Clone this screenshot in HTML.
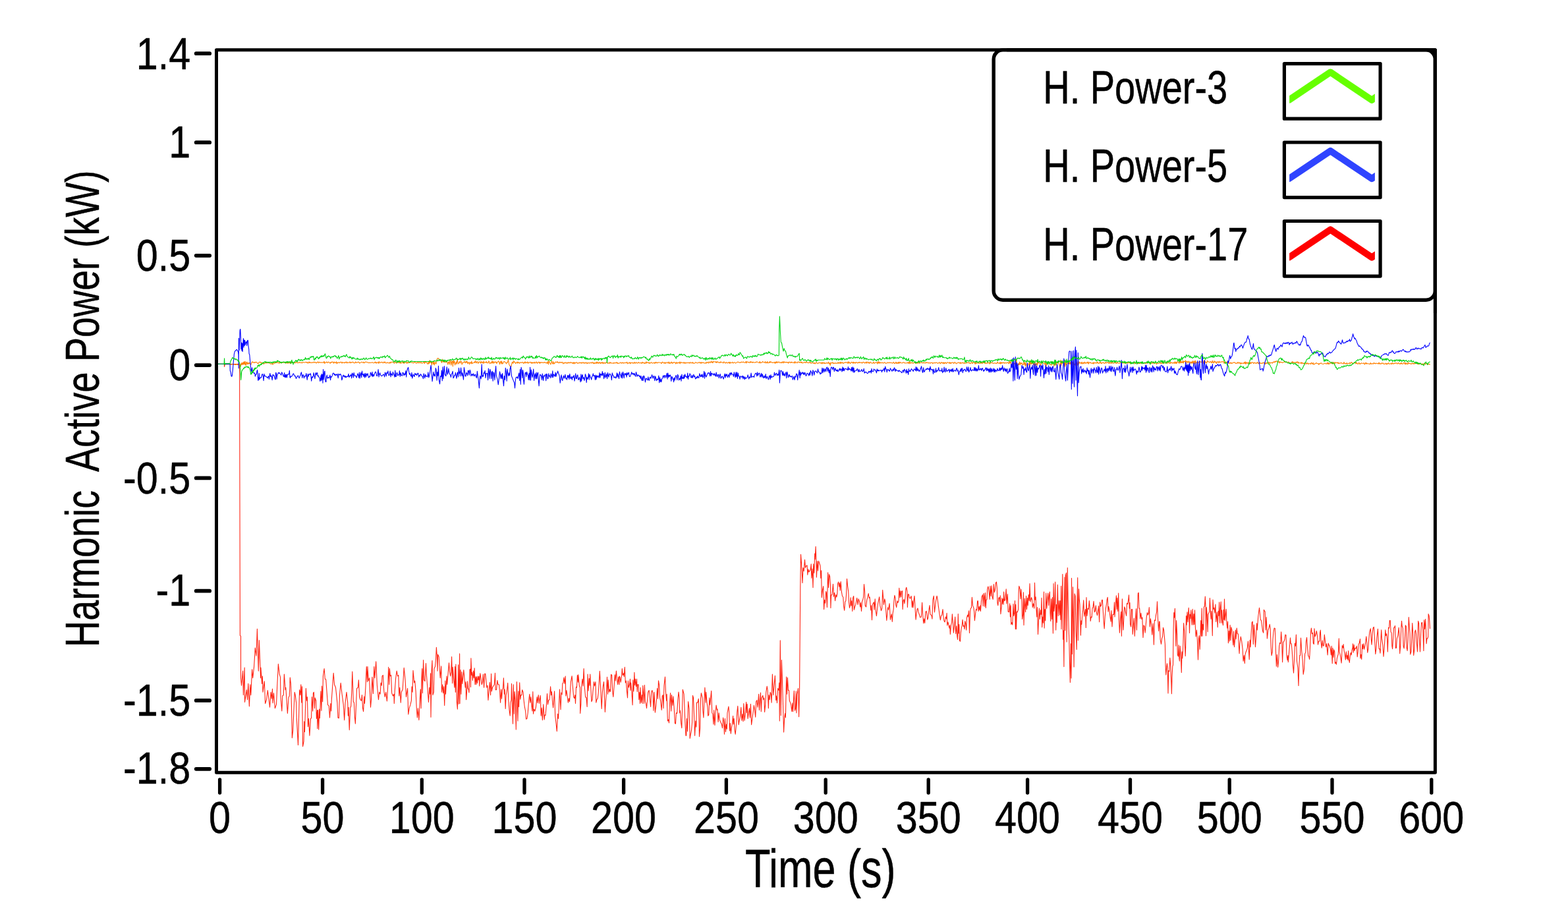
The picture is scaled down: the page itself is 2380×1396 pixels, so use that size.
<!DOCTYPE html>
<html lang="en"><head><meta charset="utf-8"><title>Harmonic Active Power</title>
<style>html,body{margin:0;padding:0;background:#fff;}body{width:2380px;height:1396px;overflow:hidden;}svg{display:block;}text{font-family:"Liberation Sans", sans-serif;fill:#000;white-space:pre;stroke:#000;stroke-width:0.50px;stroke-linejoin:round;}</style></head><body>
<svg width="2380" height="1396" viewBox="0 0 2380 1396">
<rect x="0" y="0" width="2380" height="1396" fill="#ffffff"/>
<g fill="none" stroke-linejoin="round" stroke-linecap="round">
<path d="M340.3 552.6 L340.6 556.5 L341.2 552.6 L363.6 552.6 L364.4 964.4 L365.5 965.1 L365.5 1028.8 L366.5 1040.3 L368.6 1018.1 L369.4 1054.6 L371.2 1013.1 L371.5 1065.4 L374.4 1046.7 L375.5 1061.8 L376.8 1037.4 L378.4 1071.8 L379.8 1038.8 L380.8 1054.6 L382.6 1015.9 L383.7 1028.8 L385.6 1011.6 L387.3 983.0 L389.0 995.2 L390.4 954.3 L392.3 1018.1 L393.4 971.5 L395.6 1028.8 L395.9 1013.1 L397.6 1037.4 L398.4 1026.0 L399.0 1050.3 L401.3 1033.8 L402.6 1067.5 L404.5 1061.8 L406.3 1047.5 L408.1 1061.1 L409.5 1073.2 L411.2 1050.3 L412.4 1060.3 L413.5 1045.3 L414.1 1066.8 L415.5 1051.8 L417.4 1074.7 L419.5 1068.9 L420.7 1041.7 L422.4 1007.6 L424.2 1023.1 L425.5 1027.4 L426.0 1057.5 L427.8 1079.0 L428.8 1056.0 L430.3 1054.6 L431.4 1023.1 L433.1 1046.7 L433.8 1043.2 L436.4 1082.5 L438.1 1058.2 L439.3 1056.0 L440.3 1028.1 L441.4 1037.4 L442.4 1068.9 L443.4 1119.8 L444.6 1109.0 L447.2 1050.3 L448.2 1054.6 L449.6 1066.1 L450.3 1090.4 L452.5 1130.5 L453.5 1090.4 L454.6 1046.7 L455.8 1054.6 L456.8 1038.8 L457.8 1066.1 L458.5 1041.7 L459.6 1132.7 L461.1 1124.8 L461.8 1094.7 L462.5 1110.5 L464.4 1044.6 L465.4 1063.2 L466.4 1057.5 L467.5 1102.6 L468.5 1090.4 L469.9 1116.2 L471.5 1090.4 L472.5 1089.7 L473.5 1057.5 L474.7 1079.0 L475.4 1051.8 L476.4 1050.3 L477.5 1074.7 L478.2 1058.9 L479.7 1063.2 L480.4 1090.4 L481.6 1077.5 L481.8 1105.5 L482.6 1077.5 L483.7 1106.9 L484.7 1076.1 L485.4 1089.7 L486.9 1048.9 L487.9 1078.2 L488.6 1041.0 L489.7 1064.6 L490.4 1026.0 L492.1 1014.5 L493.3 1030.3 L494.7 1031.0 L496.2 1051.8 L497.6 1069.7 L499.3 1071.1 L500.5 1089.0 L501.9 1067.5 L502.6 1079.0 L503.3 1061.8 L504.8 1040.3 L506.2 1021.4 L507.6 1038.8 L509.5 1043.2 L511.9 1066.1 L512.9 1089.0 L514.4 1089.7 L515.5 1054.6 L517.2 1036.3 L519.1 1053.2 L521.2 1068.9 L522.7 1092.6 L524.1 1066.1 L526.0 1050.3 L527.7 1066.1 L528.4 1086.1 L529.1 1073.2 L530.3 1107.6 L531.7 1074.0 L532.7 1071.8 L533.7 1051.8 L534.8 1019.1 L536.3 1064.6 L537.4 1066.1 L538.4 1087.6 L539.4 1098.3 L540.6 1068.2 L541.6 1044.6 L543.4 1043.2 L544.4 1031.7 L545.6 1057.5 L547.0 1061.8 L548.5 1063.2 L549.5 1054.6 L550.6 1074.7 L551.6 1079.7 L552.8 1056.8 L553.5 1067.5 L554.9 1043.2 L556.3 1011.6 L557.5 1034.6 L558.0 1011.6 L559.2 1033.1 L560.6 1028.8 L562.5 1073.2 L563.5 1061.8 L564.9 1027.4 L566.4 1052.5 L567.8 1011.6 L568.9 1028.8 L570.7 1003.8 L572.4 1040.3 L574.5 1061.8 L575.7 1050.3 L577.1 1053.2 L578.1 1036.0 L579.3 1040.3 L580.0 1026.0 L581.4 1024.5 L582.8 1048.9 L584.3 1057.5 L585.7 1050.3 L587.4 1063.9 L588.6 1043.2 L589.7 1012.4 L590.7 1038.8 L591.4 1014.5 L592.4 1026.0 L593.6 1024.5 L594.7 1051.8 L596.5 1056.0 L597.9 1053.2 L598.3 1067.5 L599.3 1047.5 L600.7 1028.8 L602.2 1018.1 L603.6 1026.0 L604.8 1024.5 L605.8 1056.0 L606.8 1043.2 L608.3 1066.1 L609.3 1050.3 L611.2 1046.0 L613.2 1013.4 L615.1 1031.7 L616.5 1057.5 L618.6 1044.6 L619.8 1084.0 L621.2 1074.7 L623.0 1068.9 L624.4 1063.2 L625.1 1041.7 L626.1 1050.3 L627.0 1017.4 L628.7 1036.0 L629.7 1033.1 L631.1 1048.9 L632.3 1074.7 L633.4 1089.0 L634.4 1074.7 L635.9 1092.6 L637.3 1061.8 L638.3 1046.0 L639.1 1074.7 L640.0 1028.8 L640.0 1028.8 L640.7 1014.5 L641.4 1051.8 L642.6 1001.6 L643.6 1031.7 L645.0 1033.8 L646.5 1006.6 L647.2 1021.7 L648.6 1040.3 L649.3 1048.9 L650.5 1065.4 L651.8 1043.2 L652.6 1053.2 L653.6 1021.7 L654.0 1088.3 L655.0 1020.2 L656.0 1002.3 L656.9 1054.6 L658.3 1050.3 L659.0 1014.5 L660.5 1011.6 L661.5 1000.2 L662.4 982.3 L663.4 997.3 L664.1 1018.1 L664.6 993.0 L666.2 996.6 L667.2 1013.1 L668.2 1028.8 L669.7 1010.9 L670.5 1050.3 L671.8 1038.8 L672.7 1051.8 L673.7 1041.7 L674.7 1070.4 L675.8 1033.1 L676.5 1053.2 L678.0 1026.0 L678.7 1038.8 L680.5 1017.4 L681.5 1005.9 L682.5 1019.5 L683.7 1026.0 L684.7 1020.2 L685.6 996.6 L686.6 1036.7 L687.3 1012.4 L688.7 1031.7 L689.9 1043.2 L690.6 1011.6 L691.3 1050.3 L691.9 1008.0 L692.6 1040.3 L693.4 1064.6 L694.4 1076.1 L695.2 1040.3 L695.6 1008.8 L696.3 1068.2 L697.6 991.9 L698.0 1067.5 L699.0 1016.6 L699.9 1053.2 L700.9 1019.5 L701.9 1037.4 L703.8 1016.6 L705.2 1031.7 L706.2 1043.2 L707.0 1034.6 L707.6 1061.8 L708.5 1050.3 L709.5 1033.8 L710.2 1044.6 L711.2 1046.0 L711.9 1051.0 L713.1 1015.9 L714.1 1015.2 L714.5 1042.4 L714.9 998.7 L715.9 1024.5 L716.6 1020.2 L717.4 1032.4 L718.5 1018.1 L719.2 1028.8 L720.2 1013.8 L721.0 1038.8 L722.0 1026.7 L722.8 1038.8 L723.5 1026.7 L724.5 1036.7 L725.5 1026.0 L726.4 1031.7 L727.1 1026.0 L727.7 1041.0 L728.8 1021.7 L730.3 1031.7 L731.3 1038.8 L732.4 1034.6 L733.4 1023.1 L734.6 1043.2 L735.7 1022.4 L736.7 1022.4 L737.9 1033.1 L738.9 1043.2 L739.9 1040.3 L741.0 1062.5 L742.0 1050.3 L743.4 1035.3 L744.6 1054.6 L745.6 1022.4 L746.3 1048.9 L747.5 1043.2 L748.9 1041.0 L750.3 1038.8 L751.5 1021.4 L752.2 1046.7 L753.6 1046.7 L754.9 1032.4 L756.0 1038.8 L757.5 1038.8 L758.5 1048.9 L759.6 1066.1 L760.6 1046.0 L761.5 1060.3 L762.5 1046.7 L763.5 1044.6 L764.4 1028.8 L765.4 1053.2 L766.1 1046.0 L767.2 1075.4 L768.2 1054.6 L769.7 1046.0 L770.7 1036.3 L771.8 1061.8 L773.0 1077.5 L774.2 1086.1 L775.0 1066.1 L776.1 1061.8 L776.5 1037.4 L777.5 1068.9 L778.5 1098.3 L779.3 1038.8 L780.4 1083.3 L781.1 1049.6 L782.3 1063.2 L783.3 1106.9 L784.4 1034.6 L785.9 1094.0 L786.9 1048.9 L787.6 1072.5 L788.7 1035.7 L789.7 1061.1 L790.7 1054.6 L791.9 1054.6 L792.6 1046.7 L794.0 1050.3 L795.0 1061.8 L796.2 1071.8 L797.6 1079.0 L798.6 1091.2 L800.0 1090.4 L801.2 1081.8 L802.6 1063.9 L803.8 1053.2 L804.8 1066.1 L805.9 1057.5 L806.9 1070.4 L807.9 1079.0 L808.8 1049.6 L809.5 1083.3 L810.5 1076.1 L811.9 1079.0 L813.4 1073.2 L815.1 1057.5 L815.9 1066.8 L817.2 1054.6 L818.4 1067.5 L819.1 1061.8 L820.2 1055.3 L821.2 1086.1 L822.2 1074.0 L823.4 1092.6 L824.8 1068.9 L826.2 1091.9 L827.0 1084.7 L828.0 1085.4 L829.4 1069.7 L830.5 1052.5 L831.5 1068.9 L832.7 1062.5 L834.1 1061.8 L835.6 1041.7 L836.6 1054.6 L837.4 1049.6 L838.4 1062.5 L839.6 1074.0 L840.6 1061.8 L841.6 1048.9 L842.7 1086.1 L844.1 1098.3 L845.3 1109.8 L846.6 1083.3 L847.5 1090.4 L848.5 1067.5 L849.5 1046.0 L850.3 1063.2 L851.0 1076.8 L852.0 1051.0 L853.0 1053.9 L853.8 1037.4 L854.9 1036.0 L855.9 1028.1 L857.0 1037.4 L858.2 1026.0 L858.8 1056.0 L859.9 1047.5 L861.4 1058.9 L862.4 1066.1 L863.5 1059.6 L864.5 1064.6 L865.2 1053.9 L866.4 1034.6 L868.1 1025.7 L869.2 1040.3 L870.7 1057.5 L871.8 1059.6 L872.8 1054.6 L873.5 1067.5 L874.5 1042.4 L875.4 1043.2 L876.4 1024.5 L877.4 1035.3 L877.8 1023.8 L879.3 1040.3 L880.4 1043.2 L880.7 1082.5 L881.8 1068.9 L882.8 1040.3 L884.0 1030.3 L885.0 1041.0 L886.1 1014.5 L887.1 1040.3 L888.6 1057.5 L890.0 1058.9 L891.1 1072.5 L892.1 1023.1 L893.1 1048.2 L894.3 1029.5 L895.0 1040.3 L895.7 1023.1 L896.7 1043.2 L897.9 1064.6 L899.0 1061.8 L900.0 1048.9 L901.5 1034.6 L902.5 1041.0 L903.9 1034.6 L904.8 1066.1 L905.8 1061.8 L907.2 1059.6 L908.2 1051.8 L909.3 1036.0 L910.3 1018.4 L911.5 1040.3 L913.2 1075.4 L914.4 1050.3 L915.4 1041.0 L916.5 1034.6 L917.5 1058.9 L918.4 1080.4 L919.4 1064.6 L920.4 1051.8 L921.5 1027.4 L922.5 1053.2 L923.2 1031.7 L924.4 1050.3 L925.5 1046.0 L926.5 1049.6 L927.5 1023.5 L928.7 1024.5 L929.7 1048.9 L930.8 1057.5 L932.3 1038.8 L933.3 1023.8 L934.1 1033.1 L935.4 1018.1 L936.6 1031.7 L937.7 1038.8 L938.7 1027.4 L940.0 1038.8 L940.0 1026.0 L941.1 1027.4 L942.1 1035.3 L943.6 1026.0 L944.3 1014.5 L945.3 1024.5 L946.5 1021.7 L947.2 1026.7 L948.3 1012.4 L949.3 1036.0 L950.3 1033.1 L951.5 1048.9 L952.5 1058.9 L953.3 1033.1 L954.3 1043.2 L955.5 1038.8 L956.5 1030.3 L956.9 1047.5 L957.6 1036.0 L958.9 1050.3 L960.1 1069.7 L960.8 1031.7 L961.8 1048.9 L962.9 1020.2 L963.6 1039.6 L964.4 1030.3 L965.5 1041.7 L966.5 1030.3 L967.2 1049.6 L967.9 1038.8 L969.1 1038.8 L969.8 1061.8 L970.8 1050.3 L971.5 1067.5 L972.2 1043.2 L973.2 1066.1 L974.4 1054.6 L975.1 1067.5 L975.8 1040.3 L977.0 1057.5 L977.5 1067.5 L978.4 1039.6 L979.4 1064.6 L980.5 1067.5 L981.5 1074.7 L982.5 1063.2 L983.7 1050.3 L985.1 1047.5 L986.1 1056.0 L987.6 1072.5 L988.7 1050.3 L989.9 1047.5 L990.9 1051.8 L991.9 1078.2 L993.0 1050.3 L994.4 1081.1 L995.6 1071.8 L996.6 1060.3 L997.6 1044.6 L998.5 1060.3 L999.5 1032.8 L1000.5 1038.8 L1001.6 1058.9 L1002.6 1063.2 L1004.2 1077.5 L1005.2 1056.0 L1006.2 1054.6 L1007.0 1074.7 L1008.0 1040.3 L1009.5 1027.1 L1010.5 1050.3 L1011.6 1063.2 L1012.1 1053.2 L1013.4 1094.0 L1014.5 1091.9 L1015.5 1096.9 L1016.6 1066.1 L1017.6 1051.5 L1018.8 1079.0 L1019.5 1054.6 L1021.0 1070.4 L1022.0 1056.8 L1023.1 1073.2 L1024.5 1097.6 L1025.5 1098.3 L1026.4 1081.8 L1027.7 1082.5 L1028.8 1063.2 L1030.0 1050.0 L1031.0 1058.9 L1031.7 1081.8 L1032.4 1078.2 L1033.8 1097.6 L1034.8 1104.8 L1036.3 1046.3 L1038.1 1053.2 L1038.8 1068.9 L1039.9 1096.2 L1041.0 1116.2 L1041.7 1116.2 L1042.4 1090.4 L1043.4 1109.8 L1044.6 1064.6 L1046.0 1075.4 L1047.2 1120.5 L1048.2 1114.8 L1049.6 1107.6 L1050.6 1096.2 L1051.5 1055.3 L1052.5 1058.9 L1053.5 1083.3 L1054.6 1116.2 L1055.8 1094.0 L1056.8 1103.3 L1057.5 1066.1 L1058.9 1066.1 L1060.3 1060.3 L1061.5 1117.7 L1062.5 1106.2 L1063.5 1060.3 L1064.4 1051.5 L1066.1 1058.9 L1066.8 1077.5 L1067.9 1089.0 L1068.9 1063.2 L1069.9 1043.4 L1071.1 1066.1 L1071.8 1050.3 L1073.0 1066.1 L1074.0 1073.2 L1074.7 1086.1 L1075.8 1084.7 L1076.8 1058.9 L1077.8 1069.7 L1078.7 1058.9 L1079.7 1048.2 L1080.8 1081.8 L1081.8 1083.3 L1083.0 1099.0 L1083.7 1077.5 L1085.0 1100.5 L1086.1 1081.8 L1087.1 1070.1 L1088.3 1077.5 L1089.0 1076.1 L1090.1 1095.4 L1091.2 1081.8 L1092.2 1091.9 L1094.0 1096.2 L1095.4 1099.0 L1096.5 1104.8 L1097.6 1089.0 L1098.6 1094.0 L1099.5 1114.1 L1100.5 1090.4 L1101.5 1110.5 L1102.6 1099.0 L1103.3 1106.2 L1104.0 1081.8 L1104.8 1077.5 L1105.9 1072.1 L1106.9 1083.3 L1107.6 1109.0 L1108.3 1097.6 L1109.3 1113.3 L1110.5 1103.3 L1111.5 1097.6 L1112.6 1086.4 L1113.3 1099.0 L1114.1 1090.4 L1115.1 1107.6 L1116.2 1114.1 L1117.7 1098.3 L1118.8 1080.4 L1119.8 1071.4 L1121.2 1099.7 L1122.2 1093.3 L1123.4 1087.6 L1124.8 1073.2 L1125.8 1093.3 L1127.0 1083.3 L1128.0 1094.7 L1128.8 1067.5 L1130.1 1093.3 L1131.3 1083.3 L1132.7 1065.4 L1133.4 1081.8 L1134.1 1068.2 L1135.1 1090.4 L1136.3 1081.8 L1137.4 1074.7 L1138.4 1089.0 L1139.4 1068.2 L1140.6 1099.7 L1142.0 1089.0 L1143.4 1079.0 L1144.4 1070.4 L1145.6 1077.5 L1146.7 1088.3 L1147.7 1064.6 L1148.9 1062.5 L1149.9 1073.2 L1150.6 1066.8 L1151.6 1053.2 L1152.5 1077.5 L1153.5 1063.2 L1154.5 1051.0 L1155.3 1079.7 L1156.3 1058.9 L1157.8 1055.3 L1158.9 1061.8 L1159.9 1058.9 L1160.6 1080.4 L1161.8 1068.9 L1162.8 1050.3 L1164.2 1041.4 L1165.2 1047.5 L1166.4 1074.7 L1167.1 1054.6 L1168.1 1061.8 L1169.2 1050.3 L1170.2 1053.2 L1171.1 1066.1 L1172.4 1023.1 L1173.1 1040.3 L1173.8 1054.6 L1175.0 1040.3 L1176.4 1025.2 L1177.8 1062.5 L1178.5 1056.0 L1179.5 1066.8 L1180.7 1044.6 L1182.1 1047.5 L1182.8 1036.0 L1183.3 1094.0 L1184.3 971.8 L1185.3 1085.4 L1186.4 1001.6 L1187.8 1043.2 L1189.6 1110.9 L1190.7 1089.0 L1191.7 1082.5 L1192.4 1089.0 L1193.6 1027.1 L1194.6 1053.2 L1195.4 1028.4 L1196.5 1047.5 L1197.5 1047.5 L1198.3 1063.2 L1199.6 1066.1 L1200.7 1069.7 L1201.8 1079.7 L1202.9 1066.8 L1203.6 1079.7 L1204.3 1066.8 L1205.3 1048.2 L1206.5 1078.2 L1207.5 1075.4 L1208.3 1048.9 L1209.0 1081.8 L1209.8 1053.9 L1210.8 1048.9 L1211.5 1044.6 L1212.6 1087.6 L1213.6 1043.2 L1214.8 891.6 L1215.5 841.2 L1216.5 854.4 L1217.2 867.3 L1218.0 884.5 L1219.0 861.5 L1220.1 866.6 L1221.5 849.4 L1222.5 861.5 L1223.6 858.7 L1225.1 858.0 L1225.8 872.3 L1226.8 863.7 L1227.9 868.0 L1229.4 865.9 L1230.4 863.0 L1231.2 855.8 L1231.8 877.3 L1233.0 863.0 L1234.0 891.6 L1234.7 855.8 L1235.8 869.4 L1236.7 840.1 L1237.2 848.6 L1238.1 829.3 L1239.0 852.2 L1239.4 875.9 L1240.5 851.5 L1241.5 865.9 L1242.5 851.2 L1243.7 854.4 L1245.1 858.7 L1245.8 877.3 L1246.6 865.9 L1247.3 906.7 L1248.4 895.9 L1249.7 889.5 L1250.6 924.6 L1251.6 910.3 L1252.6 915.3 L1253.7 897.4 L1254.4 899.5 L1255.4 921.4 L1256.6 868.7 L1257.6 891.6 L1258.5 871.6 L1259.5 874.4 L1260.5 888.0 L1260.9 922.4 L1261.6 903.1 L1263.0 902.4 L1264.5 886.3 L1265.6 905.2 L1266.6 899.5 L1267.6 911.7 L1268.8 902.4 L1269.9 906.0 L1270.9 900.2 L1271.6 885.9 L1272.6 883.0 L1273.8 890.2 L1274.5 884.5 L1275.2 895.9 L1276.2 882.6 L1277.4 898.1 L1278.5 904.5 L1279.8 906.0 L1280.5 918.9 L1281.7 926.3 L1282.8 913.1 L1283.8 911.7 L1284.5 903.1 L1285.5 878.3 L1286.7 890.2 L1287.7 897.4 L1288.5 913.8 L1289.5 922.4 L1290.5 918.1 L1291.3 906.7 L1292.1 918.9 L1292.8 911.7 L1293.8 927.5 L1294.6 907.4 L1295.7 904.5 L1296.4 925.3 L1297.7 920.3 L1298.8 917.4 L1299.9 911.7 L1300.7 907.4 L1302.0 917.4 L1303.2 908.8 L1304.6 913.1 L1305.7 921.0 L1306.5 914.6 L1307.5 927.5 L1308.5 913.1 L1309.6 910.3 L1310.6 906.0 L1311.5 886.6 L1312.5 896.6 L1313.2 918.9 L1314.6 921.0 L1315.8 910.3 L1316.8 906.7 L1318.2 900.5 L1319.2 907.4 L1320.1 906.0 L1321.1 917.4 L1321.8 926.0 L1322.5 918.9 L1323.5 940.8 L1324.4 917.4 L1325.4 915.3 L1326.4 913.8 L1327.1 925.3 L1328.2 908.8 L1329.2 926.0 L1330.4 934.6 L1331.4 926.0 L1332.5 916.7 L1333.5 911.7 L1334.7 905.7 L1335.8 918.9 L1336.8 923.1 L1337.5 926.7 L1338.7 923.1 L1339.7 895.2 L1340.7 908.1 L1341.4 917.4 L1342.8 908.8 L1343.7 913.1 L1344.7 926.0 L1345.8 941.5 L1346.8 931.8 L1347.6 921.7 L1348.6 925.3 L1349.3 920.3 L1350.1 915.7 L1351.4 940.3 L1352.3 936.0 L1353.3 931.8 L1354.3 943.5 L1355.2 930.3 L1356.2 924.6 L1356.9 912.4 L1357.9 903.4 L1359.0 907.4 L1359.7 917.4 L1360.7 921.7 L1361.9 911.7 L1362.9 914.6 L1364.0 911.7 L1364.8 892.4 L1365.8 906.7 L1366.5 896.6 L1367.6 906.0 L1368.3 897.4 L1369.5 896.6 L1370.1 924.6 L1370.9 911.7 L1371.9 909.5 L1372.9 916.0 L1374.1 906.0 L1374.8 894.5 L1375.8 891.2 L1376.9 897.4 L1377.4 921.4 L1378.4 901.7 L1379.4 901.7 L1380.5 907.4 L1381.7 908.1 L1383.1 904.5 L1383.8 911.7 L1384.4 921.4 L1385.2 911.7 L1386.0 922.0 L1387.0 911.0 L1388.0 904.2 L1389.1 923.1 L1390.1 940.1 L1391.0 931.8 L1392.0 924.6 L1393.0 922.9 L1394.1 928.9 L1395.6 933.2 L1396.6 936.8 L1398.4 936.0 L1399.6 914.3 L1400.6 931.8 L1401.7 945.8 L1402.7 938.9 L1403.7 945.4 L1404.9 928.9 L1406.0 927.2 L1406.7 930.3 L1407.7 940.3 L1408.7 937.5 L1409.9 926.0 L1411.0 918.6 L1412.0 931.8 L1413.2 933.2 L1414.2 934.6 L1414.9 939.2 L1415.9 910.3 L1417.3 904.2 L1418.5 928.9 L1419.5 920.3 L1420.6 911.7 L1422.1 904.2 L1423.2 910.3 L1424.2 918.9 L1425.2 926.0 L1426.4 934.6 L1427.4 940.8 L1428.5 934.6 L1429.7 933.2 L1431.0 924.6 L1431.7 933.2 L1432.8 941.8 L1434.2 943.9 L1435.4 936.0 L1436.4 938.9 L1437.1 930.3 L1437.8 948.9 L1439.0 943.9 L1440.0 948.9 L1441.0 953.2 L1441.7 948.9 L1442.4 962.5 L1443.5 948.9 L1444.6 944.6 L1445.4 931.8 L1446.4 944.6 L1447.4 960.1 L1448.6 948.9 L1449.7 936.0 L1450.7 961.8 L1451.7 949.7 L1452.9 966.1 L1453.6 970.4 L1454.3 931.5 L1455.0 961.1 L1455.7 947.5 L1456.5 971.9 L1457.5 973.3 L1458.3 960.4 L1459.3 953.2 L1460.3 948.9 L1461.0 940.3 L1462.2 950.4 L1462.9 948.9 L1464.0 954.7 L1464.8 942.5 L1465.8 946.1 L1466.8 956.1 L1467.5 937.5 L1468.6 933.2 L1469.3 936.0 L1470.5 926.7 L1471.5 960.4 L1472.5 928.9 L1473.3 923.1 L1474.4 922.4 L1475.4 906.4 L1476.5 918.9 L1477.9 922.4 L1478.7 928.9 L1479.4 941.8 L1480.5 931.8 L1481.5 924.6 L1482.5 926.0 L1483.7 911.7 L1484.4 911.7 L1485.1 927.5 L1486.1 920.3 L1487.0 926.0 L1488.0 918.9 L1488.4 927.5 L1489.4 913.1 L1490.1 906.0 L1491.5 902.4 L1492.3 919.6 L1493.3 900.2 L1494.0 904.5 L1494.7 920.3 L1495.6 899.5 L1496.3 922.4 L1497.0 910.3 L1498.0 909.5 L1498.7 894.5 L1499.7 890.2 L1500.0 890.1 L1501.2 898.7 L1502.2 909.5 L1502.9 889.4 L1504.0 904.4 L1505.0 888.7 L1506.0 905.2 L1507.2 909.5 L1508.3 886.5 L1509.3 898.7 L1510.3 895.9 L1511.5 884.4 L1512.5 883.0 L1513.3 891.5 L1514.0 915.2 L1514.8 918.8 L1515.8 907.3 L1516.9 906.6 L1517.6 913.0 L1518.3 903.7 L1518.9 931.7 L1520.1 920.9 L1520.8 907.3 L1521.2 916.6 L1522.2 908.7 L1523.2 917.3 L1523.6 898.0 L1524.6 911.6 L1525.8 910.2 L1527.2 893.7 L1527.9 915.9 L1528.7 907.3 L1529.4 901.6 L1530.1 928.1 L1531.5 928.8 L1532.7 915.9 L1533.4 936.0 L1534.1 918.8 L1534.8 947.4 L1535.8 944.6 L1536.8 948.1 L1538.0 916.6 L1538.7 934.5 L1539.8 930.2 L1540.5 911.6 L1541.3 954.6 L1541.8 917.3 L1542.5 954.6 L1543.4 928.1 L1544.4 928.8 L1545.6 924.5 L1546.1 899.4 L1546.8 889.4 L1548.0 893.0 L1549.0 908.7 L1549.9 894.4 L1550.9 913.0 L1551.6 939.5 L1552.7 932.4 L1553.4 898.7 L1554.0 948.6 L1555.2 908.0 L1555.9 917.3 L1556.6 928.8 L1557.6 904.4 L1558.5 924.5 L1559.5 907.3 L1560.2 918.8 L1561.3 902.3 L1562.3 911.6 L1563.0 885.5 L1564.0 913.0 L1565.6 906.6 L1566.6 910.2 L1567.3 921.6 L1568.5 915.9 L1569.8 923.1 L1570.5 884.4 L1571.2 910.2 L1572.1 905.9 L1572.8 921.6 L1573.8 936.0 L1574.5 921.6 L1575.5 962.5 L1576.7 936.0 L1577.4 923.1 L1578.4 939.5 L1579.5 925.9 L1580.2 932.4 L1581.0 907.3 L1581.7 951.7 L1582.7 936.0 L1583.5 945.3 L1584.5 898.0 L1585.2 953.1 L1586.0 924.5 L1586.7 941.7 L1587.7 900.1 L1588.8 923.1 L1590.0 907.3 L1590.7 900.1 L1591.7 918.8 L1592.4 904.4 L1593.4 898.0 L1594.1 930.2 L1594.8 942.4 L1595.7 908.7 L1596.7 939.5 L1597.4 906.6 L1598.4 961.0 L1599.1 885.5 L1599.9 927.4 L1600.7 918.8 L1601.7 883.0 L1602.7 956.0 L1603.4 917.3 L1604.2 944.6 L1605.3 887.2 L1606.3 934.5 L1607.5 911.6 L1608.5 933.1 L1609.2 911.6 L1610.0 940.3 L1610.6 889.4 L1611.0 954.6 L1611.8 921.6 L1612.8 871.2 L1613.6 970.3 L1614.3 956.7 L1614.9 1011.6 L1615.8 875.8 L1616.8 956.7 L1617.5 872.9 L1618.5 869.3 L1619.2 973.9 L1620.3 861.5 L1621.1 906.6 L1622.1 952.4 L1622.8 970.3 L1623.5 1004.7 L1624.4 1035.5 L1625.4 976.8 L1626.1 1029.1 L1626.5 877.2 L1627.5 992.5 L1628.5 890.8 L1629.4 938.8 L1630.1 1011.9 L1631.1 900.9 L1632.1 904.4 L1633.0 956.7 L1634.2 985.4 L1635.0 910.2 L1635.7 876.5 L1636.4 971.8 L1637.5 893.7 L1638.2 908.7 L1639.0 917.3 L1639.7 941.7 L1640.4 963.9 L1641.1 941.7 L1641.8 947.4 L1642.8 931.7 L1643.7 925.9 L1644.7 910.9 L1645.7 935.2 L1646.8 929.5 L1647.6 924.5 L1648.3 952.4 L1649.0 906.6 L1650.0 934.5 L1651.2 923.1 L1652.3 924.5 L1653.3 911.6 L1654.3 923.1 L1655.2 942.4 L1656.2 936.0 L1657.2 936.7 L1658.0 923.1 L1659.0 921.6 L1660.0 912.3 L1661.2 928.8 L1662.2 927.4 L1663.3 918.8 L1664.3 928.8 L1665.5 933.8 L1666.5 927.4 L1667.6 919.5 L1668.6 943.8 L1669.5 913.8 L1670.5 920.2 L1671.5 918.8 L1672.6 910.2 L1673.3 910.2 L1674.4 928.8 L1675.2 941.7 L1676.2 953.9 L1677.2 936.0 L1678.4 923.1 L1679.4 917.3 L1680.2 910.2 L1681.2 906.2 L1682.0 928.1 L1682.7 920.2 L1683.8 925.9 L1684.8 934.5 L1686.0 943.1 L1687.0 926.6 L1688.0 951.0 L1689.1 932.4 L1690.5 932.4 L1691.5 913.8 L1692.0 936.0 L1693.0 921.6 L1694.4 903.7 L1695.1 924.5 L1695.8 907.3 L1696.7 927.4 L1697.7 900.1 L1698.4 938.8 L1699.4 960.3 L1700.6 938.8 L1701.7 928.1 L1702.4 965.3 L1703.4 908.7 L1704.2 943.1 L1704.9 956.0 L1705.9 936.7 L1706.7 920.9 L1707.7 923.1 L1708.7 930.2 L1709.6 934.5 L1710.6 915.2 L1711.6 916.6 L1712.5 911.6 L1713.5 902.7 L1714.2 923.1 L1714.9 914.5 L1715.6 947.4 L1716.6 951.0 L1717.5 924.5 L1718.5 924.5 L1719.2 962.5 L1720.2 950.3 L1721.3 938.1 L1722.3 965.3 L1723.5 940.3 L1724.5 923.8 L1725.4 956.0 L1726.4 924.5 L1727.4 900.1 L1728.2 899.4 L1728.9 923.1 L1729.7 923.1 L1730.7 938.8 L1731.8 930.2 L1732.8 939.5 L1733.8 936.7 L1735.0 967.5 L1736.0 948.9 L1737.1 950.3 L1738.1 960.3 L1739.3 947.4 L1740.3 936.0 L1741.4 929.5 L1742.4 933.1 L1743.5 930.2 L1744.3 921.6 L1745.3 951.0 L1746.4 938.8 L1747.6 948.1 L1748.8 963.2 L1750.0 946.0 L1750.7 956.7 L1751.4 978.2 L1752.4 941.0 L1753.6 941.7 L1754.6 933.1 L1755.7 928.1 L1756.5 912.8 L1757.5 938.8 L1758.6 957.5 L1759.6 943.1 L1760.1 943.1 L1761.2 970.3 L1762.5 977.5 L1763.6 968.9 L1764.6 966.0 L1765.5 952.4 L1766.5 956.0 L1767.5 967.4 L1768.4 977.5 L1769.1 1010.4 L1769.8 1024.0 L1770.8 1011.8 L1771.5 1006.8 L1772.2 1013.3 L1773.0 1052.0 L1773.7 1017.6 L1774.8 1019.0 L1775.8 998.2 L1776.8 1011.1 L1778.0 1039.0 L1778.4 1052.7 L1779.0 1027.6 L1779.8 1011.1 L1780.5 1009.0 L1781.1 956.0 L1781.8 929.5 L1782.5 937.3 L1783.4 923.3 L1784.1 950.2 L1784.8 980.3 L1785.6 941.6 L1786.6 963.1 L1787.3 993.2 L1788.4 996.1 L1789.1 978.9 L1789.9 999.7 L1790.4 1003.2 L1791.2 980.3 L1791.9 990.3 L1792.6 1001.8 L1793.3 1020.4 L1794.0 988.9 L1794.7 998.9 L1795.4 988.9 L1795.9 975.3 L1796.6 945.6 L1797.6 957.4 L1798.5 980.3 L1799.2 995.4 L1799.7 981.8 L1800.5 934.5 L1801.2 948.1 L1802.0 928.7 L1803.0 943.8 L1804.2 922.3 L1804.9 933.0 L1805.5 960.5 L1806.2 932.3 L1806.9 938.8 L1807.8 925.9 L1808.5 937.3 L1809.2 948.1 L1810.2 924.4 L1811.2 948.1 L1812.1 931.6 L1812.8 947.4 L1813.5 925.9 L1814.2 948.1 L1815.2 966.0 L1816.4 956.0 L1817.4 971.0 L1818.5 1001.1 L1819.5 968.9 L1820.2 964.6 L1821.2 985.3 L1822.0 965.3 L1822.7 941.6 L1823.5 965.3 L1824.2 923.0 L1825.0 965.3 L1825.7 947.4 L1826.7 956.0 L1827.4 920.9 L1828.4 920.1 L1829.3 905.1 L1830.0 920.1 L1830.5 964.8 L1831.3 921.6 L1832.1 932.3 L1833.1 958.8 L1833.8 932.3 L1834.8 930.2 L1835.7 928.0 L1836.4 907.5 L1837.4 927.3 L1838.1 939.5 L1838.8 927.3 L1839.6 940.2 L1840.3 964.6 L1841.0 910.1 L1842.0 924.4 L1842.9 922.3 L1843.9 930.2 L1844.9 917.0 L1845.7 943.4 L1846.5 935.9 L1847.2 928.7 L1848.2 951.7 L1849.2 927.3 L1849.9 934.5 L1850.6 913.7 L1851.5 945.2 L1852.2 924.4 L1853.2 913.0 L1853.9 945.2 L1854.6 925.9 L1855.6 944.5 L1856.5 948.8 L1857.2 925.2 L1857.9 940.2 L1858.5 909.0 L1859.2 941.6 L1860.1 933.8 L1861.1 924.4 L1861.8 943.1 L1862.8 953.1 L1863.6 943.1 L1864.4 975.7 L1865.4 957.4 L1866.1 973.1 L1867.1 948.5 L1867.9 971.4 L1868.9 951.7 L1869.9 956.0 L1870.8 967.4 L1871.8 978.9 L1872.5 958.1 L1873.5 981.8 L1874.7 968.9 L1875.4 956.0 L1876.1 969.6 L1877.2 953.1 L1878.2 961.7 L1879.3 961.7 L1880.1 975.3 L1881.1 991.8 L1881.8 976.7 L1883.3 966.0 L1884.7 973.1 L1886.1 984.6 L1887.1 1003.2 L1888.3 994.6 L1889.3 1006.8 L1890.0 993.2 L1891.2 988.9 L1892.3 986.8 L1893.3 983.2 L1894.4 973.1 L1895.4 986.0 L1896.2 1000.7 L1897.2 971.0 L1898.0 981.8 L1899.0 963.1 L1900.2 944.5 L1901.2 943.1 L1902.3 977.5 L1903.3 948.1 L1904.3 960.3 L1905.5 981.8 L1906.5 967.4 L1907.6 945.9 L1908.3 956.0 L1909.0 945.9 L1909.8 935.2 L1910.8 927.3 L1911.5 922.3 L1912.3 930.2 L1913.3 940.2 L1914.4 941.6 L1915.5 949.5 L1916.5 957.4 L1917.7 960.3 L1918.4 925.2 L1919.4 927.3 L1920.2 928.0 L1921.2 956.0 L1922.2 936.6 L1923.4 968.9 L1924.8 956.0 L1926.0 953.1 L1927.2 947.4 L1928.1 953.1 L1929.1 980.3 L1930.1 994.6 L1931.3 988.9 L1932.0 970.3 L1933.0 958.8 L1934.1 953.1 L1935.3 953.4 L1936.3 984.6 L1937.4 1011.1 L1938.4 993.2 L1939.6 1012.5 L1940.6 1003.2 L1941.7 980.3 L1942.7 975.3 L1943.7 976.7 L1944.6 958.8 L1945.6 973.1 L1946.6 1004.7 L1947.7 974.6 L1948.9 973.1 L1949.9 970.3 L1950.9 963.1 L1952.0 963.8 L1953.0 994.6 L1954.2 1001.8 L1954.9 994.6 L1955.3 1004.7 L1956.3 993.2 L1957.5 980.3 L1958.5 967.7 L1959.2 976.7 L1960.2 976.7 L1961.3 988.9 L1962.3 1007.5 L1963.5 1021.1 L1964.5 1001.8 L1965.4 976.0 L1966.4 980.3 L1967.4 963.1 L1968.5 1003.2 L1969.9 1013.3 L1971.0 1040.5 L1971.8 1010.4 L1972.8 994.6 L1973.5 994.6 L1974.5 968.1 L1975.7 987.5 L1977.1 1001.1 L1978.2 1023.3 L1979.5 1015.4 L1980.7 991.8 L1981.7 990.3 L1982.5 973.1 L1983.5 967.4 L1984.6 983.2 L1985.7 995.4 L1986.7 996.1 L1987.6 1000.4 L1988.6 980.3 L1989.6 958.8 L1990.4 953.1 L1991.4 961.7 L1992.4 960.3 L1993.3 976.0 L1994.3 977.5 L1995.0 953.8 L1996.0 966.0 L1997.2 963.1 L1998.3 957.4 L1999.3 963.1 L2000.5 978.2 L2001.5 973.1 L2002.9 972.9 L2003.6 959.5 L2004.3 956.0 L2005.0 973.1 L2006.2 983.2 L2007.2 971.7 L2008.2 980.3 L2009.3 979.6 L2010.3 963.1 L2011.5 973.1 L2012.6 981.8 L2013.6 976.7 L2015.1 993.9 L2016.2 976.0 L2017.2 978.9 L2018.2 980.3 L2019.4 984.6 L2020.4 993.9 L2021.2 980.3 L2022.2 1006.8 L2023.0 983.2 L2024.0 997.5 L2024.8 985.8 L2025.8 988.9 L2026.5 1006.8 L2027.5 1004.7 L2028.4 1008.2 L2029.4 998.9 L2031.3 992.5 L2032.3 968.9 L2033.0 988.9 L2034.1 993.2 L2035.1 998.9 L2036.1 1006.1 L2037.3 979.6 L2038.4 983.2 L2039.1 977.5 L2040.1 987.5 L2041.3 993.2 L2042.3 1001.1 L2043.3 988.9 L2044.4 999.7 L2045.2 994.6 L2045.9 1001.8 L2046.6 987.5 L2047.3 1000.4 L2048.3 1005.4 L2049.2 996.1 L2050.2 990.3 L2051.2 993.9 L2052.0 986.8 L2053.0 983.2 L2053.5 976.7 L2054.2 990.3 L2055.2 978.2 L2055.9 987.5 L2057.1 983.2 L2058.1 983.9 L2059.2 980.3 L2060.2 996.8 L2061.2 988.9 L2062.1 977.5 L2063.1 976.0 L2064.5 969.6 L2064.9 998.9 L2065.9 993.2 L2066.7 1000.4 L2067.7 977.5 L2068.5 984.6 L2069.5 976.7 L2070.5 985.3 L2071.4 981.8 L2072.4 976.7 L2073.8 965.7 L2074.8 976.0 L2075.7 990.3 L2076.7 984.6 L2077.7 970.3 L2078.8 958.8 L2080.3 953.8 L2081.3 970.3 L2082.0 978.2 L2083.1 961.7 L2084.1 953.1 L2085.3 951.4 L2086.3 964.6 L2087.1 980.3 L2087.8 992.5 L2088.8 984.6 L2089.9 967.4 L2090.7 960.3 L2091.4 954.2 L2092.2 973.1 L2093.2 984.6 L2094.2 984.6 L2095.0 991.1 L2096.0 968.9 L2096.7 955.7 L2097.4 968.9 L2098.9 978.9 L2100.0 996.1 L2101.0 984.6 L2102.0 970.3 L2102.8 955.7 L2103.6 964.6 L2104.6 961.7 L2105.6 970.3 L2106.3 988.9 L2107.5 952.4 L2108.5 953.1 L2109.3 941.6 L2110.1 941.4 L2111.1 958.8 L2112.1 960.3 L2112.9 980.3 L2113.6 984.6 L2114.6 968.9 L2115.6 952.4 L2116.8 951.7 L2117.5 949.5 L2118.5 983.5 L2119.4 983.2 L2120.4 968.9 L2121.8 964.6 L2123.2 952.4 L2124.2 970.3 L2124.7 991.8 L2125.8 978.9 L2126.8 952.4 L2127.5 942.4 L2128.2 950.2 L2129.3 953.1 L2130.1 980.3 L2131.1 983.9 L2132.3 970.3 L2133.3 948.8 L2134.3 950.2 L2135.1 982.5 L2136.1 987.5 L2137.1 970.3 L2138.3 936.6 L2139.0 947.4 L2140.0 961.7 L2140.7 992.9 L2141.9 988.9 L2142.9 967.4 L2143.7 945.5 L2144.7 961.7 L2145.7 994.4 L2146.9 984.6 L2147.6 958.8 L2148.6 956.0 L2149.5 961.7 L2150.5 977.5 L2151.5 988.9 L2152.6 942.4 L2153.6 945.9 L2154.5 970.3 L2155.5 988.9 L2156.6 963.1 L2157.6 945.2 L2158.6 944.5 L2159.8 954.5 L2160.9 987.5 L2161.6 940.9 L2162.6 954.5 L2163.6 939.5 L2164.4 956.0 L2165.1 976.7 L2165.9 968.9 L2166.9 968.9 L2167.7 966.0 L2168.1 931.6 L2169.1 934.5 L2169.8 941.6 L2170.5 953.8" stroke="#ff2211" stroke-width="1.08"/>
<path d="M331.0 552.4 L349.0 552.4 L349.3 552.7 L350.6 553.2 L352.4 552.3 L354.1 553.2 L355.8 552.7 L357.5 553.4 L359.2 552.7 L360.9 553.4 L362.7 552.7 L364.4 554.0 L365.2 556.2 L365.9 551.9 L366.5 553.2 L367.1 550.2 L367.8 553.6 L368.4 550.6 L369.1 552.7 L369.7 549.3 L370.2 553.2 L370.8 548.9 L371.4 552.7 L372.1 548.4 L372.7 553.6 L373.4 554.5 L374.0 549.3 L374.5 551.9 L375.1 549.3 L375.7 552.7 L376.4 551.0 L377.1 552.3 L377.7 550.2 L378.3 551.5 L379.0 550.6 L379.9 551.9 L380.7 553.6 L381.6 551.5 L382.4 549.3 L383.3 548.9 L384.1 550.2 L385.0 549.7 L385.9 550.6 L386.7 549.7 L387.6 550.2 L388.4 549.3 L389.3 549.7 L390.2 550.2 L391.0 551.5 L391.9 551.9 L392.7 550.2 L393.6 549.3 L394.5 549.7 L395.3 549.3 L396.2 550.6 L397.0 550.2 L397.9 551.0 L398.8 550.6 L399.6 551.9 L400.5 552.3 L401.3 551.5 L402.2 551.0 L403.1 550.2 L403.9 551.0 L404.8 550.6 L405.6 551.0 L406.5 550.2 L407.4 550.6 L408.2 551.0 L409.1 550.6 L409.9 551.5 L410.8 552.3 L411.6 551.9 L412.5 552.3 L413.4 551.5 L414.2 553.2 L415.1 551.0 L415.9 550.2 L416.9 551.3 L417.9 549.2 L418.7 550.8 L419.5 550.3 L420.3 549.4 L421.2 550.6 L422.1 550.0 L423.1 550.7 L423.9 551.3 L424.9 549.7 L425.8 550.1 L426.6 550.9 L427.4 550.5 L428.2 549.9 L429.0 549.7 L429.7 550.2 L430.6 550.1 L431.4 550.0 L432.3 550.0 L433.2 550.9 L434.0 550.2 L434.9 551.2 L435.9 549.0 L436.6 551.3 L437.6 550.6 L438.4 551.0 L439.2 550.8 L440.0 549.0 L440.8 551.5 L441.6 549.1 L442.3 550.6 L443.1 550.0 L443.9 550.0 L444.9 551.1 L445.7 550.3 L446.6 549.5 L447.4 551.0 L448.3 550.6 L449.1 549.6 L450.1 549.8 L450.8 550.5 L451.6 550.2 L452.4 550.8 L453.3 550.5 L454.2 549.3 L455.0 550.3 L455.7 550.6 L456.6 550.0 L457.5 549.7 L458.2 551.0 L459.1 550.4 L459.9 549.4 L460.8 549.8 L461.6 550.0 L462.5 550.1 L463.3 549.6 L464.1 549.8 L464.9 549.4 L465.7 550.5 L466.6 549.5 L467.4 551.2 L468.1 550.3 L468.9 549.0 L469.7 550.8 L470.6 549.4 L471.5 550.5 L472.5 550.7 L473.2 549.9 L474.1 549.8 L475.0 550.6 L475.9 550.0 L476.6 549.0 L477.4 550.1 L478.3 550.1 L479.1 549.6 L480.1 550.9 L481.0 550.6 L481.8 549.3 L482.7 549.1 L483.6 550.8 L484.4 549.4 L485.2 549.9 L486.1 549.8 L486.9 550.3 L487.6 550.4 L488.6 549.7 L489.4 550.1 L490.4 550.2 L491.1 550.5 L491.9 548.2 L492.8 551.5 L493.7 549.9 L494.4 550.1 L495.3 549.8 L496.1 549.0 L496.8 550.6 L497.7 550.3 L498.6 549.1 L499.5 549.7 L500.4 550.2 L501.2 551.4 L502.1 549.5 L502.9 550.3 L503.8 549.0 L504.7 549.4 L505.5 549.4 L506.4 551.2 L507.2 549.1 L508.2 550.4 L509.0 550.3 L509.7 550.4 L510.5 548.8 L511.3 551.9 L512.2 549.9 L513.1 550.4 L513.8 550.3 L514.7 549.8 L515.5 550.7 L516.3 550.0 L517.2 549.2 L518.2 549.5 L519.0 551.2 L519.9 549.6 L520.7 550.0 L521.7 550.6 L522.5 550.0 L523.4 550.8 L524.1 549.6 L524.9 550.0 L525.8 549.1 L526.7 551.1 L527.4 549.8 L528.2 550.1 L529.1 550.4 L529.9 550.1 L530.8 549.0 L531.6 550.9 L532.5 549.5 L533.3 550.1 L534.1 550.4 L535.1 549.2 L536.0 549.3 L536.9 550.8 L537.9 550.5 L538.8 550.8 L539.8 548.9 L540.6 550.4 L541.5 550.3 L542.5 549.7 L543.4 549.9 L544.1 549.1 L544.9 549.6 L545.7 551.3 L546.6 550.4 L547.4 550.0 L548.4 549.8 L549.1 549.3 L550.0 549.9 L551.0 550.6 L552.0 549.2 L552.9 550.8 L553.8 550.0 L554.5 549.7 L555.4 548.9 L556.2 549.7 L557.1 550.0 L558.0 549.8 L558.9 550.1 L559.8 550.8 L560.7 550.3 L561.6 550.4 L562.5 550.5 L563.4 550.2 L564.2 550.3 L565.1 549.7 L566.1 550.4 L566.8 550.7 L567.6 550.8 L568.5 550.3 L569.4 549.1 L570.2 550.9 L571.0 549.4 L571.8 551.1 L572.5 550.4 L573.3 550.1 L574.1 549.1 L574.9 551.7 L575.7 548.9 L576.5 550.0 L577.2 550.0 L578.0 550.4 L579.0 549.5 L579.7 549.4 L580.5 549.8 L581.2 551.0 L582.1 549.8 L582.8 549.1 L583.5 550.4 L584.5 549.0 L585.3 550.7 L586.2 550.9 L587.1 550.4 L588.0 549.8 L588.9 550.8 L589.7 550.8 L590.5 550.3 L591.3 551.2 L592.3 549.3 L593.2 551.0 L593.9 549.8 L594.8 549.2 L595.6 549.4 L596.4 549.6 L597.4 549.4 L598.2 551.2 L599.1 550.7 L599.8 549.4 L600.8 549.5 L601.7 551.3 L602.4 550.5 L603.2 549.9 L604.0 549.8 L604.9 550.4 L605.8 549.4 L606.8 551.0 L607.6 549.0 L608.5 551.4 L609.3 550.3 L610.3 550.3 L611.2 549.0 L612.1 551.4 L612.8 548.8 L613.8 551.2 L614.5 550.1 L615.4 549.8 L616.3 549.8 L617.2 551.3 L618.0 549.4 L618.8 551.1 L619.7 549.8 L620.6 550.5 L621.4 550.0 L622.3 550.1 L623.1 549.3 L624.0 549.8 L624.7 550.2 L625.5 550.3 L626.4 550.1 L627.2 551.0 L628.0 550.5 L629.0 549.4 L629.8 550.0 L630.7 549.8 L631.4 551.0 L632.1 551.1 L633.0 550.6 L633.8 549.6 L634.5 550.8 L635.3 550.8 L636.1 549.4 L637.1 550.6 L638.0 550.7 L639.0 549.4 L639.9 551.1 L640.9 550.9 L641.6 550.7 L642.6 550.1 L643.5 548.8 L644.3 551.8 L645.2 549.0 L646.2 550.0 L647.0 549.9 L647.9 550.8 L648.7 550.5 L649.6 552.8 L650.5 549.5 L651.3 551.6 L652.0 546.9 L652.8 550.6 L653.6 548.7 L654.5 549.8 L655.3 553.8 L656.0 548.9 L656.9 549.6 L657.8 552.9 L658.5 547.5 L659.4 553.9 L660.3 550.1 L661.2 550.3 L662.0 552.2 L662.4 548.5 L663.7 544.1 L665.0 543.5 L666.9 545.4 L668.7 546.6 L670.6 550.4 L671.5 545.1 L672.3 549.0 L673.1 548.2 L673.9 549.8 L674.7 548.0 L675.7 549.7 L676.5 549.3 L677.3 549.4 L678.1 549.0 L679.0 549.9 L679.8 553.1 L680.7 549.0 L681.5 549.7 L682.4 553.0 L683.2 545.8 L684.0 548.8 L684.8 554.1 L685.8 548.1 L686.6 547.8 L687.4 556.0 L688.2 546.7 L689.0 551.0 L689.8 547.8 L690.5 554.0 L691.5 551.6 L692.4 549.1 L693.2 552.7 L694.0 544.6 L695.0 551.0 L696.0 552.1 L696.8 549.5 L697.6 548.7 L698.5 551.1 L699.4 547.9 L700.2 548.7 L701.2 553.2 L702.1 550.2 L703.0 550.1 L704.0 550.1 L704.9 548.4 L705.7 549.6 L706.5 550.8 L707.5 548.1 L708.2 550.2 L709.1 548.3 L709.9 552.0 L710.9 550.3 L711.7 549.7 L712.6 552.9 L713.4 549.8 L714.3 550.0 L715.1 551.9 L715.9 548.0 L716.6 551.7 L717.4 551.1 L718.2 550.7 L719.1 550.3 L719.9 549.2 L720.7 550.5 L721.5 547.3 L722.3 549.8 L723.2 550.9 L724.0 548.3 L724.9 549.4 L725.8 551.6 L726.7 549.3 L727.6 548.9 L728.5 549.4 L729.5 551.2 L730.3 548.1 L731.1 550.6 L732.0 549.8 L732.8 550.8 L733.5 547.9 L734.3 551.4 L735.1 549.9 L735.9 549.2 L736.8 549.5 L737.7 550.7 L738.6 548.5 L739.5 550.6 L740.3 550.9 L741.0 550.8 L741.8 547.9 L742.6 549.0 L743.4 551.9 L744.2 551.1 L745.1 550.0 L746.0 551.2 L746.8 547.8 L747.7 551.0 L748.6 548.2 L749.5 551.3 L750.4 549.9 L751.3 548.8 L752.2 550.0 L753.1 549.1 L754.0 551.7 L754.9 549.4 L755.7 549.3 L756.6 547.9 L757.5 549.2 L758.4 552.8 L759.2 549.6 L760.0 548.1 L760.9 552.1 L761.6 548.1 L762.6 552.1 L763.4 551.6 L764.2 549.6 L765.1 548.4 L765.9 549.0 L766.7 549.5 L767.6 550.1 L768.5 552.0 L769.3 550.1 L770.2 550.4 L771.5 546.0 L772.7 552.9 L774.0 555.5 L775.9 556.1 L777.1 550.4 L778.0 549.1 L778.8 551.7 L779.7 547.8 L780.7 549.5 L781.5 549.3 L782.3 551.5 L783.2 550.6 L784.1 550.7 L784.9 549.1 L785.9 551.3 L786.7 549.6 L787.6 549.8 L788.5 551.4 L789.4 550.0 L790.3 549.9 L791.2 550.7 L792.0 550.0 L792.8 549.6 L793.5 549.7 L794.4 551.4 L795.3 550.2 L796.2 551.0 L797.0 548.8 L797.8 550.9 L798.7 550.1 L799.6 550.6 L800.5 549.0 L801.5 551.4 L802.4 549.8 L803.3 550.2 L804.1 550.1 L804.9 549.3 L805.7 549.9 L806.6 551.4 L807.5 549.6 L808.4 551.2 L809.1 550.2 L810.1 550.9 L810.9 549.3 L811.8 550.9 L812.6 550.9 L813.5 549.4 L814.5 549.3 L815.4 551.6 L816.3 549.9 L817.2 549.6 L818.0 549.4 L818.7 551.4 L819.6 549.5 L820.5 551.0 L821.2 549.8 L822.2 550.4 L823.1 549.8 L823.9 550.4 L824.7 550.7 L825.5 549.6 L826.4 550.3 L827.2 549.6 L828.0 550.4 L829.0 550.9 L829.9 550.0 L830.7 551.4 L831.6 548.5 L832.4 552.9 L833.2 547.5 L834.1 549.4 L834.9 551.2 L835.9 553.0 L836.8 550.4 L837.7 547.7 L838.6 551.5 L839.5 552.2 L840.3 548.7 L841.1 552.2 L842.0 551.2 L842.8 550.1 L843.6 548.9 L844.6 549.8 L845.4 549.9 L846.3 548.7 L847.1 550.6 L848.0 550.0 L848.7 550.8 L849.6 549.3 L850.5 550.3 L851.4 549.7 L852.2 550.5 L853.0 549.6 L853.8 549.5 L854.7 552.0 L855.6 551.1 L856.3 550.1 L857.2 551.2 L858.0 550.4 L858.8 549.8 L859.5 551.1 L860.3 551.1 L861.1 550.2 L861.8 551.2 L862.6 549.8 L863.5 550.7 L864.4 550.0 L865.2 551.0 L866.2 549.6 L867.1 550.1 L867.9 550.9 L868.7 550.4 L869.5 551.6 L870.3 549.8 L871.3 552.1 L872.1 549.8 L873.0 551.3 L874.0 550.5 L874.9 549.7 L875.7 550.2 L876.5 551.5 L877.4 550.5 L878.2 551.2 L879.1 550.7 L879.9 549.9 L880.7 551.0 L881.6 550.5 L882.4 550.1 L883.1 551.5 L884.1 550.2 L885.0 549.6 L885.8 550.9 L886.7 551.1 L887.5 550.2 L888.3 551.3 L889.1 550.0 L890.0 550.0 L890.8 551.9 L891.5 550.6 L892.4 551.1 L893.3 550.4 L894.3 550.7 L895.2 551.2 L896.1 550.1 L897.0 550.3 L898.0 551.2 L898.8 549.5 L899.8 550.2 L900.7 551.8 L901.4 550.1 L902.3 551.8 L903.1 550.6 L904.1 551.4 L905.0 549.3 L905.9 551.5 L906.9 549.3 L907.6 550.8 L908.4 551.5 L909.2 549.6 L910.0 551.0 L911.0 550.0 L911.7 551.7 L912.6 550.1 L913.4 550.8 L914.3 549.5 L915.2 551.9 L916.1 550.1 L917.0 551.2 L917.8 550.3 L918.7 551.4 L919.6 550.5 L920.3 549.5 L921.2 550.0 L922.1 551.4 L922.9 550.6 L923.8 550.9 L924.6 551.5 L925.4 549.8 L926.2 551.1 L927.1 549.8 L927.8 550.9 L928.7 551.2 L929.5 551.0 L930.3 550.8 L931.3 551.5 L932.2 550.1 L933.0 551.0 L933.8 551.1 L934.7 550.2 L935.5 549.7 L936.3 551.2 L937.2 550.0 L938.1 551.7 L939.0 551.3 L939.9 550.9 L940.7 551.0 L941.5 550.0 L942.3 550.0 L943.2 551.4 L944.1 550.4 L944.9 549.9 L945.8 551.3 L946.6 550.6 L947.5 550.5 L948.5 550.8 L949.3 550.3 L950.0 550.6 L950.9 550.4 L951.7 549.3 L952.4 551.9 L953.4 550.9 L954.4 550.8 L955.3 550.9 L956.2 549.6 L956.9 551.9 L957.9 550.6 L958.7 550.4 L959.7 550.0 L960.5 551.3 L961.3 550.7 L962.0 551.2 L962.9 549.4 L963.7 551.1 L964.5 551.2 L965.5 549.6 L966.4 550.6 L967.2 551.2 L968.1 550.7 L968.9 549.6 L969.8 550.6 L970.7 550.6 L971.5 550.7 L972.3 550.4 L973.1 550.6 L974.1 551.5 L974.9 549.3 L975.8 550.7 L976.5 550.6 L977.3 550.1 L978.1 551.8 L979.0 550.5 L979.9 551.4 L980.7 548.8 L981.6 551.0 L982.5 549.9 L983.4 550.1 L984.2 550.0 L984.9 551.3 L985.8 550.1 L986.6 551.5 L987.4 550.6 L988.3 549.9 L989.0 549.8 L989.9 551.2 L990.8 551.0 L991.7 550.6 L992.5 550.3 L993.4 551.3 L994.2 549.7 L995.1 551.1 L995.8 549.5 L996.7 550.2 L997.6 551.0 L998.5 549.9 L999.3 550.3 L1000.1 550.0 L1000.9 550.0 L1001.8 550.2 L1002.6 550.4 L1003.4 550.7 L1004.2 551.7 L1005.1 549.2 L1006.1 550.0 L1007.1 549.9 L1007.8 551.2 L1008.6 551.3 L1009.3 549.6 L1010.2 551.5 L1011.2 550.6 L1012.0 549.9 L1013.0 549.9 L1013.7 550.9 L1014.5 551.0 L1015.3 549.0 L1016.1 551.6 L1016.8 550.6 L1017.6 551.4 L1018.4 549.5 L1019.2 549.2 L1020.1 551.5 L1021.0 550.1 L1021.8 551.0 L1022.8 549.5 L1023.6 550.0 L1024.3 550.0 L1025.1 550.8 L1025.8 552.1 L1026.6 549.5 L1027.4 551.1 L1028.3 551.3 L1029.1 549.8 L1030.0 550.6 L1030.9 551.1 L1031.7 549.0 L1032.4 551.9 L1033.3 549.6 L1034.3 549.8 L1035.1 550.8 L1035.9 550.7 L1036.9 549.8 L1037.6 550.1 L1038.5 551.6 L1039.3 549.7 L1040.1 550.3 L1040.8 551.5 L1041.7 550.6 L1042.6 550.1 L1043.5 550.4 L1044.5 551.0 L1045.2 550.1 L1046.2 550.1 L1047.1 551.4 L1048.0 549.8 L1048.7 549.8 L1049.7 550.9 L1050.5 551.0 L1051.3 549.5 L1052.1 551.2 L1053.1 550.9 L1054.0 551.2 L1054.8 551.0 L1055.7 549.8 L1056.5 549.8 L1057.3 550.7 L1058.3 550.8 L1059.2 550.9 L1060.0 550.0 L1060.9 550.2 L1061.6 549.6 L1062.6 551.0 L1063.4 549.8 L1064.3 551.4 L1065.2 549.6 L1066.0 550.3 L1066.7 550.8 L1067.6 549.8 L1068.5 550.6 L1069.4 551.2 L1070.3 550.8 L1071.1 550.3 L1071.9 551.3 L1072.8 549.4 L1073.5 550.3 L1074.5 549.8 L1075.4 551.1 L1076.1 549.0 L1076.9 549.3 L1077.7 550.6 L1078.5 550.1 L1079.4 548.1 L1080.4 550.2 L1081.2 548.8 L1082.0 550.7 L1082.9 548.3 L1083.7 548.7 L1084.6 549.0 L1085.3 548.8 L1086.3 550.0 L1087.1 548.6 L1087.8 550.5 L1088.6 549.3 L1089.5 548.7 L1090.4 550.2 L1091.3 550.2 L1092.1 549.6 L1092.9 550.7 L1093.9 548.8 L1094.7 549.8 L1095.6 549.9 L1096.4 550.0 L1097.2 550.1 L1097.9 551.0 L1098.7 548.9 L1099.5 549.6 L1100.2 550.2 L1101.0 551.1 L1101.9 550.2 L1102.8 549.6 L1103.7 551.0 L1104.5 550.7 L1105.5 550.3 L1106.3 549.5 L1107.2 551.4 L1108.2 549.2 L1109.0 551.1 L1109.8 550.5 L1110.7 550.2 L1111.6 549.3 L1112.5 551.1 L1113.4 550.5 L1114.4 549.9 L1115.1 550.0 L1115.8 550.3 L1116.6 551.1 L1117.4 550.6 L1118.3 549.8 L1119.1 549.8 L1119.9 549.2 L1120.8 549.4 L1121.7 550.0 L1122.6 550.4 L1123.5 549.7 L1124.3 550.4 L1125.3 549.3 L1126.0 549.1 L1126.9 549.9 L1127.9 549.5 L1128.7 549.0 L1129.5 550.3 L1130.3 550.3 L1131.2 550.3 L1132.1 548.4 L1132.9 551.0 L1133.8 548.6 L1134.6 549.1 L1135.5 549.9 L1136.4 549.4 L1137.3 550.3 L1138.1 550.5 L1138.9 548.4 L1139.8 550.1 L1140.6 549.0 L1141.4 549.7 L1142.2 550.5 L1143.0 549.2 L1143.8 549.7 L1144.8 550.2 L1145.7 549.9 L1146.5 549.8 L1147.3 550.0 L1148.3 549.0 L1149.2 549.1 L1150.0 549.6 L1150.8 549.9 L1151.7 550.2 L1152.4 550.6 L1153.2 548.5 L1154.0 551.0 L1154.8 549.9 L1155.7 550.3 L1156.7 550.1 L1157.5 548.5 L1158.3 549.3 L1159.2 549.6 L1159.9 550.1 L1160.7 550.3 L1161.7 548.6 L1162.5 551.0 L1163.3 549.9 L1164.1 550.6 L1164.8 548.5 L1165.6 550.9 L1166.3 550.5 L1167.3 550.2 L1168.0 548.6 L1168.8 550.6 L1169.6 548.7 L1170.5 549.1 L1171.3 550.2 L1172.2 550.4 L1173.0 550.1 L1173.9 550.0 L1174.7 550.3 L1175.7 549.4 L1176.5 551.5 L1177.3 549.1 L1178.3 550.7 L1179.3 548.5 L1180.1 550.5 L1181.0 550.2 L1181.8 549.0 L1182.6 549.1 L1183.5 550.5 L1184.3 550.7 L1185.1 550.0 L1185.9 549.3 L1186.6 550.9 L1187.5 550.0 L1188.4 548.6 L1189.2 550.9 L1190.2 548.7 L1191.1 549.8 L1191.8 550.2 L1192.8 549.3 L1193.5 549.9 L1194.3 549.5 L1195.1 550.3 L1196.0 549.7 L1196.8 551.2 L1197.6 549.2 L1198.4 549.4 L1199.1 549.9 L1199.9 550.7 L1200.7 549.2 L1201.5 550.2 L1202.2 549.3 L1203.1 550.2 L1204.0 550.5 L1204.8 550.5 L1205.7 548.7 L1206.6 551.2 L1207.5 549.0 L1208.4 549.6 L1209.4 550.6 L1210.1 550.7 L1211.0 549.0 L1211.9 549.4 L1212.7 549.5 L1213.7 550.4 L1214.4 549.0 L1215.2 549.3 L1216.0 550.6 L1217.0 549.1 L1217.9 551.0 L1218.8 550.7 L1219.7 550.2 L1220.6 549.5 L1221.5 549.8 L1222.4 550.6 L1223.3 549.0 L1224.2 550.3 L1224.9 549.8 L1225.9 550.0 L1226.8 550.8 L1227.6 550.4 L1228.6 550.3 L1229.4 549.2 L1230.3 551.1 L1231.2 550.1 L1232.0 551.1 L1232.9 550.7 L1233.7 550.3 L1234.6 550.8 L1235.3 551.6 L1236.1 550.4 L1237.1 551.9 L1238.0 551.4 L1238.8 549.7 L1239.7 550.3 L1240.6 551.1 L1241.5 551.8 L1242.3 550.5 L1243.2 550.5 L1244.0 550.8 L1244.9 550.3 L1245.6 550.5 L1246.6 551.8 L1247.5 549.8 L1248.5 551.9 L1249.3 550.0 L1250.0 550.2 L1250.8 551.7 L1251.6 550.3 L1252.5 551.5 L1253.2 551.0 L1254.0 551.1 L1254.8 550.3 L1255.8 551.1 L1256.8 551.2 L1257.5 549.2 L1258.3 551.6 L1259.1 552.1 L1259.3 550.7 L1260.2 554.5 L1260.9 550.0 L1261.8 551.1 L1262.7 550.7 L1263.7 549.7 L1264.5 551.9 L1265.4 550.9 L1266.2 550.7 L1267.0 551.6 L1267.8 551.3 L1268.7 550.5 L1269.6 551.3 L1270.4 551.5 L1271.2 551.2 L1272.0 549.6 L1273.0 551.6 L1273.8 550.9 L1274.7 549.6 L1275.5 551.8 L1276.4 549.3 L1277.3 551.2 L1278.2 550.4 L1278.9 549.7 L1279.7 551.6 L1280.7 550.8 L1281.5 550.8 L1282.3 549.7 L1283.2 550.4 L1284.0 549.7 L1284.8 550.3 L1285.6 550.0 L1286.5 551.2 L1287.4 548.8 L1288.2 551.4 L1289.0 549.3 L1289.8 550.4 L1290.8 551.7 L1291.7 550.2 L1292.6 549.4 L1293.3 550.2 L1294.1 549.7 L1294.9 551.4 L1295.7 549.2 L1296.7 550.9 L1297.5 550.1 L1298.3 551.2 L1299.2 549.5 L1300.0 550.3 L1300.8 550.1 L1301.7 551.0 L1302.6 549.9 L1303.6 550.6 L1304.3 549.4 L1305.1 550.5 L1305.9 550.1 L1306.8 550.3 L1307.7 549.9 L1308.5 551.2 L1309.3 550.0 L1310.1 549.4 L1310.8 549.9 L1311.8 549.9 L1312.7 551.1 L1313.5 550.4 L1314.4 549.4 L1315.2 551.3 L1316.2 549.1 L1317.1 550.4 L1318.0 551.0 L1318.8 549.3 L1319.7 551.4 L1320.6 550.5 L1321.5 549.2 L1322.5 550.6 L1323.2 551.2 L1324.1 551.1 L1324.9 550.9 L1325.8 549.2 L1326.7 551.2 L1327.5 551.1 L1328.4 550.0 L1329.3 550.5 L1330.2 550.1 L1331.2 549.8 L1331.9 552.1 L1332.9 548.5 L1333.8 551.3 L1334.6 549.2 L1335.5 551.2 L1336.3 549.9 L1337.2 550.6 L1338.1 550.7 L1338.8 550.3 L1339.6 550.1 L1340.5 551.1 L1341.2 550.7 L1342.1 550.2 L1343.0 549.7 L1343.9 551.1 L1344.9 551.2 L1345.7 550.9 L1346.5 550.9 L1347.4 549.9 L1348.2 550.2 L1349.0 550.9 L1349.8 550.1 L1350.7 550.0 L1351.4 550.7 L1352.3 550.2 L1353.3 550.3 L1354.1 551.2 L1355.1 551.0 L1355.9 549.6 L1356.7 549.8 L1357.5 551.8 L1358.3 551.0 L1359.2 551.0 L1359.9 549.2 L1360.7 551.7 L1361.7 550.3 L1362.6 551.4 L1363.5 549.5 L1364.2 551.7 L1365.0 549.3 L1365.9 550.9 L1366.6 549.7 L1367.4 550.4 L1368.4 550.8 L1369.2 551.0 L1370.2 550.1 L1370.9 550.1 L1371.7 549.8 L1372.7 550.8 L1373.5 550.4 L1374.3 551.0 L1375.3 551.0 L1376.1 551.0 L1376.9 550.1 L1377.6 550.1 L1378.5 551.3 L1379.4 549.3 L1380.3 551.9 L1381.2 548.6 L1382.1 551.4 L1383.0 550.7 L1383.9 549.9 L1384.7 550.7 L1385.7 551.4 L1386.4 550.5 L1387.3 550.6 L1388.0 550.1 L1389.0 549.6 L1389.9 551.5 L1390.8 551.4 L1391.6 550.6 L1392.4 550.1 L1393.3 551.6 L1394.2 549.4 L1395.0 550.1 L1395.9 551.3 L1396.8 550.4 L1397.8 549.8 L1398.6 550.1 L1399.5 550.7 L1400.4 550.3 L1401.4 551.0 L1402.2 549.9 L1403.1 550.4 L1404.0 550.9 L1404.7 551.0 L1405.6 549.6 L1406.5 550.6 L1407.4 549.9 L1408.3 550.2 L1409.3 551.0 L1410.1 550.3 L1410.9 550.8 L1411.8 551.3 L1412.5 550.4 L1413.3 550.6 L1414.2 550.3 L1414.9 550.0 L1415.7 551.9 L1416.6 550.9 L1417.5 550.4 L1418.3 550.4 L1419.2 551.1 L1420.2 550.1 L1421.0 550.1 L1421.7 550.5 L1422.7 550.7 L1423.6 551.5 L1424.5 550.9 L1425.5 549.9 L1426.2 549.9 L1427.1 551.9 L1428.0 551.0 L1428.8 549.6 L1429.5 550.6 L1430.3 551.1 L1431.2 549.9 L1432.0 551.9 L1432.9 549.9 L1433.8 551.7 L1434.8 550.1 L1435.5 550.1 L1436.5 551.7 L1437.5 550.5 L1438.3 549.8 L1439.2 550.1 L1440.0 550.5 L1440.8 551.4 L1441.7 549.5 L1442.6 551.7 L1443.3 550.6 L1444.3 550.9 L1445.2 549.9 L1446.1 550.2 L1447.0 550.3 L1447.8 551.7 L1448.6 549.9 L1449.5 549.7 L1450.4 550.4 L1451.3 552.0 L1452.2 551.1 L1453.0 550.6 L1454.0 550.7 L1454.7 550.1 L1455.6 550.0 L1456.5 550.5 L1457.3 551.8 L1458.2 549.7 L1459.0 551.2 L1459.8 550.9 L1460.6 551.0 L1461.3 549.8 L1462.3 550.8 L1463.1 551.7 L1464.0 550.2 L1464.8 551.3 L1465.7 551.3 L1466.6 550.5 L1467.4 550.7 L1468.3 550.0 L1469.1 550.6 L1470.0 550.1 L1470.8 550.7 L1471.7 550.3 L1472.5 551.9 L1473.4 551.0 L1474.3 550.4 L1475.1 549.7 L1475.9 551.7 L1476.8 550.1 L1477.6 550.2 L1478.4 550.2 L1479.4 550.2 L1480.2 552.6 L1481.1 549.3 L1481.8 551.4 L1482.7 551.0 L1483.5 551.1 L1484.4 550.2 L1485.2 550.4 L1486.1 551.8 L1487.0 550.4 L1487.8 549.9 L1488.7 551.7 L1489.5 549.5 L1490.2 550.7 L1491.0 551.7 L1491.8 549.7 L1492.7 550.4 L1493.7 550.6 L1494.4 550.0 L1495.3 551.8 L1496.2 550.4 L1497.2 551.4 L1498.1 551.3 L1498.8 550.0 L1499.7 551.0 L1500.5 550.5 L1501.4 550.2 L1502.3 552.3 L1503.1 550.1 L1504.0 550.9 L1504.8 550.5 L1505.6 549.7 L1506.4 550.8 L1507.2 551.4 L1508.0 551.1 L1508.9 551.2 L1509.8 550.7 L1510.6 550.8 L1511.4 551.6 L1512.3 551.2 L1513.2 551.4 L1514.0 549.3 L1514.9 550.7 L1515.6 551.3 L1516.4 551.2 L1517.4 550.1 L1518.2 552.3 L1519.0 549.3 L1519.8 551.6 L1520.7 550.2 L1521.7 551.0 L1522.5 549.9 L1523.4 550.3 L1524.3 551.3 L1525.3 550.2 L1526.1 550.5 L1526.9 551.2 L1527.8 550.8 L1528.8 550.0 L1529.6 550.5 L1530.5 550.3 L1531.4 551.9 L1532.2 548.1 L1533.1 551.1 L1534.0 548.1 L1534.9 552.5 L1535.7 553.6 L1536.7 553.1 L1537.6 551.5 L1538.3 551.7 L1539.3 551.5 L1540.2 552.5 L1541.0 550.7 L1541.9 554.9 L1542.7 545.1 L1543.5 555.5 L1544.3 553.6 L1545.1 554.5 L1545.9 551.8 L1546.6 553.4 L1547.6 549.0 L1548.3 553.9 L1549.2 550.4 L1550.2 552.2 L1551.1 550.6 L1551.9 553.0 L1552.6 553.7 L1553.5 552.9 L1554.4 547.3 L1555.2 554.0 L1556.2 550.1 L1557.0 556.2 L1557.9 551.9 L1558.6 552.1 L1559.3 551.8 L1560.2 554.6 L1561.2 552.9 L1562.1 550.2 L1562.9 556.2 L1563.8 546.9 L1564.5 552.0 L1565.3 552.5 L1566.1 549.3 L1567.0 552.1 L1567.9 548.4 L1568.7 553.1 L1569.6 552.1 L1570.3 554.8 L1571.1 548.8 L1571.9 554.2 L1572.8 553.6 L1573.7 550.9 L1574.5 554.5 L1575.4 549.1 L1576.2 551.0 L1577.1 549.5 L1578.1 551.4 L1579.0 553.9 L1579.8 554.5 L1580.5 550.6 L1581.5 548.4 L1582.5 550.6 L1583.4 550.4 L1584.4 550.9 L1585.2 552.1 L1586.2 553.0 L1587.0 548.4 L1587.8 556.0 L1588.8 552.0 L1589.7 550.8 L1590.5 553.2 L1591.2 550.7 L1591.9 550.6 L1592.9 550.5 L1593.8 553.7 L1594.6 553.3 L1595.5 553.6 L1596.4 554.0 L1597.3 550.8 L1598.2 548.8 L1599.1 550.4 L1599.8 555.6 L1600.7 551.4 L1601.5 550.6 L1602.3 548.4 L1603.2 554.3 L1604.1 549.5 L1604.8 550.2 L1605.7 548.9 L1606.5 549.8 L1607.4 552.4 L1608.1 553.9 L1609.0 557.5 L1609.9 546.4 L1610.8 554.6 L1611.8 547.5 L1612.5 551.6 L1613.5 549.3 L1614.3 548.9 L1615.1 555.6 L1616.0 548.8 L1616.8 556.1 L1617.6 548.7 L1618.5 553.1 L1619.3 554.5 L1620.1 550.0 L1620.9 551.5 L1621.6 552.8 L1622.5 550.1 L1623.4 552.4 L1624.1 549.2 L1625.0 552.8 L1625.9 550.6 L1626.9 548.9 L1627.8 555.4 L1628.6 549.4 L1629.5 550.5 L1630.3 553.2 L1631.0 552.1 L1632.0 554.5 L1632.7 550.7 L1633.6 551.2 L1634.4 550.0 L1635.3 554.3 L1636.2 548.2 L1637.0 553.4 L1637.9 548.7 L1638.7 551.3 L1639.5 550.1 L1640.3 550.7 L1641.2 551.8 L1642.1 549.2 L1643.0 552.2 L1643.8 551.2 L1644.6 549.9 L1645.5 551.9 L1646.4 549.2 L1647.4 550.6 L1648.2 551.6 L1649.1 550.1 L1649.9 549.6 L1650.7 551.1 L1651.5 549.1 L1652.2 552.3 L1653.1 549.9 L1654.1 550.0 L1654.9 550.8 L1655.8 550.0 L1656.5 550.9 L1657.5 551.7 L1658.4 551.4 L1659.1 549.8 L1660.1 552.3 L1661.0 550.0 L1661.9 550.6 L1662.7 550.6 L1663.6 551.0 L1664.4 550.2 L1665.2 551.0 L1666.0 549.0 L1667.0 551.2 L1667.9 551.6 L1668.6 550.8 L1669.5 549.3 L1670.3 550.9 L1671.1 549.8 L1671.8 551.8 L1672.8 551.0 L1673.6 550.2 L1674.3 549.6 L1675.2 550.6 L1676.1 551.6 L1677.0 550.8 L1677.9 549.6 L1678.6 551.1 L1679.5 550.2 L1680.5 550.5 L1681.2 549.7 L1682.1 550.0 L1682.9 551.5 L1683.7 549.8 L1684.6 551.2 L1685.5 550.9 L1686.4 549.7 L1687.2 551.6 L1688.0 549.5 L1688.9 550.7 L1689.7 551.2 L1690.5 551.2 L1691.4 549.3 L1692.1 550.3 L1693.0 551.1 L1693.8 549.7 L1694.8 551.6 L1695.7 550.1 L1696.5 550.2 L1697.4 551.0 L1698.1 551.3 L1699.0 551.3 L1699.9 550.5 L1700.7 550.2 L1701.6 550.9 L1702.6 550.3 L1703.5 550.9 L1704.3 550.7 L1705.2 551.0 L1706.0 550.7 L1706.8 549.6 L1707.7 552.0 L1708.7 550.8 L1709.6 550.2 L1710.6 550.7 L1711.3 551.5 L1712.2 550.1 L1713.1 550.4 L1714.0 550.7 L1714.8 549.7 L1715.7 551.8 L1716.5 550.0 L1717.4 551.5 L1718.2 550.9 L1719.0 550.0 L1719.8 550.7 L1720.8 550.8 L1721.5 549.5 L1722.4 552.1 L1723.2 551.1 L1724.1 551.2 L1724.9 550.2 L1725.9 551.6 L1726.8 550.7 L1727.6 551.5 L1728.5 551.5 L1729.5 550.8 L1730.4 551.6 L1731.3 551.0 L1732.1 551.2 L1732.9 550.8 L1733.7 551.3 L1734.5 549.9 L1735.3 551.5 L1736.1 551.6 L1736.9 550.5 L1737.6 550.3 L1738.5 551.6 L1739.3 550.3 L1740.2 551.3 L1741.2 550.7 L1742.0 550.2 L1742.8 550.4 L1743.7 550.4 L1744.4 550.1 L1745.2 552.3 L1746.0 549.5 L1746.8 551.0 L1747.6 550.9 L1748.5 551.7 L1749.3 550.6 L1750.1 550.6 L1750.9 551.0 L1751.8 551.8 L1752.8 550.4 L1753.7 550.4 L1754.5 551.7 L1755.4 552.5 L1756.3 551.8 L1757.2 550.2 L1758.0 551.1 L1758.8 551.5 L1759.6 551.0 L1760.4 550.7 L1761.4 550.2 L1762.2 551.9 L1763.1 550.9 L1763.8 549.9 L1764.6 551.4 L1765.5 551.2 L1766.3 551.0 L1767.2 551.2 L1768.1 550.0 L1769.0 550.0 L1769.9 550.9 L1770.8 550.9 L1771.6 551.5 L1772.5 549.7 L1773.5 550.2 L1774.2 551.0 L1775.1 550.9 L1776.0 551.7 L1776.8 549.5 L1777.7 550.9 L1778.5 550.2 L1779.3 550.5 L1780.1 551.4 L1781.1 550.0 L1781.8 550.5 L1782.6 551.3 L1783.5 548.8 L1784.3 551.5 L1785.3 549.4 L1786.0 551.8 L1786.9 549.0 L1787.8 548.9 L1788.8 550.0 L1789.6 551.3 L1790.4 547.4 L1791.3 551.0 L1792.1 546.2 L1792.9 550.8 L1793.8 548.9 L1794.7 550.6 L1795.5 547.2 L1796.4 551.0 L1797.2 548.2 L1797.9 548.3 L1798.7 548.9 L1799.5 546.7 L1800.3 551.8 L1801.0 548.5 L1802.0 548.0 L1802.9 550.7 L1803.7 549.0 L1804.6 547.9 L1805.4 551.4 L1806.2 549.4 L1807.0 549.1 L1807.8 551.5 L1808.6 549.1 L1809.5 551.0 L1810.2 547.5 L1811.1 551.8 L1812.0 548.4 L1812.7 547.6 L1813.7 552.2 L1814.5 547.0 L1815.4 550.8 L1816.4 550.3 L1817.2 549.1 L1818.0 551.1 L1819.0 550.0 L1819.9 549.2 L1820.7 548.3 L1821.5 548.8 L1822.4 549.2 L1823.2 549.9 L1824.2 548.5 L1825.1 548.2 L1825.8 551.8 L1826.6 549.9 L1827.4 547.1 L1828.2 551.4 L1829.0 547.4 L1829.9 550.7 L1830.8 549.8 L1831.6 551.0 L1832.5 547.4 L1833.3 548.7 L1834.3 548.7 L1835.1 549.7 L1836.0 550.0 L1836.8 548.9 L1837.7 548.6 L1838.7 550.7 L1839.5 550.0 L1840.3 547.2 L1841.2 550.5 L1842.2 550.7 L1843.0 547.6 L1843.8 549.5 L1844.8 549.6 L1845.5 548.7 L1846.3 551.7 L1847.1 549.9 L1848.1 548.7 L1848.8 549.5 L1849.7 550.3 L1850.5 548.1 L1851.2 549.9 L1852.1 549.4 L1852.9 549.5 L1853.9 548.9 L1854.7 549.1 L1855.6 549.1 L1856.4 548.3 L1857.2 548.7 L1858.1 551.5 L1859.0 549.0 L1859.8 549.3 L1860.5 549.5 L1861.3 549.4 L1862.2 550.4 L1863.0 549.0 L1863.8 550.1 L1864.5 549.5 L1865.4 551.4 L1866.4 551.1 L1867.3 550.0 L1868.3 551.6 L1869.2 550.4 L1870.1 551.5 L1871.1 550.6 L1871.9 550.3 L1872.6 549.9 L1873.5 550.1 L1874.3 550.0 L1875.1 550.8 L1875.8 551.7 L1876.6 551.2 L1877.5 550.7 L1878.2 551.3 L1879.0 549.5 L1879.8 550.2 L1880.6 551.5 L1881.5 550.1 L1882.2 550.3 L1883.2 552.6 L1884.1 550.6 L1884.9 551.4 L1885.9 551.0 L1886.8 551.3 L1887.6 551.6 L1888.5 549.8 L1889.3 551.7 L1890.1 548.8 L1891.0 552.5 L1891.9 549.6 L1892.8 551.0 L1893.8 551.6 L1894.7 549.6 L1895.6 552.2 L1896.4 550.5 L1897.2 551.8 L1898.0 549.8 L1898.8 551.8 L1899.7 550.4 L1900.5 549.8 L1901.3 550.0 L1902.0 550.5 L1902.8 551.7 L1903.7 550.1 L1904.5 550.6 L1905.4 551.1 L1906.1 550.9 L1907.0 551.1 L1907.8 551.3 L1908.5 549.5 L1909.5 550.7 L1910.4 551.9 L1911.4 550.4 L1912.2 549.8 L1913.0 551.5 L1914.0 551.3 L1914.9 551.5 L1915.8 550.8 L1916.7 551.2 L1917.6 550.2 L1918.4 551.0 L1919.2 550.2 L1920.2 552.8 L1921.1 550.3 L1922.1 551.9 L1922.9 550.9 L1923.8 550.0 L1924.7 551.9 L1925.6 549.6 L1926.5 549.8 L1927.3 551.9 L1928.1 550.2 L1928.8 550.3 L1929.8 550.8 L1930.7 550.2 L1931.6 551.2 L1932.6 549.0 L1933.5 549.2 L1934.4 550.0 L1935.1 548.1 L1936.0 549.4 L1936.8 548.4 L1937.7 547.6 L1938.6 548.8 L1939.6 549.8 L1940.5 549.0 L1941.4 548.4 L1942.1 551.0 L1943.1 548.9 L1944.0 549.8 L1944.9 549.5 L1945.7 550.2 L1946.5 550.4 L1947.3 550.2 L1948.2 549.6 L1948.9 549.3 L1949.9 548.9 L1950.7 549.6 L1951.6 549.5 L1952.3 548.9 L1953.3 549.9 L1954.2 550.4 L1955.1 550.0 L1955.8 549.0 L1956.6 550.2 L1957.5 551.3 L1958.2 551.2 L1959.1 551.7 L1959.8 550.5 L1960.6 550.2 L1961.4 548.6 L1962.2 550.7 L1963.0 549.2 L1963.8 550.6 L1964.6 550.4 L1965.6 549.7 L1966.3 550.3 L1967.2 550.6 L1968.0 549.1 L1968.8 550.1 L1969.8 548.9 L1970.5 551.4 L1971.2 549.9 L1972.0 550.6 L1972.9 551.0 L1973.9 551.2 L1974.8 549.7 L1975.6 551.9 L1976.6 550.1 L1977.5 551.5 L1978.3 551.8 L1979.1 550.9 L1980.1 552.3 L1981.0 552.5 L1981.8 551.6 L1982.6 550.9 L1983.5 552.4 L1984.3 550.9 L1985.3 551.1 L1986.1 552.7 L1986.9 551.7 L1987.8 551.8 L1988.6 551.5 L1989.5 552.6 L1990.4 550.1 L1991.3 551.7 L1992.2 552.4 L1993.1 550.2 L1993.8 552.9 L1994.7 553.1 L1995.5 551.7 L1996.4 551.9 L1997.3 551.2 L1998.2 550.5 L1999.1 551.6 L2000.0 551.8 L2001.0 551.4 L2001.8 553.5 L2002.6 551.6 L2003.3 551.6 L2004.2 551.6 L2005.2 550.7 L2006.0 551.6 L2006.8 552.3 L2007.8 552.3 L2008.6 552.3 L2009.5 552.2 L2010.4 551.3 L2011.2 551.3 L2012.2 551.6 L2012.9 552.5 L2013.8 551.7 L2014.7 550.2 L2015.5 552.6 L2016.3 550.2 L2017.1 552.7 L2017.8 551.6 L2018.8 551.4 L2019.7 550.9 L2020.5 550.7 L2021.3 551.7 L2022.2 549.3 L2023.1 552.3 L2024.0 549.9 L2025.0 549.9 L2026.0 552.2 L2026.7 549.8 L2027.6 550.2 L2028.5 550.4 L2029.2 550.7 L2030.2 549.9 L2031.2 551.7 L2032.0 550.2 L2032.7 551.6 L2033.5 551.3 L2034.2 550.9 L2035.0 550.9 L2035.7 550.3 L2036.5 551.1 L2037.4 551.3 L2038.3 551.8 L2039.1 552.1 L2040.0 549.4 L2040.7 551.4 L2041.6 551.9 L2042.5 551.5 L2043.3 552.2 L2044.3 550.6 L2045.0 551.9 L2045.8 551.9 L2046.7 551.7 L2047.6 551.2 L2048.5 550.3 L2049.2 552.0 L2050.1 551.1 L2050.9 549.5 L2051.8 550.1 L2052.6 551.3 L2053.5 551.1 L2054.3 551.5 L2055.3 550.7 L2056.1 549.8 L2056.9 550.1 L2057.9 552.0 L2058.9 549.7 L2059.7 551.8 L2060.6 551.9 L2061.5 552.4 L2062.3 550.4 L2063.2 550.8 L2064.1 552.8 L2064.9 551.5 L2065.8 551.8 L2066.6 550.7 L2067.5 551.2 L2068.3 551.5 L2069.2 551.3 L2070.1 550.7 L2071.1 553.0 L2071.8 552.3 L2072.7 550.3 L2073.5 552.1 L2074.3 550.8 L2075.1 552.1 L2075.9 551.7 L2076.8 551.7 L2077.7 552.0 L2078.5 552.6 L2079.4 552.2 L2080.2 550.5 L2080.9 552.4 L2081.7 552.2 L2082.6 551.5 L2083.5 552.0 L2084.4 552.3 L2085.3 550.4 L2086.2 551.7 L2087.1 551.1 L2088.0 552.0 L2088.8 551.2 L2089.7 551.3 L2090.6 551.7 L2091.4 551.5 L2092.2 552.2 L2093.1 550.0 L2094.0 552.3 L2094.8 551.5 L2095.6 552.1 L2096.4 552.2 L2097.3 550.7 L2098.2 551.6 L2099.1 550.9 L2099.9 551.3 L2100.7 552.7 L2101.6 552.2 L2102.5 551.6 L2103.2 551.1 L2104.1 552.9 L2104.9 551.4 L2105.7 552.5 L2106.6 552.0 L2107.3 550.4 L2108.1 552.0 L2109.0 552.1 L2109.8 552.2 L2110.6 551.7 L2111.6 551.2 L2112.4 552.7 L2113.3 550.5 L2114.1 551.3 L2114.9 552.3 L2115.7 551.8 L2116.4 551.0 L2117.3 551.8 L2118.3 551.0 L2119.2 550.6 L2120.1 551.7 L2120.9 552.2 L2121.7 551.1 L2122.4 550.3 L2123.3 551.9 L2124.2 551.7 L2125.1 552.3 L2125.9 550.9 L2126.6 552.1 L2127.4 550.6 L2128.3 552.1 L2129.0 552.2 L2129.9 551.9 L2130.8 550.2 L2131.7 550.4 L2132.6 552.7 L2133.3 550.3 L2134.2 552.7 L2135.2 551.1 L2136.0 551.7 L2136.7 552.9 L2137.5 549.8 L2138.5 551.8 L2139.4 551.5 L2140.2 551.3 L2140.9 552.3 L2141.7 551.9 L2142.5 552.4 L2143.3 551.1 L2144.1 551.4 L2144.8 552.1 L2145.7 551.2 L2146.6 552.3 L2147.5 550.7 L2148.3 551.2 L2149.0 552.0 L2149.9 550.8 L2150.7 551.2 L2151.6 551.8 L2152.3 552.8 L2153.2 551.6 L2154.1 552.5 L2155.0 551.0 L2155.8 551.5 L2156.5 551.5 L2157.4 553.0 L2158.3 552.0 L2159.1 551.9 L2160.1 552.8 L2160.9 552.3 L2161.7 552.1 L2162.6 551.7 L2163.3 552.9 L2164.3 551.0 L2165.1 551.9 L2165.9 552.1 L2166.8 553.1 L2167.7 551.8 L2168.6 552.6 L2169.5 552.6 L2170.4 553.0" stroke="#ff8000" stroke-width="1.1"/>
<path d="M331.0 552.4 L349.0 552.4 L349.1 552.3 L349.3 562.2 L350.2 564.8 L351.1 570.8 L351.9 571.2 L352.5 569.1 L353.4 560.5 L354.2 550.2 L354.9 543.3 L355.4 537.3 L356.2 533.8 L357.3 532.1 L358.4 531.2 L359.4 530.4 L360.5 532.1 L361.4 533.4 L362.0 538.1 L362.2 558.8 L362.5 513.2 L363.1 531.2 L363.7 514.1 L364.2 501.2 L364.8 499.4 L365.4 511.5 L365.9 529.5 L366.5 520.1 L367.0 532.1 L367.6 520.9 L368.2 533.4 L368.7 523.5 L369.4 513.6 L370.0 527.0 L370.6 515.8 L371.1 524.4 L371.7 516.6 L372.1 523.5 L372.8 520.9 L373.4 519.2 L374.0 518.4 L374.7 524.4 L375.4 517.5 L376.0 516.2 L376.4 516.6 L377.1 526.1 L377.7 529.5 L378.1 536.8 L378.8 538.1 L379.4 545.0 L380.0 551.9 L380.7 558.8 L381.3 563.9 L382.0 561.3 L382.6 557.9 L383.3 565.6 L384.1 565.2 L385.0 565.6 L385.9 566.5 L386.7 566.1 L387.4 571.2 L388.3 568.2 L389.3 567.8 L390.0 563.1 L390.6 561.3 L391.2 567.4 L391.7 577.2 L392.3 572.5 L392.9 576.8 L393.4 566.5 L394.0 575.1 L394.9 573.8 L395.8 572.5 L396.6 572.9 L397.5 569.1 L398.3 567.4 L399.2 569.9 L400.1 577.7 L400.9 567.4 L401.8 570.8 L402.6 570.4 L403.5 571.2 L404.3 571.6 L405.2 572.5 L406.1 573.8 L406.9 571.6 L407.8 570.8 L408.4 575.5 L409.1 569.9 L409.9 566.5 L410.6 571.6 L411.2 569.9 L412.1 570.4 L412.7 573.8 L413.2 576.8 L413.8 569.9 L414.4 568.2 L415.1 569.9 L415.9 569.5 L416.8 572.5 L417.5 575.1 L418.1 576.0 L418.7 565.2 L419.4 566.5 L420.1 575.1 L420.7 569.1 L421.3 568.6 L422.0 566.5 L422.6 565.2 L423.5 566.5 L424.4 565.6 L425.2 567.4 L426.1 568.2 L426.9 569.1 L427.6 564.8 L428.4 566.1 L429.3 568.2 L430.1 570.8 L431.0 571.6 L431.7 565.6 L432.3 571.6 L433.0 572.9 L433.6 568.2 L434.2 572.1 L434.9 568.2 L435.5 572.9 L436.1 569.1 L437.0 567.8 L437.9 568.2 L438.7 567.4 L439.4 562.2 L440.0 572.5 L440.7 573.4 L441.3 570.8 L442.2 571.2 L443.0 570.8 L443.9 569.9 L444.7 567.4 L445.6 566.9 L446.5 569.1 L447.3 570.8 L448.2 570.4 L449.0 573.8 L449.9 574.2 L450.8 571.6 L451.6 570.8 L452.5 569.9 L453.3 572.5 L454.2 573.8 L455.1 570.8 L455.9 569.9 L456.8 566.5 L457.5 564.8 L458.1 569.1 L458.8 573.4 L459.4 569.1 L460.2 568.6 L461.1 571.6 L461.5 573.8 L462.2 570.8 L463.1 570.4 L463.9 571.2 L464.8 566.5 L465.4 569.9 L466.2 576.4 L466.8 571.6 L467.5 567.4 L468.2 571.2 L468.8 569.1 L469.7 567.4 L470.5 568.2 L471.4 566.9 L472.0 570.8 L472.7 578.1 L473.4 572.5 L474.0 571.6 L474.8 572.9 L475.5 569.9 L476.1 565.6 L476.8 569.9 L477.4 571.6 L478.0 574.7 L478.7 567.4 L479.6 565.6 L480.2 569.1 L480.8 566.5 L481.7 565.6 L482.3 570.8 L483.0 569.9 L483.7 571.6 L484.5 572.9 L485.1 573.4 L485.7 578.5 L486.4 576.0 L487.1 569.9 L487.7 577.7 L488.1 567.4 L488.8 576.0 L489.4 568.2 L490.0 581.1 L490.6 560.5 L491.1 576.0 L491.8 569.9 L492.4 563.9 L493.0 563.1 L493.6 576.0 L494.2 579.4 L494.9 579.4 L495.4 572.5 L496.3 569.1 L496.9 574.2 L497.6 573.4 L498.5 572.5 L499.3 573.8 L500.2 571.6 L501.0 569.1 L501.6 576.8 L502.3 571.6 L503.2 572.1 L504.0 570.8 L504.9 567.4 L505.8 566.1 L506.6 566.5 L507.5 569.1 L508.3 567.4 L509.2 569.9 L510.1 568.2 L510.9 569.1 L511.8 567.4 L512.6 570.4 L513.3 573.8 L513.9 567.4 L514.8 568.2 L515.6 569.1 L516.5 567.4 L517.4 568.6 L518.2 570.4 L518.8 576.8 L519.5 575.1 L520.4 570.8 L521.2 569.1 L522.1 571.6 L523.0 569.9 L523.8 572.9 L524.7 570.8 L525.5 572.5 L526.4 571.6 L527.2 570.8 L528.1 571.6 L529.0 567.4 L530.0 572.5 L531.0 570.2 L532.0 570.5 L532.8 568.0 L533.7 573.9 L534.5 566.0 L535.4 567.7 L536.4 572.9 L537.1 565.5 L537.9 568.9 L538.6 570.6 L539.5 570.0 L540.4 571.0 L541.2 573.2 L542.1 569.6 L542.9 566.9 L543.8 569.1 L544.6 573.3 L545.4 565.1 L546.2 574.1 L547.0 568.7 L547.8 565.3 L548.7 572.9 L549.5 563.1 L550.4 568.8 L551.3 567.9 L552.0 571.8 L552.9 566.7 L553.8 573.2 L554.8 566.3 L555.7 572.0 L556.7 567.0 L557.6 569.4 L558.3 566.9 L559.1 571.9 L560.0 573.1 L560.8 571.0 L561.6 571.5 L562.4 565.0 L563.3 567.3 L564.3 570.6 L565.0 564.2 L565.8 571.6 L566.8 568.3 L567.5 570.7 L568.3 567.2 L569.2 565.6 L570.0 564.1 L570.8 565.3 L571.6 569.6 L572.4 570.7 L573.3 567.9 L574.1 560.5 L575.0 571.9 L575.8 568.2 L576.7 565.7 L577.4 568.8 L578.4 569.8 L579.3 570.7 L580.2 570.0 L581.0 569.2 L581.9 568.1 L582.8 568.6 L583.6 571.9 L584.5 565.0 L585.4 567.2 L586.2 570.9 L587.0 565.3 L587.9 566.6 L588.9 562.9 L589.7 569.2 L590.5 569.5 L591.3 568.9 L592.2 563.0 L593.1 572.0 L593.9 566.9 L594.7 567.5 L595.6 570.0 L596.4 564.4 L597.2 566.6 L598.1 568.9 L599.0 572.3 L599.8 562.1 L600.5 571.4 L601.3 571.4 L602.1 565.7 L603.0 565.8 L603.7 570.0 L604.6 568.8 L605.6 569.0 L606.4 562.6 L607.3 571.5 L608.1 565.7 L608.9 569.2 L609.7 569.7 L610.5 570.2 L611.2 565.2 L612.2 566.0 L613.1 569.9 L614.0 566.9 L614.9 568.7 L615.8 562.5 L616.8 572.1 L617.1 565.5 L618.3 560.5 L619.6 557.4 L620.5 563.0 L621.5 568.1 L622.3 566.7 L623.3 569.8 L624.1 571.3 L624.9 565.4 L625.7 574.0 L626.5 570.8 L627.2 568.0 L628.2 570.2 L629.0 571.6 L629.8 566.4 L630.7 568.5 L631.7 567.0 L632.5 569.6 L633.3 568.3 L634.1 566.1 L635.0 567.0 L635.7 572.1 L636.5 569.5 L637.4 570.7 L638.2 567.6 L639.2 568.4 L640.0 570.8 L640.9 570.7 L641.7 572.0 L642.4 574.6 L643.2 566.8 L644.0 570.6 L644.8 573.8 L645.6 568.0 L646.5 571.2 L647.3 570.9 L648.1 570.9 L648.9 572.0 L649.9 564.8 L650.8 572.9 L651.6 570.2 L652.4 566.8 L653.4 559.2 L654.2 554.2 L655.1 565.5 L656.1 578.8 L657.1 570.6 L658.0 564.3 L658.9 570.4 L659.7 568.1 L660.4 571.0 L661.3 558.5 L662.2 561.3 L663.1 577.1 L663.9 564.5 L664.7 570.2 L665.5 555.3 L666.2 575.6 L667.5 582.6 L668.7 570.6 L669.6 571.7 L670.4 562.0 L671.3 577.8 L672.0 556.9 L672.9 574.8 L673.5 565.5 L674.4 555.5 L675.3 568.1 L676.9 570.6 L678.2 556.7 L679.1 568.1 L679.9 566.0 L680.8 559.1 L681.7 565.2 L682.6 567.9 L683.4 568.4 L684.4 572.4 L685.3 567.7 L686.2 566.7 L687.1 563.4 L688.0 573.8 L688.9 572.5 L689.8 569.5 L690.6 569.6 L691.4 565.3 L692.2 570.3 L693.0 574.3 L693.8 567.5 L694.6 564.8 L695.5 571.9 L696.5 558.4 L697.4 566.8 L698.1 564.2 L698.4 570.6 L699.6 558.0 L700.9 570.6 L701.7 565.6 L702.6 569.7 L703.5 576.2 L704.4 557.6 L705.3 563.0 L706.1 570.5 L706.9 571.2 L707.9 565.5 L708.8 566.3 L709.6 570.0 L710.5 562.2 L711.3 562.5 L712.2 569.2 L713.2 561.2 L714.1 563.9 L715.0 570.6 L715.8 568.7 L716.6 567.5 L717.6 570.2 L718.5 566.8 L719.2 569.0 L720.0 570.9 L720.8 568.6 L721.8 568.3 L722.7 572.0 L723.5 573.4 L724.4 563.4 L725.2 570.4 L726.1 575.6 L727.4 588.9 L728.6 570.6 L729.5 572.3 L730.2 574.9 L731.2 552.9 L732.0 572.0 L732.7 569.6 L733.5 571.2 L734.4 565.2 L735.1 566.7 L736.1 562.3 L737.0 573.4 L737.8 566.5 L738.7 566.8 L739.7 566.5 L740.6 576.8 L741.4 559.1 L742.2 564.2 L743.0 574.5 L743.9 560.3 L744.8 564.4 L745.7 574.7 L746.5 565.0 L747.3 563.2 L748.2 578.3 L749.1 564.9 L749.9 566.0 L750.9 576.5 L751.7 565.5 L752.6 555.5 L753.5 570.6 L755.1 575.6 L756.3 583.8 L757.6 573.1 L758.5 563.9 L759.3 567.7 L760.1 574.5 L761.1 567.8 L762.0 574.7 L762.7 566.5 L763.5 575.6 L764.5 585.7 L765.5 570.6 L766.4 576.5 L767.3 558.3 L768.2 564.5 L769.2 578.1 L770.0 560.1 L770.9 566.7 L771.9 570.7 L772.7 565.8 L773.6 569.6 L774.0 560.5 L775.2 555.5 L776.5 570.6 L779.0 576.9 L780.7 580.7 L781.5 588.9 L782.6 575.6 L783.4 572.3 L784.2 572.9 L785.2 571.8 L786.1 574.5 L787.0 569.3 L787.8 566.0 L788.7 577.5 L789.5 560.5 L790.3 583.3 L791.1 557.3 L792.0 562.5 L792.9 573.5 L793.6 561.5 L794.4 566.8 L794.5 575.6 L795.4 583.2 L796.3 570.6 L797.1 565.8 L798.0 565.0 L798.8 571.6 L799.6 564.3 L800.5 567.6 L801.5 569.4 L802.2 576.4 L803.1 566.2 L803.9 576.8 L804.6 557.2 L805.5 576.9 L806.3 561.0 L807.1 566.9 L808.0 572.6 L808.8 568.4 L809.7 560.0 L810.6 577.4 L811.4 570.3 L812.3 566.8 L813.2 574.9 L814.1 565.0 L814.8 574.8 L815.7 567.0 L816.6 565.3 L817.2 575.6 L818.1 585.7 L819.0 573.1 L819.8 568.1 L820.8 569.5 L821.5 569.8 L822.5 576.4 L823.2 567.0 L824.0 572.4 L824.7 577.4 L825.5 569.9 L826.3 570.8 L827.1 569.4 L827.9 567.8 L828.7 577.6 L829.6 567.3 L830.4 567.9 L831.2 574.9 L832.1 574.0 L832.8 566.8 L833.6 571.0 L834.5 570.2 L835.4 573.5 L836.2 567.0 L837.0 569.4 L837.9 573.0 L838.8 562.7 L839.6 572.5 L840.4 568.0 L841.4 569.1 L842.3 571.2 L843.1 565.0 L844.0 571.4 L844.9 567.1 L845.9 565.8 L846.6 563.0 L847.5 566.2 L848.3 567.9 L849.2 570.6 L850.2 581.3 L851.3 573.1 L852.1 568.9 L853.0 575.9 L853.8 577.6 L854.7 572.4 L855.6 569.9 L856.4 574.1 L857.2 572.3 L857.9 568.2 L858.9 575.0 L859.8 573.9 L860.6 576.3 L861.4 569.6 L862.2 573.0 L863.1 569.2 L863.9 575.6 L864.8 567.4 L865.7 573.4 L866.5 574.5 L867.5 571.4 L868.4 576.3 L869.2 571.6 L870.1 572.5 L871.0 569.3 L872.0 578.1 L872.8 573.7 L873.7 566.9 L874.5 574.5 L875.3 574.8 L876.0 569.8 L876.8 568.9 L877.8 576.5 L878.6 575.5 L879.5 572.4 L880.3 575.9 L881.1 579.7 L881.9 567.8 L882.7 578.2 L883.5 569.8 L884.2 568.5 L885.0 574.9 L886.0 572.5 L886.8 577.5 L887.6 574.6 L888.4 567.6 L889.4 570.7 L890.2 580.4 L890.9 572.3 L891.9 575.4 L892.6 572.8 L893.5 566.8 L894.3 576.2 L895.0 568.3 L896.0 571.7 L896.9 573.4 L897.7 576.1 L898.5 571.5 L899.5 570.4 L900.3 566.8 L901.1 570.7 L901.9 570.1 L902.6 569.8 L903.4 576.5 L904.1 569.1 L905.0 576.0 L905.7 569.9 L906.6 572.5 L907.4 570.3 L908.3 571.0 L909.1 573.2 L910.0 565.6 L910.9 573.3 L911.6 567.2 L912.5 568.0 L913.4 569.9 L914.3 563.6 L915.1 569.6 L915.9 566.2 L916.6 574.6 L917.5 571.0 L918.3 565.4 L919.1 572.9 L919.9 571.2 L920.8 567.2 L921.6 574.6 L922.5 565.5 L923.3 569.8 L924.0 572.1 L925.0 567.2 L925.9 567.4 L926.9 568.9 L927.7 571.6 L928.4 576.6 L929.3 565.8 L930.2 569.1 L931.1 570.3 L932.1 573.2 L932.9 572.5 L933.7 571.7 L934.6 573.9 L935.4 572.6 L936.4 565.9 L937.1 572.1 L937.9 567.0 L938.7 571.0 L939.6 574.5 L940.4 564.1 L941.2 568.1 L942.0 569.1 L943.0 573.3 L943.8 565.7 L944.6 574.0 L945.5 564.3 L946.4 567.7 L947.2 573.8 L947.9 567.6 L948.6 566.6 L949.4 568.8 L950.2 566.5 L951.0 572.2 L951.8 565.4 L952.7 568.8 L953.6 566.4 L954.4 565.2 L955.2 570.8 L956.1 571.7 L957.0 569.9 L957.9 567.6 L958.8 564.6 L959.6 568.0 L960.3 567.1 L961.2 566.6 L962.0 569.0 L962.9 566.5 L963.7 569.1 L964.6 571.2 L965.5 564.6 L966.3 567.5 L967.0 571.4 L967.9 568.7 L968.6 569.7 L969.5 569.1 L970.2 571.4 L971.2 570.1 L972.1 574.5 L973.0 570.4 L973.8 575.7 L974.6 577.5 L975.4 571.2 L976.2 577.8 L977.0 570.1 L977.8 571.0 L978.6 574.4 L979.5 580.0 L980.3 574.4 L981.2 574.0 L982.1 575.7 L982.9 577.0 L983.8 571.8 L984.5 576.4 L985.5 577.2 L986.2 573.3 L987.1 572.1 L988.0 574.2 L988.8 571.7 L989.6 568.6 L990.4 571.7 L991.1 574.2 L992.0 570.7 L992.9 570.9 L993.8 577.8 L994.7 570.8 L995.5 573.5 L996.4 577.6 L997.2 575.1 L998.2 576.4 L999.0 575.1 L999.8 570.1 L1000.7 580.6 L1001.6 572.9 L1002.5 579.3 L1002.8 575.6 L1003.8 579.7 L1004.7 574.4 L1005.5 574.0 L1006.2 570.6 L1007.2 569.9 L1008.0 573.6 L1008.8 569.7 L1009.7 569.6 L1010.6 573.2 L1011.4 570.5 L1012.3 566.3 L1013.1 575.1 L1013.9 566.0 L1014.7 572.8 L1015.5 569.2 L1016.4 571.3 L1017.1 568.8 L1017.9 570.3 L1018.8 578.4 L1019.7 571.5 L1020.6 572.3 L1021.5 575.9 L1021.7 574.4 L1022.6 579.7 L1023.5 573.1 L1024.3 577.0 L1025.3 571.8 L1026.2 569.4 L1026.9 571.9 L1027.8 576.7 L1028.6 568.3 L1029.6 570.6 L1030.5 577.0 L1031.3 574.5 L1032.2 575.8 L1033.2 570.2 L1034.0 578.3 L1034.9 568.0 L1035.7 574.4 L1036.5 572.7 L1037.3 574.8 L1038.0 569.1 L1038.8 574.1 L1039.7 567.9 L1040.5 571.0 L1041.2 571.6 L1042.0 571.2 L1042.8 573.8 L1043.7 566.1 L1044.5 575.5 L1045.3 570.5 L1046.2 570.9 L1047.0 566.8 L1047.9 568.2 L1048.7 572.5 L1049.6 573.1 L1050.5 569.3 L1051.3 573.4 L1052.1 571.0 L1052.9 568.1 L1053.8 572.0 L1054.7 570.6 L1055.5 575.0 L1056.4 574.1 L1057.2 571.9 L1058.0 573.9 L1059.0 570.5 L1059.9 573.0 L1060.9 573.4 L1061.8 566.7 L1062.7 570.3 L1063.6 571.8 L1064.3 568.6 L1065.1 571.5 L1065.9 567.8 L1066.9 572.9 L1067.8 571.1 L1068.7 563.2 L1069.5 574.1 L1070.2 565.2 L1071.2 570.6 L1071.9 572.1 L1072.8 569.8 L1073.5 568.2 L1074.3 566.0 L1075.2 566.3 L1076.0 565.5 L1077.0 567.8 L1077.7 570.8 L1078.5 563.5 L1079.4 570.4 L1080.2 566.3 L1081.1 567.6 L1081.9 568.0 L1082.9 567.2 L1083.7 569.6 L1084.6 566.7 L1085.5 569.2 L1086.3 571.2 L1087.2 565.1 L1088.0 570.4 L1088.8 571.5 L1089.5 568.6 L1090.5 568.4 L1091.3 573.7 L1092.2 570.0 L1093.1 567.4 L1094.0 574.0 L1094.8 573.7 L1095.5 571.2 L1096.3 570.9 L1097.2 572.8 L1098.2 575.2 L1099.1 571.0 L1100.1 567.1 L1100.9 573.3 L1101.9 567.7 L1102.6 570.3 L1103.4 567.7 L1104.3 572.7 L1105.2 570.6 L1106.0 568.2 L1106.9 572.6 L1107.6 566.2 L1108.5 565.9 L1109.3 569.5 L1110.1 565.2 L1111.0 567.7 L1111.8 567.9 L1112.6 568.5 L1113.4 571.4 L1114.3 564.9 L1115.2 569.1 L1116.1 572.8 L1116.9 564.9 L1117.8 571.8 L1118.6 564.9 L1119.4 574.5 L1120.4 566.0 L1121.1 570.7 L1122.1 570.9 L1123.0 575.4 L1123.8 571.0 L1124.7 570.8 L1125.4 572.2 L1126.3 572.2 L1127.1 570.1 L1127.9 574.9 L1128.7 571.1 L1129.5 572.8 L1130.3 575.9 L1131.0 571.9 L1131.7 574.4 L1132.5 573.9 L1133.3 573.6 L1134.2 572.4 L1135.1 568.9 L1135.8 571.6 L1136.7 575.2 L1137.5 571.7 L1138.5 573.1 L1139.2 572.2 L1140.1 566.1 L1140.9 572.7 L1141.8 571.5 L1142.8 571.2 L1143.5 570.8 L1144.4 572.6 L1145.2 570.1 L1146.1 567.3 L1146.9 566.3 L1147.8 566.5 L1148.8 571.0 L1149.5 564.8 L1150.5 569.8 L1151.2 567.6 L1152.2 566.1 L1153.0 566.6 L1153.8 572.1 L1154.7 570.6 L1155.6 566.4 L1156.4 572.2 L1157.2 567.7 L1158.1 572.0 L1158.9 573.7 L1159.8 570.0 L1160.6 573.0 L1161.4 572.7 L1162.2 567.6 L1163.0 574.8 L1163.9 571.8 L1164.8 571.6 L1165.6 574.4 L1166.4 576.0 L1167.3 571.5 L1168.1 569.7 L1169.0 575.7 L1170.0 568.7 L1170.8 573.2 L1171.7 571.4 L1172.7 571.9 L1173.7 571.4 L1174.6 571.0 L1175.4 565.1 L1176.2 569.0 L1176.9 569.4 L1177.7 566.9 L1178.7 566.3 L1179.6 569.9 L1180.5 567.7 L1181.5 569.5 L1181.8 567.7 L1182.7 561.4 L1183.4 580.9 L1184.5 563.3 L1185.5 562.0 L1186.8 563.9 L1187.7 569.7 L1188.6 563.7 L1189.4 569.7 L1190.2 566.9 L1191.0 570.6 L1192.0 567.6 L1192.9 564.7 L1193.7 573.6 L1194.6 564.2 L1195.4 567.1 L1196.4 572.8 L1197.3 570.0 L1198.1 568.3 L1199.0 571.9 L1199.8 570.5 L1200.6 571.5 L1201.6 572.0 L1202.4 570.2 L1203.3 576.1 L1204.3 573.4 L1205.0 571.1 L1205.1 572.7 L1206.1 576.5 L1207.0 570.8 L1207.8 572.1 L1208.8 567.1 L1209.8 567.7 L1210.7 576.7 L1211.4 569.5 L1212.3 568.3 L1213.2 561.6 L1214.1 573.6 L1215.0 564.2 L1215.7 569.1 L1216.6 566.0 L1217.5 566.4 L1218.4 564.7 L1219.2 568.1 L1220.0 565.5 L1220.8 568.6 L1221.7 565.2 L1222.5 567.3 L1223.4 570.5 L1224.2 568.9 L1225.0 566.2 L1225.8 566.8 L1226.7 567.2 L1227.7 570.1 L1228.6 565.5 L1229.5 569.2 L1230.4 562.2 L1231.2 564.5 L1232.0 565.2 L1232.9 570.2 L1233.9 561.6 L1234.9 564.1 L1235.8 569.1 L1236.7 563.5 L1237.5 563.2 L1238.2 562.8 L1239.0 563.9 L1239.7 565.0 L1240.6 566.0 L1241.5 559.9 L1242.3 563.8 L1243.2 564.8 L1244.0 564.8 L1245.0 567.9 L1245.8 565.8 L1246.6 566.8 L1247.1 565.8 L1247.9 558.2 L1248.8 565.8 L1249.8 558.9 L1251.1 564.5 L1252.3 559.5 L1253.6 563.9 L1254.6 558.2 L1255.5 557.0 L1256.4 563.3 L1257.4 558.2 L1258.3 565.8 L1259.3 560.8 L1260.2 571.5 L1260.9 560.8 L1261.8 557.0 L1263.1 558.2 L1263.9 561.0 L1264.7 557.1 L1265.6 558.0 L1266.3 563.6 L1267.2 559.6 L1268.0 558.8 L1268.8 562.4 L1269.6 561.5 L1270.4 563.3 L1271.2 560.7 L1272.0 563.8 L1273.0 562.5 L1273.8 560.5 L1274.6 559.1 L1275.3 562.5 L1276.3 559.6 L1277.2 560.6 L1278.0 564.0 L1278.9 556.9 L1279.7 562.6 L1280.5 558.2 L1281.3 562.8 L1282.1 560.1 L1283.1 559.3 L1284.0 559.8 L1284.8 560.4 L1285.8 560.0 L1286.6 561.7 L1287.4 556.5 L1288.3 561.4 L1289.3 559.1 L1290.2 560.5 L1291.0 560.5 L1291.8 563.0 L1292.6 557.3 L1293.5 563.2 L1294.4 556.9 L1295.1 564.9 L1295.9 558.1 L1296.8 565.2 L1297.6 562.7 L1298.5 562.6 L1299.5 561.8 L1300.4 562.0 L1301.2 559.4 L1302.1 562.0 L1303.0 564.4 L1303.8 560.4 L1304.7 563.6 L1305.5 563.8 L1306.3 563.1 L1307.3 561.6 L1308.1 560.5 L1308.8 563.9 L1309.7 563.0 L1310.4 563.0 L1311.2 559.3 L1312.1 566.3 L1313.0 564.5 L1313.7 565.0 L1314.5 564.5 L1315.4 565.1 L1316.4 566.8 L1317.2 566.4 L1318.0 565.5 L1318.8 563.2 L1319.7 565.0 L1320.6 563.9 L1321.4 562.6 L1322.3 566.2 L1323.0 559.4 L1323.9 563.8 L1324.7 563.7 L1325.5 563.8 L1326.4 559.9 L1327.2 561.3 L1327.9 561.4 L1328.8 561.5 L1329.7 563.7 L1330.5 565.9 L1331.3 559.9 L1332.2 562.9 L1333.1 561.4 L1334.0 562.9 L1334.8 562.3 L1335.7 561.9 L1336.6 562.0 L1337.6 561.6 L1338.5 564.7 L1339.4 561.3 L1340.2 562.2 L1341.0 561.5 L1341.9 558.6 L1342.8 564.2 L1343.7 556.1 L1344.6 559.8 L1345.4 560.2 L1346.2 564.8 L1347.0 560.9 L1347.9 560.4 L1348.8 562.1 L1349.6 561.6 L1350.4 563.5 L1351.3 558.9 L1352.3 560.3 L1353.2 561.9 L1354.1 563.4 L1354.8 561.5 L1355.6 560.1 L1356.5 562.6 L1357.4 557.8 L1358.2 559.6 L1359.1 563.7 L1359.9 560.1 L1360.6 562.0 L1361.4 562.1 L1362.3 562.7 L1363.1 562.4 L1364.0 563.9 L1364.9 561.8 L1365.8 563.3 L1366.7 563.5 L1367.5 563.9 L1368.3 565.5 L1369.2 565.6 L1370.0 562.7 L1371.0 561.6 L1371.8 565.1 L1372.7 560.0 L1373.6 562.1 L1374.5 562.4 L1375.3 566.5 L1376.2 560.3 L1377.1 565.7 L1377.8 563.2 L1378.7 568.4 L1379.4 559.6 L1380.2 563.4 L1381.1 562.6 L1381.9 563.6 L1382.7 560.7 L1383.5 559.6 L1384.4 561.3 L1385.3 561.6 L1386.1 563.6 L1387.0 561.0 L1387.8 559.8 L1388.7 560.6 L1389.6 562.3 L1390.3 556.6 L1391.1 563.1 L1391.9 557.6 L1392.8 562.4 L1393.7 559.9 L1394.6 563.3 L1395.5 562.1 L1396.3 563.3 L1397.2 559.0 L1397.3 560.1 L1398.6 555.7 L1399.8 563.3 L1400.7 565.5 L1401.7 557.7 L1402.5 563.9 L1403.3 564.1 L1404.3 561.1 L1405.0 561.0 L1405.9 559.6 L1406.8 560.9 L1407.7 558.5 L1408.6 560.3 L1409.5 560.5 L1410.3 558.8 L1411.1 564.0 L1412.0 556.1 L1413.0 561.0 L1413.7 560.4 L1414.7 561.6 L1415.6 560.6 L1416.5 567.4 L1417.3 560.1 L1418.1 564.4 L1419.0 565.3 L1419.8 563.7 L1420.5 558.8 L1421.3 564.7 L1422.3 562.1 L1423.1 562.9 L1423.8 561.4 L1424.7 557.5 L1425.7 563.0 L1426.4 563.0 L1427.2 561.9 L1428.1 562.6 L1428.9 563.5 L1429.8 558.8 L1430.7 565.6 L1431.6 563.1 L1432.3 563.8 L1433.1 557.0 L1434.0 563.4 L1434.8 564.7 L1435.7 558.5 L1436.5 561.4 L1437.3 563.8 L1438.1 562.0 L1438.8 562.4 L1439.6 561.6 L1440.5 560.2 L1441.2 565.1 L1442.1 561.3 L1442.8 561.1 L1443.6 563.5 L1444.4 560.0 L1445.3 564.1 L1446.2 559.1 L1447.2 564.1 L1448.2 562.5 L1449.0 561.7 L1449.9 561.8 L1450.9 563.5 L1451.9 558.5 L1452.7 560.0 L1453.5 563.2 L1454.3 561.8 L1454.3 563.0 L1455.3 568.7 L1456.5 563.0 L1457.4 563.4 L1458.2 559.7 L1459.0 563.9 L1459.8 558.9 L1460.5 558.8 L1461.3 565.6 L1462.1 561.5 L1462.9 562.1 L1463.9 560.2 L1464.7 560.3 L1465.5 562.8 L1466.5 563.7 L1467.4 556.7 L1468.2 560.5 L1469.0 563.0 L1469.8 556.7 L1470.6 564.7 L1471.5 562.5 L1472.2 561.6 L1473.0 557.6 L1473.8 562.4 L1474.6 563.0 L1475.4 561.3 L1476.3 560.9 L1477.3 561.9 L1478.1 562.2 L1478.9 557.2 L1479.7 562.7 L1480.6 557.9 L1481.4 563.0 L1482.4 559.1 L1483.2 563.2 L1484.2 560.0 L1484.5 561.8 L1485.4 554.5 L1486.3 561.8 L1487.2 560.0 L1487.9 560.6 L1488.8 559.0 L1489.6 562.4 L1490.5 559.5 L1491.4 558.6 L1492.3 562.0 L1493.1 563.6 L1493.8 561.3 L1494.7 561.8 L1495.6 559.8 L1496.6 557.7 L1497.5 562.6 L1498.4 558.5 L1499.2 562.3 L1500.2 559.7 L1501.0 564.8 L1501.8 559.3 L1502.8 564.9 L1503.6 558.2 L1504.6 564.7 L1505.5 559.6 L1506.4 563.7 L1507.2 562.3 L1508.0 558.9 L1508.8 564.6 L1509.7 559.9 L1510.5 564.7 L1511.2 561.4 L1512.1 562.4 L1513.0 563.3 L1513.9 559.0 L1514.8 562.0 L1515.6 562.5 L1516.5 561.8 L1517.3 558.0 L1518.1 562.8 L1518.9 558.7 L1519.7 561.2 L1520.4 558.1 L1520.8 560.5 L1521.6 554.5 L1522.5 560.5 L1523.3 563.6 L1524.2 558.1 L1525.0 560.5 L1525.7 562.8 L1526.5 559.4 L1527.3 564.5 L1528.0 561.1 L1528.8 559.6 L1529.6 566.7 L1530.6 564.1 L1531.3 564.1 L1532.2 558.9 L1532.8 564.3 L1534.1 561.8 L1534.7 552.3 L1535.3 556.1 L1536.0 558.0 L1536.5 547.9 L1537.0 544.1 L1537.5 565.5 L1537.9 578.1 L1538.4 556.7 L1538.7 542.9 L1539.2 555.5 L1539.8 563.0 L1540.1 571.9 L1540.4 576.9 L1540.9 555.5 L1541.3 541.6 L1541.8 552.9 L1542.3 560.5 L1542.8 554.2 L1543.3 550.4 L1543.8 565.5 L1544.2 574.4 L1544.7 560.5 L1545.0 551.7 L1545.5 560.5 L1546.0 568.1 L1546.5 572.5 L1546.9 575.6 L1547.4 573.1 L1547.9 571.9 L1548.8 570.0 L1549.8 568.7 L1550.5 560.5 L1551.1 554.2 L1551.7 556.7 L1552.3 559.2 L1553.2 556.2 L1554.1 568.5 L1555.0 559.6 L1555.9 561.9 L1556.8 557.6 L1557.7 564.1 L1558.6 564.8 L1559.3 550.7 L1560.3 560.2 L1561.2 562.8 L1562.1 557.2 L1563.0 553.2 L1563.8 574.1 L1564.5 561.0 L1565.4 557.3 L1566.2 560.4 L1567.1 554.1 L1567.9 563.6 L1568.6 568.5 L1569.4 551.6 L1570.4 557.3 L1571.3 570.0 L1572.1 552.0 L1573.0 569.6 L1573.8 555.4 L1574.7 565.2 L1575.5 558.4 L1576.3 560.0 L1577.2 557.9 L1578.0 554.0 L1578.8 555.6 L1579.6 571.0 L1580.4 554.5 L1581.2 555.6 L1582.1 560.9 L1582.8 553.1 L1583.6 563.0 L1584.5 573.4 L1585.4 560.5 L1586.2 567.6 L1587.0 554.0 L1587.9 566.8 L1588.7 556.9 L1589.7 557.8 L1590.6 564.2 L1591.6 554.8 L1592.3 568.4 L1593.2 558.2 L1594.0 556.6 L1595.0 563.5 L1595.8 557.7 L1596.7 564.4 L1597.5 556.6 L1598.3 555.8 L1599.0 562.9 L1599.8 563.3 L1600.6 564.2 L1601.4 558.6 L1601.9 565.5 L1602.8 575.6 L1603.7 559.2 L1604.7 552.9 L1605.9 565.5 L1606.9 570.6 L1607.8 575.4 L1608.7 556.7 L1609.7 552.9 L1610.6 565.5 L1611.6 568.1 L1612.6 575.6 L1613.5 559.2 L1614.8 544.1 L1615.6 560.5 L1616.6 570.6 L1617.7 578.1 L1618.5 563.0 L1619.5 552.9 L1620.4 576.9 L1621.2 559.2 L1621.7 550.4 L1622.2 541.6 L1622.7 534.0 L1623.2 533.0 L1623.6 532.8 L1624.2 533.0 L1624.8 533.4 L1625.3 542.9 L1625.7 550.4 L1626.1 575.6 L1626.3 590.8 L1626.7 556.7 L1627.1 532.8 L1627.6 563.0 L1628.0 581.9 L1628.4 570.6 L1628.6 563.0 L1629.1 545.4 L1629.5 532.1 L1630.0 563.0 L1630.5 587.0 L1631.0 560.5 L1631.5 537.8 L1632.0 530.2 L1632.4 526.2 L1632.8 552.9 L1633.0 576.9 L1633.5 550.4 L1633.9 531.5 L1634.3 552.9 L1634.7 570.6 L1635.2 588.2 L1635.5 600.8 L1636.0 565.5 L1636.4 535.3 L1636.8 560.5 L1637.2 580.7 L1637.7 571.9 L1638.1 565.5 L1638.7 560.5 L1639.3 556.7 L1640.2 556.8 L1640.9 556.0 L1641.7 567.0 L1642.5 560.7 L1643.2 564.5 L1644.1 559.1 L1644.9 565.3 L1645.9 562.9 L1646.7 561.2 L1647.6 564.8 L1648.3 563.0 L1649.2 567.3 L1650.0 558.0 L1650.8 562.9 L1651.7 561.4 L1652.5 567.9 L1653.3 561.7 L1653.5 565.5 L1654.5 572.9 L1655.5 563.0 L1656.3 558.7 L1657.2 566.2 L1658.2 560.8 L1659.0 560.0 L1660.0 566.5 L1660.8 557.9 L1661.6 560.9 L1662.4 561.6 L1663.4 566.0 L1664.3 557.3 L1665.1 563.9 L1666.0 565.6 L1666.7 555.7 L1667.6 568.0 L1668.4 556.9 L1669.3 560.0 L1670.3 566.5 L1671.1 561.8 L1672.0 558.1 L1672.9 560.3 L1673.6 566.1 L1674.4 563.6 L1675.4 562.5 L1676.3 560.3 L1677.2 563.8 L1678.0 555.6 L1678.8 566.0 L1679.6 561.0 L1680.5 558.9 L1681.3 564.8 L1682.2 558.9 L1683.0 562.4 L1683.8 555.4 L1684.6 559.8 L1685.4 563.2 L1686.3 555.3 L1687.2 564.0 L1688.0 557.9 L1688.9 556.6 L1689.8 563.0 L1690.8 563.5 L1691.7 557.6 L1692.0 564.3 L1692.9 570.1 L1693.8 560.5 L1694.6 561.0 L1695.5 557.0 L1696.4 561.2 L1697.3 561.9 L1698.3 557.8 L1699.1 555.2 L1699.9 565.5 L1700.7 559.6 L1701.3 556.7 L1702.3 546.6 L1702.9 563.0 L1703.4 574.6 L1704.2 560.5 L1705.1 558.5 L1706.0 559.8 L1706.8 564.6 L1707.6 554.9 L1708.4 565.2 L1709.3 559.3 L1709.9 559.2 L1710.9 552.9 L1711.9 563.0 L1712.8 565.5 L1713.7 570.8 L1714.7 563.0 L1715.6 557.1 L1716.3 565.0 L1717.2 560.8 L1718.2 557.0 L1719.1 565.4 L1720.0 556.7 L1720.9 562.8 L1721.8 560.9 L1722.8 559.9 L1723.7 560.3 L1724.5 563.6 L1724.5 563.6 L1725.2 567.9 L1726.0 562.6 L1726.9 564.9 L1727.8 564.0 L1728.8 557.0 L1729.5 559.6 L1730.3 564.6 L1731.0 564.5 L1732.0 562.1 L1732.8 555.7 L1733.5 562.1 L1734.4 556.8 L1735.3 559.6 L1736.2 559.3 L1737.0 557.7 L1737.8 561.8 L1738.6 554.0 L1739.5 565.1 L1740.2 554.0 L1741.1 563.2 L1741.9 558.4 L1742.7 558.4 L1743.5 562.4 L1744.3 565.5 L1745.0 557.1 L1746.0 559.4 L1746.8 564.2 L1747.7 558.1 L1748.6 564.6 L1749.5 554.9 L1750.5 557.4 L1751.2 564.1 L1751.9 557.2 L1752.8 561.0 L1753.5 559.7 L1754.3 561.9 L1755.3 556.5 L1756.2 556.3 L1757.1 562.9 L1758.0 556.6 L1758.8 558.7 L1759.5 561.9 L1760.3 555.9 L1761.2 563.2 L1762.2 554.2 L1763.2 554.5 L1763.9 554.8 L1764.8 558.1 L1765.7 555.4 L1766.5 561.9 L1767.5 557.6 L1768.2 563.2 L1769.2 563.5 L1770.0 564.4 L1771.0 562.3 L1771.8 556.1 L1772.6 565.6 L1773.5 561.3 L1774.4 561.3 L1775.2 559.2 L1776.1 562.1 L1776.8 558.8 L1777.7 555.8 L1778.6 563.2 L1779.4 558.7 L1780.3 561.4 L1781.1 560.4 L1781.9 558.6 L1782.6 566.4 L1783.6 562.7 L1784.4 566.5 L1784.5 564.6 L1785.5 568.1 L1787.1 568.7 L1788.1 564.6 L1788.9 561.9 L1789.7 559.5 L1790.7 561.0 L1791.4 559.8 L1792.3 556.4 L1793.1 555.9 L1794.0 556.0 L1794.9 558.8 L1795.8 562.0 L1796.7 556.9 L1797.5 563.1 L1798.5 557.2 L1798.7 559.6 L1799.2 554.5 L1799.7 549.5 L1800.2 560.6 L1800.7 554.5 L1801.3 562.6 L1801.9 552.5 L1802.5 564.1 L1803.0 554.5 L1803.5 569.7 L1804.2 552.5 L1804.9 565.6 L1805.7 550.5 L1806.5 562.6 L1807.3 555.5 L1808.2 560.6 L1809.2 556.5 L1810.0 562.6 L1810.8 566.6 L1811.6 554.5 L1812.3 550.5 L1813.0 554.5 L1813.8 558.6 L1814.6 560.6 L1815.3 550.5 L1816.0 564.6 L1816.8 567.6 L1817.4 552.5 L1817.8 547.5 L1818.4 560.6 L1819.0 568.7 L1819.8 554.5 L1820.8 547.5 L1821.3 562.6 L1821.8 572.7 L1822.3 560.6 L1822.9 575.7 L1823.4 576.7 L1823.9 560.6 L1824.4 542.4 L1824.9 536.4 L1825.4 546.5 L1825.9 560.6 L1826.5 566.6 L1827.1 554.5 L1827.7 550.5 L1828.4 546.5 L1828.9 558.6 L1829.4 565.6 L1830.1 556.5 L1830.9 552.5 L1831.7 559.6 L1832.4 555.5 L1833.5 560.6 L1834.5 567.6 L1835.2 562.6 L1836.0 560.6 L1837.0 559.6 L1838.0 555.5 L1839.0 560.6 L1839.8 556.5 L1840.5 552.5 L1841.0 563.6 L1842.0 560.6 L1843.0 558.6 L1844.0 557.1 L1845.0 554.5 L1846.0 555.5 L1847.1 554.5 L1847.8 553.9 L1848.6 552.5 L1849.3 554.7 L1850.1 555.5 L1851.1 553.5 L1851.8 554.0 L1852.6 553.0 L1853.6 556.5 L1854.4 559.2 L1855.1 559.6 L1856.3 564.6 L1857.3 567.6 L1858.7 570.7 L1859.7 564.6 L1860.4 566.6 L1861.2 564.6 L1862.2 560.6 L1863.2 555.5 L1863.7 547.5 L1864.4 550.5 L1865.2 547.5 L1866.0 542.4 L1866.7 539.4 L1867.7 544.5 L1868.7 541.4 L1869.5 541.0 L1870.2 539.4 L1871.1 533.4 L1871.8 528.3 L1872.5 521.3 L1873.0 520.2 L1873.8 527.3 L1874.3 529.3 L1875.1 528.3 L1875.8 533.4 L1876.5 530.3 L1877.3 529.3 L1878.3 529.8 L1879.3 527.8 L1880.3 528.3 L1881.3 525.3 L1882.3 526.3 L1883.4 523.8 L1884.4 523.3 L1885.4 525.3 L1886.4 528.3 L1887.4 525.3 L1888.4 522.3 L1889.4 520.2 L1890.4 519.2 L1891.4 519.2 L1892.2 516.2 L1892.9 513.2 L1893.7 512.2 L1894.2 509.2 L1895.0 514.2 L1896.0 514.2 L1896.7 518.2 L1897.5 522.3 L1898.5 525.3 L1899.5 528.3 L1900.5 530.3 L1901.5 526.3 L1902.5 521.3 L1903.0 527.3 L1903.5 529.3 L1904.5 530.3 L1905.5 531.3 L1906.5 532.4 L1907.6 533.4 L1908.6 535.4 L1909.6 541.4 L1910.6 546.5 L1911.4 551.5 L1912.1 554.5 L1912.6 561.1 L1913.6 560.6 L1914.6 560.1 L1915.6 559.6 L1916.6 559.6 L1917.1 563.1 L1917.8 560.6 L1918.7 555.5 L1919.7 550.5 L1920.7 547.5 L1921.7 544.5 L1922.7 540.4 L1923.7 541.4 L1924.7 541.4 L1925.7 539.4 L1926.7 540.4 L1927.7 538.4 L1928.7 539.4 L1929.8 538.4 L1930.8 534.4 L1931.8 531.3 L1932.8 528.3 L1933.6 525.3 L1934.3 523.3 L1935.0 527.3 L1935.8 530.3 L1936.8 533.4 L1937.6 529.3 L1938.8 528.3 L1939.8 530.3 L1940.8 527.3 L1941.8 526.3 L1942.6 526.6 L1943.4 524.8 L1944.1 523.3 L1944.9 524.3 L1945.9 526.3 L1946.9 522.3 L1947.9 520.2 L1948.7 520.4 L1949.4 520.8 L1950.2 521.7 L1950.9 520.2 L1951.9 521.3 L1952.9 519.8 L1954.0 521.3 L1955.0 519.2 L1956.0 519.8 L1957.0 523.3 L1958.0 520.2 L1959.0 521.3 L1959.6 520.2 L1960.3 520.1 L1961.1 519.2 L1961.8 521.8 L1962.6 522.3 L1963.4 520.8 L1964.1 521.3 L1964.9 520.7 L1965.6 520.2 L1966.4 519.9 L1967.1 520.8 L1968.2 517.7 L1969.2 519.2 L1969.9 520.9 L1970.7 522.3 L1971.4 523.2 L1972.2 523.8 L1972.9 522.5 L1973.7 523.8 L1974.7 520.2 L1975.5 518.5 L1976.2 518.2 L1977.2 514.2 L1978.5 509.2 L1979.5 511.7 L1980.2 512.2 L1981.1 511.7 L1981.8 512.7 L1982.5 517.2 L1983.8 524.3 L1984.5 525.3 L1985.3 523.3 L1986.3 524.3 L1987.3 526.8 L1988.1 527.5 L1988.8 529.3 L1989.6 531.4 L1990.3 531.3 L1991.3 534.9 L1992.3 535.9 L1993.1 535.8 L1993.9 534.4 L1994.9 534.9 L1995.6 533.7 L1996.4 534.4 L1997.1 535.9 L1997.9 535.9 L1998.7 534.2 L1999.4 534.4 L2000.4 535.4 L2001.4 538.4 L2002.2 540.4 L2002.9 537.4 L2003.7 538.0 L2004.5 537.9 L2005.5 535.9 L2006.5 536.4 L2007.5 535.4 L2008.5 538.4 L2009.5 540.4 L2010.5 540.9 L2011.5 541.4 L2012.5 539.4 L2013.3 537.9 L2014.0 538.4 L2014.8 536.1 L2015.5 536.4 L2016.3 536.9 L2017.1 535.4 L2017.8 534.1 L2018.6 534.4 L2019.6 535.9 L2020.6 534.9 L2021.6 534.4 L2022.6 533.4 L2023.4 531.6 L2024.1 531.3 L2025.1 530.3 L2026.1 529.3 L2027.1 528.3 L2028.2 524.3 L2029.2 520.2 L2029.9 519.2 L2030.7 519.8 L2031.7 517.2 L2032.7 519.2 L2033.7 520.2 L2034.7 520.8 L2035.5 522.3 L2036.7 519.2 L2037.5 515.7 L2038.5 520.2 L2039.8 520.8 L2040.8 519.8 L2042.0 520.2 L2043.3 518.2 L2044.0 519.0 L2044.8 517.2 L2045.5 518.3 L2046.3 517.4 L2047.1 516.7 L2047.8 517.0 L2048.6 514.7 L2049.3 518.2 L2050.3 517.2 L2051.3 516.2 L2052.1 512.2 L2052.9 510.2 L2053.6 506.6 L2054.4 510.2 L2055.4 512.2 L2056.1 514.2 L2056.9 513.2 L2057.9 515.2 L2058.9 516.7 L2059.9 520.2 L2060.9 522.3 L2061.9 524.3 L2062.7 525.7 L2063.4 524.8 L2064.2 525.6 L2065.0 526.3 L2066.0 527.3 L2066.7 529.0 L2067.5 529.8 L2068.2 529.6 L2069.0 530.8 L2069.8 533.0 L2070.5 532.9 L2071.3 534.1 L2072.0 534.4 L2072.8 534.8 L2073.5 532.9 L2074.3 533.9 L2075.0 532.9 L2075.8 532.8 L2076.6 533.9 L2077.3 534.5 L2078.1 535.9 L2078.8 535.5 L2079.6 536.9 L2080.3 536.7 L2081.1 538.4 L2082.1 537.8 L2083.1 539.4 L2084.1 539.1 L2085.1 539.9 L2085.9 540.7 L2086.6 540.9 L2087.4 539.1 L2088.2 539.9 L2089.2 540.6 L2090.2 540.4 L2091.2 540.5 L2092.2 541.4 L2093.2 541.4 L2094.2 542.4 L2095.0 544.0 L2095.7 544.0 L2096.7 540.4 L2097.7 539.4 L2098.5 538.9 L2099.2 538.4 L2100.0 537.7 L2100.8 537.9 L2101.5 537.1 L2102.3 536.4 L2103.0 537.2 L2103.8 536.9 L2104.5 536.5 L2105.3 538.4 L2106.3 538.9 L2107.1 539.4 L2107.8 537.4 L2108.6 534.9 L2109.3 534.9 L2110.1 535.3 L2110.8 534.4 L2111.6 534.8 L2112.3 533.4 L2113.4 531.9 L2114.4 534.4 L2115.1 533.9 L2115.9 535.9 L2116.9 536.4 L2117.7 536.1 L2118.4 534.4 L2119.2 533.8 L2119.9 533.9 L2120.7 534.1 L2121.4 533.9 L2122.2 532.8 L2122.9 534.4 L2123.7 532.7 L2124.4 533.4 L2125.5 532.0 L2126.5 532.4 L2127.5 533.0 L2128.5 531.3 L2129.5 530.3 L2130.5 530.8 L2131.3 532.5 L2132.0 532.9 L2132.8 533.7 L2133.5 532.4 L2134.3 534.3 L2135.0 533.9 L2135.8 533.7 L2136.6 534.4 L2137.6 533.7 L2138.6 533.9 L2139.3 533.7 L2140.1 533.4 L2141.1 530.3 L2141.8 531.3 L2142.6 530.8 L2143.4 529.6 L2144.1 530.3 L2144.9 530.5 L2145.6 529.3 L2146.4 530.4 L2147.1 529.8 L2147.9 530.0 L2148.7 528.3 L2149.4 527.4 L2150.2 528.8 L2150.9 530.0 L2151.7 528.8 L2152.4 528.0 L2153.2 529.3 L2153.9 528.7 L2154.7 528.8 L2155.5 529.4 L2156.2 529.3 L2157.0 529.9 L2157.7 528.3 L2158.5 527.4 L2159.2 527.3 L2160.0 528.2 L2160.8 526.8 L2161.8 525.3 L2163.0 523.3 L2164.0 527.3 L2165.3 526.3 L2166.6 524.8 L2167.8 525.3 L2168.8 524.3 L2169.6 521.3 L2170.3 520.2" stroke="#0000ff" stroke-width="1.1"/>
<path d="M331.0 552.3 L340.1 552.3 L340.6 543.7 L341.0 553.6 L341.6 551.5 L342.9 551.9 L344.2 551.5 L345.5 551.9 L346.8 551.5 L349.1 552.3 L349.6 549.3 L350.6 546.7 L351.9 544.6 L352.8 542.4 L353.6 543.7 L354.5 543.3 L355.4 545.0 L356.6 544.1 L357.5 545.9 L358.4 544.6 L359.6 546.3 L360.5 545.9 L361.4 548.4 L362.5 547.2 L363.1 549.3 L363.8 551.9 L364.4 554.0 L364.8 558.8 L365.2 566.5 L365.7 576.4 L366.1 571.6 L366.5 565.6 L367.1 563.1 L367.8 561.3 L368.7 560.9 L369.4 558.8 L370.4 559.2 L371.2 557.0 L372.1 557.9 L373.0 556.6 L373.8 556.2 L374.7 557.0 L375.6 556.2 L376.4 557.9 L377.3 556.6 L378.1 557.9 L379.0 559.6 L379.7 561.3 L380.3 564.8 L380.7 568.2 L381.3 565.6 L381.8 567.8 L382.4 564.8 L383.1 563.1 L383.7 565.6 L384.4 561.3 L385.0 563.5 L385.9 558.8 L386.6 561.3 L387.4 557.9 L388.3 559.6 L389.1 558.3 L390.2 557.9 L391.2 554.5 L391.9 555.3 L392.6 553.6 L393.4 556.2 L394.3 553.2 L395.1 554.0 L396.2 551.9 L397.0 553.6 L397.9 551.0 L398.8 551.5 L399.6 549.7 L400.5 551.0 L401.3 549.3 L402.2 548.4 L403.1 550.2 L403.9 548.9 L404.8 550.2 L405.6 549.3 L406.5 550.2 L407.4 549.3 L408.2 550.6 L409.1 549.3 L409.9 550.2 L410.8 549.3 L411.6 550.6 L412.5 549.7 L413.4 551.0 L414.2 548.9 L415.1 550.2 L415.9 548.9 L416.8 549.3 L417.7 548.4 L418.5 550.2 L419.4 548.9 L420.2 549.3 L420.9 546.7 L421.8 548.4 L422.6 547.6 L423.7 549.3 L424.5 548.4 L425.4 550.2 L426.3 549.3 L427.1 551.0 L428.0 549.3 L428.8 550.2 L429.7 549.3 L430.6 548.9 L431.4 549.7 L432.3 549.3 L433.1 551.0 L434.0 548.9 L434.9 550.2 L435.7 548.4 L436.6 550.2 L437.4 548.4 L438.3 550.2 L439.1 549.3 L440.0 548.4 L440.9 550.2 L441.6 551.9 L442.2 548.4 L443.0 546.3 L443.6 550.2 L444.3 549.3 L445.0 553.2 L445.6 550.2 L446.5 549.3 L447.3 549.7 L448.2 547.6 L449.0 546.7 L449.9 548.4 L450.8 547.2 L451.6 548.9 L452.5 545.9 L453.3 545.0 L454.2 546.7 L455.1 545.9 L455.9 547.6 L456.8 545.9 L457.6 545.4 L458.5 547.6 L459.4 546.7 L460.2 545.9 L461.1 546.3 L461.9 545.0 L462.8 545.9 L463.5 542.4 L464.1 545.0 L464.9 544.1 L465.8 545.4 L466.7 544.1 L467.5 545.0 L468.4 543.3 L469.2 545.9 L470.1 543.7 L470.9 541.6 L471.8 542.4 L472.7 540.7 L473.5 542.0 L474.4 540.7 L475.2 541.6 L475.9 540.7 L476.5 545.9 L477.4 546.3 L478.3 543.3 L479.1 545.0 L480.0 541.6 L480.8 542.4 L481.7 541.1 L482.6 543.3 L483.4 544.6 L484.3 542.4 L485.1 543.7 L486.0 540.7 L486.9 542.0 L487.7 539.4 L488.6 541.6 L489.4 539.9 L490.3 541.1 L491.1 539.4 L492.0 540.7 L492.9 537.7 L493.6 536.8 L494.3 539.9 L495.0 543.3 L495.9 543.7 L496.7 540.7 L497.6 541.6 L498.5 539.9 L499.3 540.3 L500.2 541.6 L501.0 541.1 L501.9 544.1 L502.8 541.6 L503.6 541.1 L504.5 542.0 L505.3 540.7 L506.2 541.6 L507.1 539.9 L507.9 540.3 L508.8 539.4 L509.6 541.6 L510.5 540.7 L511.4 543.3 L512.2 543.7 L513.1 541.6 L513.9 539.4 L514.8 545.0 L515.6 542.4 L516.5 541.6 L517.4 542.0 L518.2 540.7 L519.1 541.6 L519.9 540.3 L520.8 540.7 L521.7 539.4 L522.5 540.7 L523.4 539.9 L524.2 541.6 L525.1 539.0 L526.0 537.7 L526.8 540.7 L527.7 541.6 L528.5 542.0 L529.4 542.4 L530.0 543.3 L531.0 540.8 L531.8 542.9 L532.6 541.8 L533.3 543.3 L534.2 545.0 L535.1 542.2 L536.0 544.3 L536.9 542.5 L537.8 543.5 L538.7 544.4 L539.7 544.9 L540.5 545.0 L541.5 545.2 L542.2 543.1 L543.0 545.3 L543.9 544.1 L544.8 545.1 L545.7 546.0 L546.6 544.7 L547.6 545.9 L548.5 544.7 L549.4 544.6 L550.1 545.6 L550.9 545.0 L551.6 543.5 L552.6 543.3 L553.3 545.7 L554.3 545.6 L555.2 543.2 L556.1 543.1 L556.9 545.2 L557.7 545.3 L558.6 545.0 L559.5 543.8 L560.4 544.3 L561.3 544.1 L562.2 543.2 L563.2 544.4 L563.9 543.6 L564.6 544.3 L565.4 544.1 L566.3 543.1 L567.2 541.4 L568.1 545.9 L568.9 543.2 L569.7 542.7 L570.6 543.0 L571.5 542.0 L572.4 543.2 L573.4 542.5 L574.2 544.0 L575.0 542.2 L575.8 544.2 L576.6 542.9 L577.5 541.6 L578.4 541.9 L579.3 541.7 L580.2 542.9 L581.0 540.6 L582.0 541.5 L582.8 541.6 L583.7 539.7 L584.7 543.0 L585.5 541.9 L586.3 541.0 L587.2 540.4 L588.0 539.0 L588.9 540.0 L589.6 541.9 L590.6 542.1 L591.4 540.3 L592.2 543.1 L593.1 544.0 L593.9 544.5 L594.9 545.9 L595.7 545.6 L596.6 546.6 L597.6 549.4 L598.3 548.6 L599.0 547.7 L599.9 548.6 L600.8 546.1 L601.6 547.6 L602.5 550.4 L603.4 547.5 L604.2 549.2 L605.0 547.4 L605.8 549.1 L606.6 547.1 L607.4 549.4 L608.2 549.3 L609.1 547.8 L610.0 548.4 L610.8 547.8 L611.7 547.5 L612.5 550.2 L613.4 549.3 L614.1 547.9 L615.1 549.1 L616.0 548.9 L616.9 547.1 L617.6 547.9 L618.3 547.7 L619.3 547.4 L620.2 548.0 L621.1 550.0 L622.0 549.6 L622.9 548.0 L623.6 549.3 L624.4 547.7 L625.3 547.9 L626.1 548.5 L626.9 548.5 L627.7 548.5 L628.6 548.5 L629.5 548.5 L630.4 548.5 L631.3 548.5 L632.0 548.5 L633.0 548.5 L633.9 548.5 L634.7 548.5 L635.4 548.5 L636.2 548.5 L637.2 548.5 L638.0 548.5 L638.8 548.5 L639.6 548.5 L640.6 548.5 L641.4 548.5 L642.3 548.5 L643.2 548.5 L644.2 548.5 L645.0 548.5 L645.9 548.5 L646.7 548.5 L647.6 548.5 L648.4 548.5 L649.2 548.5 L650.0 548.5 L650.8 548.5 L651.5 548.5 L652.3 547.8 L653.3 548.4 L654.1 547.8 L654.8 549.8 L655.6 549.1 L656.5 548.4 L657.4 548.2 L658.2 548.6 L659.1 547.7 L659.9 547.2 L660.8 548.0 L661.7 547.9 L662.6 547.7 L663.6 546.0 L664.5 547.9 L665.4 546.8 L666.2 545.7 L667.1 547.5 L667.9 546.0 L668.8 545.5 L669.6 548.1 L670.4 546.3 L671.4 546.7 L672.1 546.6 L672.9 548.4 L673.6 546.0 L674.5 548.8 L675.4 546.1 L676.2 548.2 L677.0 547.0 L677.7 549.1 L678.6 546.7 L679.5 547.7 L680.4 546.0 L681.3 547.0 L682.0 546.9 L682.8 545.5 L683.6 545.6 L684.5 545.8 L685.3 546.6 L686.1 545.6 L686.8 544.4 L687.5 545.5 L688.4 546.3 L689.1 545.8 L690.1 545.3 L690.9 545.7 L691.8 544.4 L692.7 543.1 L693.4 544.7 L694.3 545.8 L695.1 545.0 L695.9 545.4 L696.7 545.7 L697.5 543.9 L698.4 543.6 L699.2 546.3 L700.0 543.6 L700.8 545.0 L701.5 543.9 L702.4 543.3 L703.2 545.6 L703.9 544.9 L704.6 546.7 L705.4 544.6 L706.3 544.8 L707.0 546.2 L707.9 544.9 L708.7 544.6 L709.7 545.8 L710.4 545.3 L711.3 541.8 L712.0 543.5 L712.8 545.0 L713.5 544.9 L714.5 544.0 L715.2 541.8 L716.2 542.0 L717.1 542.7 L717.9 544.6 L718.7 544.4 L719.6 544.0 L720.4 544.0 L721.4 544.7 L722.1 545.5 L723.0 544.1 L723.8 545.9 L724.6 545.1 L725.4 543.6 L726.3 546.2 L727.1 545.5 L727.9 543.9 L728.7 546.3 L729.6 543.0 L730.5 543.9 L731.2 545.7 L732.0 543.7 L732.8 545.3 L733.7 545.0 L734.5 543.6 L735.3 545.8 L736.0 545.3 L737.0 542.1 L737.7 545.2 L738.6 543.9 L739.4 543.2 L740.2 543.9 L741.1 541.6 L742.0 544.2 L742.8 543.0 L743.6 544.2 L744.5 543.7 L745.3 545.2 L746.2 542.1 L746.9 546.0 L747.9 545.1 L748.8 543.5 L749.8 545.2 L750.6 544.3 L751.6 544.9 L752.6 542.3 L753.5 543.5 L754.4 542.6 L755.2 544.0 L756.1 544.5 L756.8 542.7 L757.6 542.7 L758.5 545.4 L759.4 542.5 L760.2 543.6 L761.1 543.2 L761.9 543.7 L762.8 543.1 L763.7 542.4 L764.6 544.4 L765.3 542.8 L766.2 545.7 L767.1 541.8 L767.9 544.2 L768.6 544.2 L769.4 543.1 L770.2 543.1 L771.1 544.9 L772.0 544.9 L772.8 544.5 L773.6 544.8 L774.4 542.1 L775.3 546.0 L776.1 544.2 L777.1 544.2 L777.9 543.0 L778.8 546.0 L779.6 543.1 L780.6 544.1 L781.3 543.6 L782.2 545.4 L783.1 544.3 L784.0 544.1 L784.8 544.8 L785.5 544.8 L786.4 546.0 L787.3 544.0 L788.0 545.8 L788.9 545.1 L789.8 544.5 L790.6 543.2 L791.6 542.4 L792.4 541.8 L793.3 543.4 L794.2 540.0 L795.2 541.7 L796.0 542.6 L796.8 542.7 L797.5 545.0 L798.5 543.2 L799.2 541.2 L800.0 542.1 L801.0 541.2 L801.8 542.2 L802.6 543.4 L803.4 539.8 L804.2 542.9 L805.0 541.9 L806.0 540.0 L806.9 542.0 L807.7 540.6 L808.6 543.8 L809.5 542.5 L810.3 543.7 L811.2 543.5 L812.0 543.3 L812.7 540.9 L813.5 543.7 L814.4 539.2 L815.4 543.1 L816.3 541.0 L817.0 541.1 L817.8 541.1 L818.6 540.1 L819.4 541.6 L820.4 542.7 L821.2 543.0 L821.9 541.7 L822.8 543.0 L823.7 542.5 L824.6 544.4 L825.4 542.8 L826.2 543.5 L827.1 542.7 L827.9 546.3 L828.7 544.3 L829.5 546.2 L830.3 544.4 L831.2 545.8 L832.1 546.8 L832.9 546.1 L833.6 545.5 L834.4 545.7 L835.4 547.3 L836.3 547.6 L837.2 545.8 L838.1 543.7 L839.1 542.5 L840.0 542.4 L840.7 540.7 L841.7 540.8 L842.5 541.9 L843.4 541.9 L844.1 542.7 L844.9 540.6 L845.8 539.2 L846.7 541.8 L847.6 540.8 L848.5 542.5 L849.3 539.3 L850.0 542.9 L850.9 539.2 L851.7 542.6 L852.5 542.1 L853.4 539.5 L854.4 540.3 L855.2 541.1 L856.2 542.4 L857.0 539.4 L857.8 540.8 L858.5 542.6 L859.3 542.1 L860.1 539.2 L860.9 541.5 L861.9 540.1 L862.7 540.9 L863.5 542.4 L864.2 540.3 L865.1 541.0 L865.9 542.3 L866.6 542.0 L867.5 541.5 L868.3 540.0 L869.3 542.1 L870.0 542.8 L870.8 542.1 L871.6 542.8 L872.4 541.8 L873.3 541.7 L874.2 542.8 L875.0 542.5 L875.9 541.7 L876.7 540.5 L877.5 541.8 L878.5 542.4 L879.4 542.8 L880.1 542.3 L880.9 541.8 L881.7 542.8 L882.5 540.8 L883.4 543.5 L884.2 541.2 L885.0 541.0 L885.9 542.6 L886.7 542.0 L887.6 544.7 L888.4 541.5 L889.2 545.3 L890.2 543.0 L891.0 545.2 L891.9 543.4 L892.6 545.5 L893.5 544.8 L894.5 544.5 L895.3 545.5 L896.2 542.8 L897.0 544.9 L897.9 545.3 L898.8 544.1 L899.6 544.9 L900.5 543.3 L901.3 544.5 L902.2 546.6 L903.1 543.8 L904.0 546.0 L904.7 543.7 L905.6 545.5 L906.4 545.4 L907.3 544.2 L908.2 547.0 L908.9 543.5 L909.7 545.6 L910.6 544.4 L911.3 544.6 L912.1 543.7 L912.9 546.8 L913.8 543.8 L914.6 545.2 L915.4 544.1 L916.2 543.6 L917.0 544.0 L917.9 544.7 L918.6 542.3 L919.4 543.9 L920.3 542.4 L920.8 542.2 L921.5 550.4 L922.1 541.6 L923.0 541.4 L923.8 540.1 L924.6 540.7 L925.5 542.2 L926.2 542.7 L927.0 542.2 L927.9 540.6 L928.9 540.8 L929.7 539.8 L930.6 543.7 L931.5 539.7 L932.3 540.6 L933.2 539.9 L934.0 542.9 L934.7 541.2 L935.6 540.8 L936.4 541.6 L937.3 538.4 L938.2 543.4 L939.1 540.8 L940.0 541.6 L940.8 541.7 L941.6 540.2 L942.5 542.3 L943.3 540.0 L944.1 540.8 L945.0 540.8 L945.7 540.6 L946.5 542.9 L947.3 540.3 L948.2 541.9 L949.1 539.8 L949.9 540.0 L950.8 541.6 L951.7 540.1 L952.5 540.1 L953.4 540.7 L954.3 539.4 L955.3 542.2 L956.0 542.3 L956.8 542.2 L957.6 543.8 L958.4 541.8 L959.3 543.7 L960.2 544.9 L960.9 544.4 L961.7 544.4 L962.5 544.1 L963.2 544.4 L964.2 542.4 L965.0 543.8 L965.8 543.5 L966.7 544.8 L967.7 541.6 L968.4 542.9 L969.4 545.2 L970.1 542.6 L971.1 542.9 L972.1 542.6 L972.9 544.0 L973.8 542.3 L974.7 543.0 L975.5 542.7 L976.4 541.6 L977.2 541.0 L978.1 542.0 L978.9 541.7 L979.7 543.5 L980.5 542.1 L981.3 544.5 L982.2 545.3 L983.0 544.7 L983.9 546.9 L984.7 547.2 L985.7 544.3 L986.5 546.0 L987.2 543.3 L988.2 543.2 L988.9 540.2 L989.8 540.8 L990.7 542.3 L991.7 540.1 L992.6 539.0 L993.6 540.0 L994.3 539.4 L995.0 540.3 L995.8 540.4 L996.7 540.3 L997.4 538.3 L998.4 539.0 L999.1 540.9 L1000.0 539.5 L1000.9 540.0 L1001.7 538.0 L1002.6 539.2 L1003.5 539.7 L1004.3 539.5 L1005.1 537.2 L1006.0 539.6 L1007.0 538.3 L1007.7 538.2 L1008.5 540.1 L1009.4 538.4 L1010.3 538.2 L1011.1 539.5 L1012.0 537.4 L1012.8 538.6 L1013.7 537.5 L1014.4 539.0 L1015.2 537.4 L1016.1 538.7 L1016.9 539.0 L1017.8 536.7 L1018.7 537.6 L1019.5 538.4 L1020.3 538.7 L1021.2 537.7 L1022.1 538.8 L1022.9 537.5 L1023.6 540.4 L1024.5 541.4 L1025.4 541.7 L1026.2 544.4 L1027.0 540.3 L1027.9 541.5 L1028.7 541.2 L1029.7 540.2 L1030.6 538.7 L1031.4 537.4 L1032.1 539.0 L1033.0 537.2 L1034.0 538.7 L1034.7 537.1 L1035.5 538.9 L1036.5 539.3 L1037.3 537.8 L1038.2 537.9 L1039.1 537.7 L1039.8 539.5 L1040.6 539.3 L1041.5 540.9 L1042.5 541.1 L1043.4 541.6 L1044.3 540.8 L1045.2 540.6 L1046.1 542.5 L1046.9 541.8 L1047.7 540.4 L1048.6 540.4 L1049.6 541.3 L1050.4 538.5 L1051.3 540.5 L1052.2 539.2 L1053.1 538.9 L1054.0 540.9 L1054.8 540.4 L1055.7 541.1 L1056.6 539.8 L1057.5 540.6 L1058.3 539.7 L1059.2 541.1 L1060.0 541.4 L1061.0 542.5 L1061.7 543.4 L1062.6 541.9 L1063.4 544.2 L1064.2 543.9 L1065.2 543.1 L1066.2 542.9 L1067.1 543.4 L1068.0 544.9 L1068.9 545.0 L1069.8 543.2 L1070.8 546.7 L1071.6 542.4 L1072.3 543.4 L1073.1 546.0 L1074.0 544.5 L1075.0 543.5 L1075.7 544.9 L1076.5 544.9 L1077.3 542.4 L1078.3 544.6 L1079.1 544.6 L1080.0 542.6 L1080.9 545.6 L1081.7 542.7 L1082.4 543.3 L1083.3 545.7 L1084.2 544.9 L1085.0 543.2 L1085.8 543.3 L1086.5 545.5 L1087.5 544.2 L1088.4 544.3 L1089.2 543.6 L1090.1 542.4 L1090.8 542.2 L1091.8 541.5 L1092.5 544.1 L1093.4 542.1 L1094.3 541.5 L1095.2 539.3 L1096.1 539.4 L1096.9 539.1 L1097.6 539.5 L1098.6 540.2 L1099.5 539.9 L1100.3 537.9 L1101.1 540.3 L1101.9 538.9 L1102.7 538.1 L1103.5 539.6 L1104.3 539.9 L1105.3 538.0 L1106.2 537.4 L1107.0 538.5 L1108.0 539.1 L1108.7 538.3 L1109.7 536.0 L1110.7 538.3 L1111.5 538.3 L1112.4 540.5 L1113.3 538.0 L1114.2 540.5 L1115.0 541.0 L1115.8 539.5 L1116.5 541.2 L1117.5 538.0 L1118.3 539.2 L1119.1 539.0 L1119.9 539.2 L1120.8 536.3 L1121.6 538.3 L1122.4 538.4 L1123.2 534.5 L1124.0 535.8 L1124.9 537.0 L1125.8 538.5 L1126.8 540.8 L1127.7 539.9 L1128.5 544.0 L1129.5 543.0 L1130.4 542.5 L1131.4 542.3 L1132.3 541.8 L1133.0 544.0 L1134.0 543.1 L1134.8 540.6 L1135.5 541.1 L1136.5 541.6 L1137.3 542.2 L1138.3 541.1 L1139.2 540.9 L1140.2 541.1 L1141.1 541.0 L1141.8 542.4 L1142.6 539.5 L1143.6 540.1 L1144.5 541.2 L1145.3 539.6 L1146.2 540.9 L1147.2 539.1 L1148.1 541.3 L1148.8 540.8 L1149.6 540.4 L1150.5 537.3 L1151.4 538.0 L1152.3 538.0 L1153.3 538.6 L1154.2 538.4 L1155.2 539.3 L1155.9 538.1 L1156.8 537.7 L1157.5 538.7 L1158.3 538.3 L1159.2 535.9 L1160.0 537.9 L1161.0 535.4 L1161.7 536.2 L1162.5 536.0 L1163.3 534.7 L1164.1 536.9 L1165.0 535.7 L1165.8 536.2 L1166.5 533.2 L1167.5 535.6 L1168.4 534.2 L1169.3 535.9 L1170.0 537.5 L1170.9 536.2 L1171.8 536.2 L1172.6 538.2 L1173.5 537.3 L1174.3 537.8 L1175.0 538.1 L1175.9 539.1 L1176.8 540.2 L1177.7 538.9 L1178.5 538.2 L1179.4 539.7 L1180.2 539.1 L1181.0 539.7 L1181.8 539.7 L1182.4 538.7 L1182.7 500.2 L1183.4 480.1 L1184.3 501.5 L1185.3 519.2 L1186.5 520.4 L1188.1 529.2 L1189.1 533.0 L1190.1 528.6 L1191.2 531.8 L1192.5 533.0 L1193.7 538.1 L1195.2 543.1 L1196.1 539.9 L1196.9 540.1 L1197.8 539.2 L1198.7 539.3 L1199.5 538.5 L1200.2 539.7 L1201.2 540.0 L1202.0 538.5 L1202.9 538.7 L1203.7 541.2 L1204.5 540.4 L1205.4 541.0 L1206.2 540.6 L1207.0 542.2 L1207.8 540.6 L1208.6 541.3 L1209.4 540.9 L1210.1 540.2 L1211.1 540.2 L1212.0 537.1 L1212.8 537.4 L1213.3 536.2 L1213.7 546.9 L1214.5 545.6 L1215.4 547.1 L1216.3 546.2 L1217.2 544.8 L1218.1 543.7 L1219.0 545.5 L1219.9 546.9 L1220.8 547.0 L1221.7 545.5 L1222.6 546.6 L1223.5 547.0 L1224.2 548.1 L1225.0 547.2 L1225.9 546.0 L1226.6 546.4 L1227.4 545.9 L1228.2 547.5 L1229.1 546.5 L1229.8 548.5 L1230.7 546.4 L1231.5 548.2 L1232.4 548.6 L1233.4 549.2 L1234.1 548.5 L1234.9 547.4 L1235.7 547.0 L1236.6 546.0 L1237.3 546.7 L1238.2 544.7 L1238.9 548.4 L1239.9 546.4 L1240.7 547.4 L1241.7 546.3 L1242.6 546.3 L1243.3 546.3 L1244.1 546.3 L1244.9 546.3 L1245.8 546.3 L1246.5 546.3 L1247.5 546.3 L1248.4 546.3 L1249.2 546.3 L1250.1 546.3 L1250.9 546.3 L1251.7 543.8 L1252.5 544.9 L1253.4 545.4 L1254.3 545.6 L1255.0 542.9 L1256.0 546.0 L1256.8 543.4 L1257.8 544.5 L1258.8 545.8 L1259.5 545.5 L1260.5 544.4 L1261.4 544.7 L1262.2 543.6 L1263.1 546.8 L1263.9 544.0 L1264.8 544.2 L1265.7 544.9 L1266.5 545.2 L1267.3 544.0 L1268.2 545.5 L1269.1 544.3 L1270.0 546.5 L1270.9 544.1 L1271.9 544.4 L1272.8 546.7 L1273.7 544.4 L1274.6 545.8 L1275.5 545.8 L1276.3 543.2 L1277.1 546.4 L1278.0 543.1 L1278.9 546.3 L1279.7 544.1 L1280.4 543.2 L1281.3 544.5 L1282.3 546.2 L1283.2 544.7 L1284.1 545.0 L1285.1 544.0 L1285.9 545.4 L1286.7 544.6 L1287.6 543.3 L1288.4 542.8 L1289.2 544.0 L1290.1 542.2 L1290.8 543.7 L1291.8 542.8 L1292.6 542.7 L1293.4 543.2 L1294.4 543.8 L1295.2 543.7 L1296.1 540.8 L1297.0 542.0 L1297.8 543.5 L1298.6 542.4 L1299.3 542.7 L1300.3 542.0 L1301.2 543.3 L1302.1 541.7 L1303.0 542.2 L1303.8 542.8 L1304.8 544.5 L1305.6 543.8 L1306.3 541.1 L1307.2 543.3 L1308.1 544.7 L1309.1 542.7 L1309.9 542.6 L1310.7 541.4 L1311.6 545.6 L1312.4 543.2 L1313.4 543.4 L1314.2 545.4 L1315.0 543.6 L1315.7 545.0 L1316.5 544.8 L1317.3 544.9 L1318.3 545.9 L1319.2 545.5 L1320.0 545.2 L1321.0 544.7 L1321.9 545.8 L1322.7 545.9 L1323.5 544.7 L1324.3 546.3 L1325.2 546.9 L1326.0 546.8 L1326.8 544.0 L1327.6 545.9 L1328.4 545.7 L1329.2 545.9 L1330.2 547.7 L1331.1 546.4 L1331.9 545.0 L1332.8 545.9 L1333.5 546.8 L1334.5 543.9 L1335.4 544.5 L1336.2 544.0 L1337.0 546.4 L1337.9 545.5 L1338.9 544.9 L1339.7 542.5 L1340.5 543.4 L1341.4 543.2 L1342.2 544.6 L1343.1 544.6 L1344.0 543.9 L1344.8 542.2 L1345.7 544.7 L1346.5 541.8 L1347.4 544.8 L1348.1 544.5 L1349.1 544.3 L1349.9 541.6 L1350.8 545.1 L1351.6 543.5 L1352.4 542.6 L1353.2 543.4 L1354.1 542.9 L1355.0 542.9 L1355.8 541.4 L1356.6 544.6 L1357.5 543.8 L1358.3 541.5 L1359.0 543.5 L1359.9 543.4 L1360.6 543.2 L1361.6 542.7 L1362.4 542.5 L1363.2 544.0 L1363.9 543.4 L1364.8 543.3 L1365.6 541.3 L1366.5 542.0 L1367.3 541.7 L1368.2 542.4 L1369.1 542.3 L1370.0 543.7 L1370.8 545.1 L1371.7 541.5 L1372.4 544.2 L1373.2 543.6 L1374.0 544.7 L1374.8 546.2 L1375.8 543.5 L1376.6 547.4 L1377.5 546.2 L1378.2 546.8 L1379.1 543.6 L1380.0 547.9 L1380.9 547.8 L1381.8 547.5 L1382.7 545.9 L1383.5 547.8 L1384.3 545.1 L1385.1 549.0 L1386.1 546.1 L1386.9 547.7 L1387.7 548.1 L1388.5 550.2 L1389.5 548.6 L1390.3 551.3 L1391.2 549.4 L1392.1 550.2 L1392.9 549.5 L1393.7 548.8 L1394.5 547.2 L1395.3 550.8 L1396.0 548.0 L1397.0 548.3 L1397.8 547.4 L1398.6 549.0 L1399.5 548.3 L1400.5 546.9 L1401.2 548.1 L1402.0 546.0 L1402.9 548.2 L1403.7 547.3 L1404.5 547.8 L1405.4 545.1 L1406.2 546.6 L1407.1 544.5 L1407.9 544.6 L1408.8 545.5 L1409.6 544.6 L1410.4 545.6 L1411.4 544.4 L1412.2 544.5 L1413.1 542.0 L1413.9 543.0 L1414.6 541.4 L1415.5 541.8 L1416.4 543.7 L1417.3 539.9 L1418.2 540.4 L1419.0 542.5 L1419.7 540.5 L1420.5 540.2 L1421.3 541.3 L1422.2 541.2 L1423.1 540.6 L1424.0 542.6 L1424.9 541.7 L1425.7 538.7 L1426.7 542.4 L1427.5 539.3 L1428.4 541.5 L1429.1 540.4 L1429.8 538.8 L1430.8 542.8 L1431.7 541.4 L1432.5 542.7 L1433.4 542.7 L1434.2 542.7 L1435.1 542.7 L1436.0 542.5 L1436.9 544.1 L1437.7 543.2 L1438.5 544.8 L1439.3 543.6 L1440.1 543.2 L1440.9 541.8 L1441.6 543.5 L1442.6 542.9 L1443.4 543.0 L1444.4 543.3 L1445.2 543.6 L1445.9 544.3 L1446.8 543.9 L1447.8 542.1 L1448.8 543.6 L1449.5 542.9 L1450.3 543.8 L1451.2 542.1 L1452.0 544.2 L1452.9 542.2 L1453.7 543.3 L1454.4 545.6 L1455.2 544.4 L1456.2 544.8 L1457.0 544.7 L1457.8 544.1 L1458.7 544.5 L1459.6 544.2 L1460.5 544.3 L1461.5 546.0 L1462.2 545.4 L1463.0 545.1 L1464.0 541.9 L1464.8 549.4 L1465.7 547.0 L1466.5 550.1 L1467.4 546.4 L1468.2 547.5 L1469.2 547.6 L1470.0 547.1 L1470.8 548.5 L1471.6 547.7 L1472.5 545.6 L1473.5 548.6 L1474.4 547.5 L1475.2 548.1 L1476.0 547.1 L1477.0 547.6 L1477.8 549.2 L1478.5 549.1 L1479.2 548.8 L1480.2 549.4 L1481.1 548.0 L1482.0 549.6 L1482.9 547.6 L1483.6 549.9 L1484.6 550.1 L1485.3 550.1 L1486.2 548.1 L1487.1 549.2 L1488.0 547.8 L1488.7 550.4 L1489.5 548.7 L1490.5 549.6 L1491.3 549.1 L1492.2 547.9 L1493.1 550.1 L1494.0 547.2 L1494.8 550.2 L1495.6 547.9 L1496.5 547.3 L1497.4 547.7 L1498.3 547.1 L1499.1 549.8 L1499.9 547.8 L1500.7 547.0 L1501.5 547.2 L1502.4 546.9 L1503.1 550.4 L1503.9 547.3 L1504.8 547.0 L1505.6 547.3 L1506.5 548.5 L1507.4 547.1 L1508.2 547.4 L1509.1 547.0 L1510.0 546.3 L1511.0 546.6 L1511.8 545.4 L1512.8 546.1 L1513.5 545.9 L1514.3 547.7 L1515.1 544.2 L1516.0 546.2 L1516.8 546.1 L1517.6 544.6 L1518.4 545.2 L1519.3 544.7 L1520.2 546.4 L1521.1 544.8 L1521.8 545.9 L1522.6 543.6 L1523.4 544.5 L1524.3 546.3 L1525.2 546.7 L1526.0 544.8 L1526.9 546.3 L1527.8 546.4 L1528.6 546.8 L1529.5 546.2 L1530.4 547.7 L1531.1 547.4 L1532.1 547.1 L1533.0 547.1 L1533.9 546.4 L1534.7 547.7 L1535.4 545.6 L1536.2 548.9 L1537.1 546.0 L1538.0 548.4 L1538.8 545.8 L1539.6 544.5 L1540.5 546.1 L1541.2 545.6 L1542.1 546.8 L1543.0 546.4 L1543.9 543.4 L1544.7 543.4 L1545.5 544.1 L1546.5 543.2 L1547.3 544.2 L1548.3 543.7 L1549.1 542.8 L1550.0 541.4 L1551.0 543.2 L1551.8 546.4 L1552.6 546.0 L1553.3 547.3 L1554.1 549.3 L1554.9 546.7 L1555.7 547.6 L1556.4 547.6 L1557.1 548.6 L1558.0 549.8 L1559.0 545.9 L1559.8 548.3 L1560.7 548.5 L1561.6 547.4 L1562.4 550.0 L1563.2 548.1 L1564.0 548.1 L1564.9 549.6 L1565.8 545.5 L1566.6 551.5 L1567.5 546.9 L1568.4 550.6 L1569.3 547.2 L1570.2 550.8 L1571.0 549.6 L1571.9 547.5 L1572.8 546.9 L1573.6 548.3 L1574.4 550.1 L1575.1 545.2 L1576.0 549.0 L1576.9 549.6 L1577.8 548.2 L1578.7 548.1 L1579.5 550.8 L1580.3 550.1 L1581.2 547.2 L1582.0 551.9 L1583.0 548.3 L1583.9 547.7 L1584.7 548.6 L1585.5 549.0 L1586.4 550.6 L1587.2 547.3 L1588.1 549.2 L1589.0 552.2 L1589.8 548.3 L1590.7 552.9 L1591.6 548.2 L1592.5 549.3 L1593.2 552.2 L1594.1 549.7 L1594.9 548.2 L1595.9 552.1 L1596.7 548.2 L1597.5 552.2 L1598.4 548.9 L1599.2 552.6 L1600.1 550.1 L1600.8 546.1 L1601.6 554.1 L1602.3 546.2 L1603.1 549.8 L1603.8 549.6 L1604.6 548.8 L1605.4 551.2 L1606.3 547.0 L1607.2 549.4 L1608.0 547.8 L1608.8 547.7 L1609.7 549.3 L1610.6 548.8 L1611.5 550.4 L1612.4 547.5 L1613.3 550.8 L1614.0 549.8 L1615.0 549.1 L1615.8 549.8 L1616.6 546.1 L1617.4 548.1 L1618.3 550.9 L1619.2 544.9 L1620.0 550.4 L1620.9 547.5 L1621.7 549.5 L1622.6 546.8 L1623.4 549.2 L1624.3 546.4 L1625.2 546.4 L1626.0 546.7 L1626.8 543.7 L1627.7 546.5 L1628.4 541.7 L1629.4 545.7 L1630.2 540.9 L1631.0 542.4 L1631.8 543.6 L1632.6 542.9 L1633.4 542.7 L1634.2 544.2 L1635.0 543.3 L1635.8 544.4 L1636.7 543.1 L1637.5 542.0 L1638.2 545.4 L1639.0 544.5 L1639.9 544.2 L1640.8 541.0 L1641.7 542.1 L1642.7 543.8 L1643.5 543.7 L1644.3 543.5 L1645.2 542.2 L1646.0 543.3 L1646.8 542.1 L1647.5 542.9 L1648.3 540.4 L1649.2 544.3 L1650.2 543.4 L1651.1 542.6 L1652.0 544.0 L1652.7 543.4 L1653.6 544.4 L1654.3 544.0 L1655.1 546.0 L1655.9 544.7 L1656.7 544.3 L1657.7 546.7 L1658.5 544.2 L1659.3 544.1 L1660.0 545.5 L1660.9 544.5 L1661.8 543.9 L1662.6 546.3 L1663.4 545.6 L1664.3 548.0 L1665.1 547.0 L1665.8 545.8 L1666.7 546.1 L1667.6 546.1 L1668.4 547.5 L1669.2 546.3 L1670.1 548.3 L1671.1 546.9 L1671.9 547.3 L1672.7 546.7 L1673.5 545.7 L1674.3 547.1 L1675.2 545.1 L1676.0 546.6 L1676.8 547.8 L1677.8 546.5 L1678.5 546.9 L1679.3 548.4 L1680.3 546.0 L1681.0 546.6 L1682.0 549.1 L1682.8 546.8 L1683.7 547.2 L1684.4 549.2 L1685.2 548.8 L1686.2 546.7 L1687.1 549.3 L1688.1 547.1 L1688.9 549.5 L1689.8 547.8 L1690.7 546.9 L1691.5 549.9 L1692.4 547.1 L1693.3 549.9 L1694.1 547.5 L1695.1 547.5 L1695.8 548.9 L1696.7 549.2 L1697.7 548.3 L1698.4 547.5 L1699.3 549.0 L1700.0 547.5 L1700.9 549.0 L1701.6 549.2 L1702.6 548.8 L1703.3 550.5 L1704.2 548.3 L1705.0 549.8 L1705.9 550.5 L1706.6 547.8 L1707.6 550.8 L1708.4 548.7 L1709.2 551.4 L1710.0 549.6 L1710.8 549.5 L1711.6 549.2 L1712.5 549.5 L1713.3 548.7 L1714.3 549.7 L1715.0 550.5 L1715.9 548.5 L1716.7 552.4 L1717.7 549.9 L1718.4 551.6 L1719.2 550.0 L1720.2 552.0 L1721.0 548.7 L1721.8 549.4 L1722.5 549.4 L1723.3 551.4 L1724.2 550.2 L1725.0 546.8 L1725.8 552.7 L1726.7 549.5 L1727.7 550.7 L1728.5 549.4 L1729.3 551.2 L1730.0 549.9 L1730.9 549.5 L1731.7 550.7 L1732.6 549.0 L1733.4 552.0 L1734.3 548.6 L1735.1 551.4 L1736.0 551.3 L1736.8 550.3 L1737.7 550.8 L1738.5 550.2 L1739.3 550.3 L1740.2 550.3 L1741.1 548.6 L1742.0 551.3 L1742.8 547.5 L1743.8 550.3 L1744.6 550.8 L1745.4 549.0 L1746.1 552.9 L1747.0 550.5 L1747.8 548.3 L1748.6 549.4 L1749.5 549.2 L1750.4 550.2 L1751.2 548.9 L1752.1 551.1 L1753.0 550.7 L1753.8 547.8 L1754.7 550.1 L1755.6 549.9 L1756.6 550.4 L1757.4 550.2 L1758.4 548.2 L1759.3 547.6 L1760.1 550.2 L1761.0 549.4 L1761.9 546.7 L1762.8 549.3 L1763.7 547.1 L1764.5 550.7 L1765.4 547.1 L1766.2 551.4 L1767.1 549.3 L1767.9 546.6 L1768.7 548.6 L1769.6 551.6 L1770.5 549.6 L1771.3 548.4 L1772.1 550.0 L1772.9 547.3 L1773.7 548.1 L1774.5 549.9 L1775.3 545.8 L1776.1 548.5 L1776.8 546.0 L1777.6 545.0 L1778.6 545.7 L1779.3 543.6 L1780.1 543.8 L1780.9 545.3 L1781.8 544.9 L1782.7 543.2 L1783.7 545.3 L1784.5 543.8 L1785.5 544.1 L1786.2 544.6 L1787.0 544.5 L1787.8 547.9 L1788.5 546.8 L1789.4 544.4 L1790.1 549.4 L1791.0 544.2 L1791.8 547.1 L1792.6 546.2 L1793.6 541.6 L1794.4 546.0 L1795.2 543.1 L1796.1 542.8 L1796.8 543.0 L1797.7 541.0 L1798.7 540.8 L1799.6 543.0 L1800.6 538.3 L1801.5 539.8 L1802.3 541.0 L1803.1 540.0 L1803.8 539.2 L1804.6 539.1 L1805.4 542.6 L1806.2 541.1 L1807.0 540.2 L1807.7 543.0 L1808.5 541.9 L1809.4 543.0 L1810.2 543.6 L1811.0 541.9 L1811.8 542.6 L1812.7 542.1 L1813.5 539.1 L1814.3 541.5 L1815.1 542.7 L1816.0 539.6 L1816.9 541.8 L1817.8 540.8 L1818.7 541.8 L1819.5 543.4 L1820.2 543.8 L1821.0 543.8 L1821.8 544.5 L1822.8 540.7 L1823.8 539.7 L1824.6 537.9 L1825.3 540.2 L1826.1 541.5 L1827.0 544.5 L1827.8 543.5 L1828.8 542.0 L1829.5 545.5 L1830.5 544.4 L1831.4 542.1 L1832.3 543.1 L1833.1 543.2 L1834.0 542.9 L1834.7 541.5 L1835.7 541.4 L1836.5 542.5 L1837.3 541.2 L1838.0 539.3 L1839.0 541.9 L1839.9 539.9 L1840.6 542.1 L1841.5 538.6 L1842.4 542.6 L1843.4 540.8 L1844.2 538.3 L1845.2 540.7 L1846.0 539.8 L1846.9 540.9 L1847.7 540.9 L1848.6 538.9 L1849.5 540.1 L1850.4 540.6 L1851.4 539.5 L1852.1 541.1 L1852.9 541.2 L1853.8 539.6 L1854.6 538.8 L1855.4 542.1 L1856.2 543.3 L1857.0 541.9 L1857.8 547.2 L1858.6 546.0 L1859.5 550.9 L1860.4 551.4 L1861.4 550.0 L1862.1 551.9 L1862.8 554.4 L1863.7 554.4 L1864.6 555.3 L1865.5 560.9 L1866.5 564.9 L1867.3 562.9 L1868.2 565.2 L1869.0 563.4 L1869.8 564.8 L1870.7 566.1 L1871.5 567.0 L1872.2 566.8 L1873.0 567.6 L1873.9 569.0 L1874.6 570.0 L1875.4 566.8 L1876.3 565.6 L1877.2 563.8 L1878.1 561.1 L1878.9 560.1 L1879.8 560.1 L1880.6 559.1 L1881.4 556.7 L1882.3 557.8 L1883.2 554.9 L1883.9 556.2 L1884.8 556.2 L1885.5 556.8 L1886.5 557.9 L1887.4 556.1 L1888.3 559.4 L1889.2 558.7 L1890.1 559.1 L1890.9 558.4 L1891.9 557.8 L1892.6 556.8 L1893.6 558.0 L1894.5 555.4 L1895.4 551.9 L1896.2 552.7 L1897.0 546.9 L1897.9 546.0 L1898.8 542.4 L1899.6 544.4 L1900.4 545.6 L1901.2 542.9 L1902.2 540.5 L1903.0 539.3 L1903.9 541.0 L1904.9 539.4 L1905.8 536.9 L1906.7 532.6 L1907.4 530.3 L1908.4 529.6 L1909.1 528.2 L1910.0 528.1 L1910.8 526.5 L1911.5 528.7 L1912.4 527.2 L1913.3 530.1 L1914.1 529.5 L1914.9 533.9 L1915.7 533.7 L1916.5 534.6 L1917.3 534.7 L1918.1 536.5 L1919.0 536.7 L1919.9 537.9 L1920.7 538.9 L1921.5 539.5 L1922.2 541.3 L1923.1 545.1 L1924.0 548.6 L1924.9 551.8 L1925.8 552.7 L1926.5 552.6 L1927.4 553.6 L1928.3 555.4 L1929.1 557.4 L1930.1 558.0 L1930.8 560.8 L1931.7 562.3 L1932.5 566.6 L1933.4 566.2 L1934.2 567.2 L1935.0 564.5 L1935.8 562.2 L1936.6 560.8 L1937.4 556.1 L1938.1 555.0 L1939.1 551.0 L1940.1 546.9 L1940.8 546.0 L1941.8 544.0 L1942.5 544.0 L1943.4 543.3 L1944.3 543.2 L1945.2 546.7 L1946.1 543.9 L1947.0 546.2 L1947.9 546.9 L1948.7 547.1 L1949.7 548.4 L1950.4 548.3 L1951.3 549.6 L1952.1 549.4 L1953.1 548.9 L1953.8 550.0 L1954.6 551.0 L1955.4 550.7 L1956.2 550.4 L1957.1 551.9 L1958.0 550.5 L1958.9 552.4 L1959.8 551.5 L1960.8 550.6 L1961.6 551.1 L1962.6 551.7 L1963.5 552.6 L1964.2 552.4 L1965.0 551.8 L1965.9 551.0 L1966.9 553.4 L1967.8 552.5 L1968.6 554.9 L1969.4 554.7 L1970.2 553.8 L1971.1 556.7 L1971.9 557.9 L1972.7 557.1 L1973.7 559.5 L1974.6 561.3 L1975.4 560.6 L1976.1 560.2 L1977.1 559.0 L1978.0 556.7 L1978.8 555.1 L1979.6 553.9 L1980.4 551.5 L1981.2 549.6 L1981.9 550.0 L1982.7 546.9 L1983.4 545.2 L1984.1 545.1 L1985.0 544.6 L1985.8 544.4 L1986.7 543.1 L1987.6 544.0 L1988.5 540.5 L1989.5 539.1 L1990.5 538.8 L1991.4 538.4 L1992.2 536.5 L1993.1 535.9 L1994.0 537.7 L1994.8 533.6 L1995.6 534.9 L1996.3 535.7 L1997.3 534.0 L1998.1 533.0 L1999.0 532.3 L1999.8 532.2 L2000.6 533.0 L2001.5 532.7 L2002.3 533.8 L2003.2 533.5 L2004.0 533.4 L2004.9 534.0 L2005.7 534.2 L2006.5 537.1 L2007.4 537.2 L2008.2 539.8 L2009.1 546.2 L2010.0 548.6 L2011.0 545.2 L2011.7 547.9 L2012.5 546.2 L2013.4 545.3 L2014.4 547.9 L2015.2 545.9 L2016.2 547.4 L2017.0 547.9 L2017.9 548.7 L2018.9 549.8 L2019.6 549.7 L2020.5 549.9 L2021.4 549.9 L2022.2 551.8 L2023.1 550.6 L2023.9 550.7 L2024.7 551.3 L2025.7 553.4 L2026.6 554.9 L2027.5 557.8 L2028.3 557.2 L2029.0 559.7 L2029.8 560.6 L2030.7 559.4 L2031.5 558.4 L2032.2 557.8 L2033.0 558.5 L2033.8 558.2 L2034.6 558.1 L2035.6 557.5 L2036.5 556.1 L2037.2 556.1 L2038.1 557.2 L2038.8 557.1 L2039.6 555.0 L2040.5 556.1 L2041.4 555.1 L2042.2 555.7 L2043.0 555.1 L2043.7 555.6 L2044.5 554.0 L2045.3 554.7 L2046.1 554.3 L2047.0 555.1 L2047.7 555.1 L2048.7 553.9 L2049.5 554.9 L2050.3 554.6 L2051.0 553.7 L2051.7 554.1 L2052.7 551.8 L2053.6 552.4 L2054.4 551.7 L2055.2 550.8 L2056.1 549.6 L2057.0 550.3 L2058.0 548.2 L2058.9 547.4 L2059.8 547.3 L2060.7 545.7 L2061.5 546.8 L2062.5 546.0 L2063.3 545.9 L2064.3 545.0 L2065.3 545.0 L2066.2 546.6 L2067.1 544.1 L2068.1 544.3 L2068.8 542.3 L2069.8 543.1 L2070.7 539.8 L2071.5 539.7 L2072.4 541.1 L2073.2 541.4 L2074.0 540.8 L2074.9 543.2 L2075.8 541.1 L2076.7 541.7 L2077.7 540.5 L2078.5 541.9 L2079.4 540.6 L2080.3 541.2 L2081.3 538.1 L2082.1 538.8 L2082.9 539.3 L2083.7 537.6 L2084.5 538.7 L2085.2 538.8 L2086.1 538.8 L2087.1 539.5 L2087.9 538.1 L2088.7 539.9 L2089.5 539.6 L2090.3 539.9 L2091.2 541.4 L2092.1 539.9 L2092.9 542.0 L2093.7 540.6 L2094.4 543.1 L2095.3 541.6 L2096.1 544.4 L2096.9 544.1 L2097.7 544.8 L2098.4 547.1 L2099.3 544.0 L2100.1 546.0 L2101.0 546.4 L2101.9 544.0 L2102.8 546.4 L2103.7 544.1 L2104.5 546.7 L2105.2 543.7 L2106.2 545.3 L2107.1 544.7 L2107.9 546.4 L2108.8 548.3 L2109.7 546.2 L2110.6 546.7 L2111.4 546.0 L2112.2 546.9 L2113.0 546.1 L2113.8 548.7 L2114.5 547.3 L2115.4 547.2 L2116.3 546.4 L2117.2 548.7 L2118.1 546.0 L2119.1 547.3 L2119.9 546.0 L2120.8 545.7 L2121.6 547.8 L2122.4 546.7 L2123.3 545.9 L2124.2 548.5 L2125.1 545.6 L2125.9 547.5 L2126.8 546.3 L2127.6 548.5 L2128.5 547.8 L2129.4 546.4 L2130.3 547.4 L2131.0 546.3 L2131.9 548.5 L2132.8 547.8 L2133.7 547.0 L2134.5 546.5 L2135.3 548.0 L2136.1 549.2 L2136.9 548.3 L2137.7 547.7 L2138.6 547.3 L2139.4 548.2 L2140.2 548.2 L2141.1 548.1 L2141.9 546.3 L2142.7 548.5 L2143.6 549.3 L2144.4 548.2 L2145.3 547.7 L2146.1 549.4 L2147.0 550.0 L2148.0 550.8 L2148.8 549.0 L2149.7 551.8 L2150.7 549.2 L2151.6 552.1 L2152.4 550.2 L2153.3 552.0 L2154.1 551.2 L2155.0 552.4 L2155.8 550.9 L2156.6 551.7 L2157.4 553.1 L2158.3 553.5 L2159.2 553.3 L2160.1 553.5 L2161.1 555.0 L2162.0 551.0 L2162.8 550.7 L2163.6 550.7 L2164.4 549.0 L2165.2 551.7 L2166.0 551.6 L2166.9 553.6 L2167.7 550.4 L2168.7 549.9 L2169.5 549.6 L2170.3 549.0" stroke="#00d414" stroke-width="1.1"/>
</g>
<rect x="328.5" y="75.8" width="1849.9" height="1096.5" fill="none" stroke="#000" stroke-width="5.0" stroke-linejoin="round"/>
<g stroke="#000" stroke-linecap="round" fill="none">
<line x1="297.7" y1="81.2" x2="318.2" y2="81.2" stroke-width="5.7"/>
<line x1="297.7" y1="216.2" x2="318.2" y2="216.2" stroke-width="5.7"/>
<line x1="297.7" y1="387.8" x2="318.2" y2="387.8" stroke-width="5.7"/>
<line x1="297.7" y1="554.1" x2="318.2" y2="554.1" stroke-width="5.7"/>
<line x1="297.7" y1="725.4" x2="318.2" y2="725.4" stroke-width="5.7"/>
<line x1="297.7" y1="896.7" x2="318.2" y2="896.7" stroke-width="5.7"/>
<line x1="297.7" y1="1062.9" x2="318.2" y2="1062.9" stroke-width="5.7"/>
<line x1="297.7" y1="1166.8" x2="318.2" y2="1166.8" stroke-width="5.7"/>
<line x1="333.6" y1="1182.9" x2="333.6" y2="1203.1" stroke-width="5.3"/>
<line x1="489.6" y1="1182.9" x2="489.6" y2="1203.1" stroke-width="5.3"/>
<line x1="640.3" y1="1182.9" x2="640.3" y2="1203.1" stroke-width="5.3"/>
<line x1="796.0" y1="1182.9" x2="796.0" y2="1203.1" stroke-width="5.3"/>
<line x1="946.6" y1="1182.9" x2="946.6" y2="1203.1" stroke-width="5.3"/>
<line x1="1102.4" y1="1182.9" x2="1102.4" y2="1203.1" stroke-width="5.3"/>
<line x1="1253.2" y1="1182.9" x2="1253.2" y2="1203.1" stroke-width="5.3"/>
<line x1="1409.2" y1="1182.9" x2="1409.2" y2="1203.1" stroke-width="5.3"/>
<line x1="1559.6" y1="1182.9" x2="1559.6" y2="1203.1" stroke-width="5.3"/>
<line x1="1715.5" y1="1182.9" x2="1715.5" y2="1203.1" stroke-width="5.3"/>
<line x1="1866.2" y1="1182.9" x2="1866.2" y2="1203.1" stroke-width="5.3"/>
<line x1="2022.0" y1="1182.9" x2="2022.0" y2="1203.1" stroke-width="5.3"/>
<line x1="2172.8" y1="1182.9" x2="2172.8" y2="1203.1" stroke-width="5.3"/>
</g>
<g font-size="69.30">
<text transform="translate(289.2 104.7) scale(0.8560 1)" text-anchor="end">1.4</text>
<text transform="translate(289.2 239.4) scale(0.8560 1)" text-anchor="end">1</text>
<text transform="translate(289.2 411.3) scale(0.8560 1)" text-anchor="end">0.5</text>
<text transform="translate(289.2 577.2) scale(0.8560 1)" text-anchor="end">0</text>
<text transform="translate(289.2 749.4) scale(0.8560 1)" text-anchor="end">-0.5</text>
<text transform="translate(289.2 919.4) scale(0.8560 1)" text-anchor="end">-1</text>
<text transform="translate(289.2 1085.9) scale(0.8560 1)" text-anchor="end">-1.5</text>
<text transform="translate(289.2 1189.4) scale(0.8560 1)" text-anchor="end">-1.8</text>
<text transform="translate(333.6 1263.8) scale(0.8560 1)" text-anchor="middle">0</text>
<text transform="translate(489.6 1263.8) scale(0.8560 1)" text-anchor="middle">50</text>
<text transform="translate(640.3 1263.8) scale(0.8560 1)" text-anchor="middle">100</text>
<text transform="translate(796.0 1263.8) scale(0.8560 1)" text-anchor="middle">150</text>
<text transform="translate(946.6 1263.8) scale(0.8560 1)" text-anchor="middle">200</text>
<text transform="translate(1102.4 1263.8) scale(0.8560 1)" text-anchor="middle">250</text>
<text transform="translate(1253.2 1263.8) scale(0.8560 1)" text-anchor="middle">300</text>
<text transform="translate(1409.2 1263.8) scale(0.8560 1)" text-anchor="middle">350</text>
<text transform="translate(1559.6 1263.8) scale(0.8560 1)" text-anchor="middle">400</text>
<text transform="translate(1715.5 1263.8) scale(0.8560 1)" text-anchor="middle">450</text>
<text transform="translate(1866.2 1263.8) scale(0.8560 1)" text-anchor="middle">500</text>
<text transform="translate(2022.0 1263.8) scale(0.8560 1)" text-anchor="middle">550</text>
<text transform="translate(2172.8 1263.8) scale(0.8560 1)" text-anchor="middle">600</text>
</g>
<text transform="translate(1130.9 1345.6) scale(0.7760 1)" font-size="81.20">Time (s)</text>
<text xml:space="preserve" transform="translate(150.3 982.0) rotate(-90) scale(0.7740 1)" font-size="71.90">Harmonic  Active Power (kW)</text>
<rect x="1508.2" y="75.9" width="670.1" height="379.4" rx="14" ry="14" fill="#fff" stroke="#000" stroke-width="5.4"/>
<path d="M1528.2 75.8 H2178.4 V475.3" fill="none" stroke="#000" stroke-width="5.0" stroke-linejoin="round"/>
<defs><clipPath id="lc"><rect x="1957.1" y="-60" width="129.8" height="120"/></clipPath></defs>
<text transform="translate(1583.2 156.7) scale(0.8000 1)" font-size="70.00">H. Power-3</text>
<g transform="translate(0 138.4)">
<rect x="1949.4" y="-41.8" width="145.7" height="83.6" fill="#fff" stroke="#000" stroke-width="5.2" stroke-linejoin="round"/>
<polyline clip-path="url(#lc)" points="1956.6,13.3 2019.4,-28.8 2082.2,13.3 2145,-28.8" fill="none" stroke="#66ff00" stroke-width="10.2" stroke-linejoin="round" stroke-linecap="round"/>
</g>
<text transform="translate(1583.2 275.7) scale(0.8000 1)" font-size="70.00">H. Power-5</text>
<g transform="translate(0 257.8)">
<rect x="1949.4" y="-41.8" width="145.7" height="83.6" fill="#fff" stroke="#000" stroke-width="5.2" stroke-linejoin="round"/>
<polyline clip-path="url(#lc)" points="1956.6,13.3 2019.4,-28.8 2082.2,13.3 2145,-28.8" fill="none" stroke="#2f44ff" stroke-width="10.2" stroke-linejoin="round" stroke-linecap="round"/>
</g>
<text transform="translate(1583.2 394.9) scale(0.8000 1)" font-size="70.00">H. Power-17</text>
<g transform="translate(0 377.3)">
<rect x="1949.4" y="-41.8" width="145.7" height="83.6" fill="#fff" stroke="#000" stroke-width="5.2" stroke-linejoin="round"/>
<polyline clip-path="url(#lc)" points="1956.6,13.3 2019.4,-28.8 2082.2,13.3 2145,-28.8" fill="none" stroke="#ff0000" stroke-width="10.2" stroke-linejoin="round" stroke-linecap="round"/>
</g>
</svg></body></html>
